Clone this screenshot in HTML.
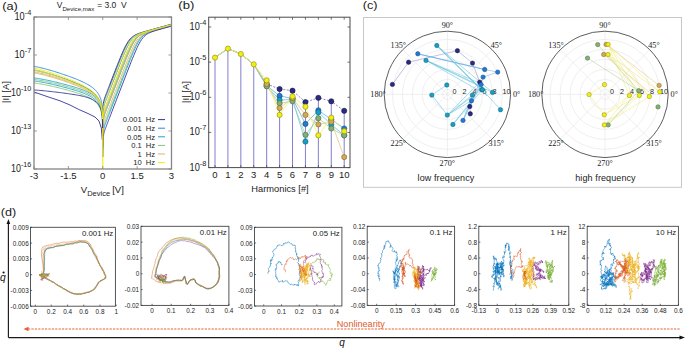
<!DOCTYPE html>
<html><head><meta charset="utf-8"><style>
html,body{margin:0;padding:0;background:#fff;width:685px;height:349px;overflow:hidden}
svg{display:block}

</style></head><body>
<svg width="685" height="349" viewBox="0 0 685 349">
<rect width="685" height="349" fill="#fff"/>
<text x="2.2" y="9.6" font-size="11" fill="#222" font-family="Liberation Sans, sans-serif" textLength="15.6" lengthAdjust="spacingAndGlyphs">(a)</text>
<text x="178.3" y="9.4" font-size="11" fill="#222" font-family="Liberation Sans, sans-serif" textLength="16" lengthAdjust="spacingAndGlyphs">(b)</text>
<text x="362.7" y="8.9" font-size="11" fill="#222" font-family="Liberation Sans, sans-serif" textLength="14.8" lengthAdjust="spacingAndGlyphs">(c)</text>
<text x="0.8" y="215.9" font-size="11" fill="#222" font-family="Liberation Sans, sans-serif" textLength="15.4" lengthAdjust="spacingAndGlyphs">(d)</text>
<text x="56.80" y="8.10" font-size="8.4" text-anchor="start" fill="#222" font-family="Liberation Sans, sans-serif" >V</text>
<text x="62.40" y="11.10" font-size="6.1" text-anchor="start" fill="#222" font-family="Liberation Sans, sans-serif" >Device,max</text>
<text x="97.20" y="8.10" font-size="8.5" text-anchor="start" fill="#222" font-family="Liberation Sans, sans-serif" >= 3.0&#160; V</text>
<polyline points="34.00,79.50 35.15,79.60 36.29,79.75 37.44,79.91 38.58,80.09 39.73,80.28 40.87,80.47 42.02,80.68 43.17,80.90 44.31,81.12 45.46,81.34 46.60,81.58 47.75,81.82 48.90,82.06 50.04,82.31 51.19,82.56 52.33,82.82 53.48,83.08 54.62,83.35 55.77,83.62 56.92,83.90 58.06,84.17 59.21,84.46 60.35,84.74 61.50,85.03 62.65,85.32 63.79,85.62 64.94,85.92 66.08,86.23 67.23,86.53 68.38,86.85 69.52,87.17 70.67,87.49 71.81,87.82 72.96,88.15 74.10,88.49 75.25,88.84 76.40,89.19 77.54,89.56 78.69,89.93 79.83,90.31 80.98,90.71 82.12,91.13 83.27,91.56 84.42,92.01 85.56,92.48 86.71,92.98 87.85,93.52 89.00,94.09 90.15,94.71 91.29,95.38 92.44,96.12 93.58,96.94 94.73,97.86 95.88,98.91 96.10,99.14 96.33,99.38 96.56,99.62 96.79,99.88 97.02,100.14 97.25,100.41 97.48,100.69 97.71,100.99 97.94,101.29 98.17,101.61 98.40,101.95 98.62,102.30 98.85,102.67 99.08,103.05 99.31,103.46 99.54,103.90 99.77,104.37 100.00,104.87 100.23,105.40 100.46,105.99 100.69,106.63 100.92,107.34 101.15,108.14 101.38,109.05 101.60,110.12 101.83,111.42 102.06,113.07 102.11,113.46 102.15,113.88 102.20,114.34 102.25,114.83 102.29,115.37 102.34,115.96 102.38,116.62 102.43,117.37 102.47,118.23 102.52,119.25 102.57,120.49 102.61,122.09 102.66,124.34 102.70,128.16 102.71,128.74 102.71,129.39 102.72,129.75 102.78,134.43 102.79,134.07 102.79,133.41 102.80,132.82 102.84,128.91 102.89,126.58 102.93,124.91 102.98,123.60 103.03,122.53 103.07,121.62 103.12,120.83 103.16,120.13 103.21,119.51 103.25,118.96 103.30,118.45 103.35,117.99 103.39,117.56 103.44,117.17 103.67,115.58 103.90,114.39 104.12,113.44 104.35,112.62 104.58,111.90 104.81,111.22 105.04,110.58 105.27,109.96 105.50,109.34 105.73,108.74 105.96,108.14 106.19,107.54 106.42,106.94 106.65,106.34 106.88,105.75 107.10,105.15 107.33,104.55 107.56,103.96 107.79,103.36 108.02,102.77 108.25,102.17 108.48,101.58 108.71,100.98 108.94,100.39 109.17,99.79 109.40,99.20 109.62,98.60 110.77,95.63 111.92,92.65 113.06,89.68 114.21,86.71 115.35,83.74 116.50,80.77 117.65,77.80 118.79,74.85 119.94,71.89 121.08,68.96 122.23,66.03 123.38,63.13 124.52,60.26 125.67,57.44 126.81,54.68 127.96,51.99 129.10,49.42 130.25,46.99 131.40,44.74 132.54,42.69 133.69,40.86 134.83,39.28 135.98,37.93 137.12,36.80 138.27,35.86 139.42,35.07 140.56,34.41 141.71,33.84 142.85,33.35 144.00,32.90 145.15,32.50 146.29,32.12 147.44,31.76 148.58,31.41 149.73,31.07 150.88,30.74 152.02,30.41 153.17,30.09 154.31,29.77 155.46,29.45 156.60,29.13 157.75,28.81 158.90,28.49 160.04,28.17 161.19,27.86 162.33,27.54 163.48,27.22 164.62,26.91 165.77,26.59 166.92,26.27 168.06,25.96 169.21,25.64 170.35,25.32 171.50,25.01" fill="none" stroke="#86c47a" stroke-width="0.9" stroke-linejoin="round" />
<polyline points="34.00,83.00 35.15,83.10 36.29,83.25 37.44,83.41 38.58,83.59 39.73,83.78 40.87,83.97 42.02,84.18 43.17,84.40 44.31,84.62 45.46,84.84 46.60,85.08 47.75,85.32 48.90,85.56 50.04,85.81 51.19,86.06 52.33,86.32 53.48,86.58 54.62,86.85 55.77,87.12 56.92,87.40 58.06,87.67 59.21,87.96 60.35,88.24 61.50,88.53 62.65,88.82 63.79,89.12 64.94,89.42 66.08,89.73 67.23,90.03 68.38,90.35 69.52,90.67 70.67,90.99 71.81,91.32 72.96,91.65 74.10,91.99 75.25,92.34 76.40,92.69 77.54,93.06 78.69,93.43 79.83,93.81 80.98,94.21 82.12,94.63 83.27,95.06 84.42,95.51 85.56,95.98 86.71,96.48 87.85,97.02 89.00,97.59 90.15,98.21 91.29,98.88 92.44,99.62 93.58,100.44 94.73,101.36 95.88,102.41 96.10,102.64 96.33,102.88 96.56,103.12 96.79,103.38 97.02,103.64 97.25,103.91 97.48,104.19 97.71,104.49 97.94,104.79 98.17,105.11 98.40,105.45 98.62,105.80 98.85,106.17 99.08,106.55 99.31,106.96 99.54,107.40 99.77,107.87 100.00,108.37 100.23,108.90 100.46,109.49 100.69,110.13 100.92,110.84 101.15,111.64 101.38,112.55 101.60,113.62 101.83,114.92 102.06,116.57 102.11,116.96 102.15,117.38 102.20,117.84 102.25,118.33 102.29,118.87 102.34,119.46 102.38,120.12 102.43,120.87 102.47,121.73 102.52,122.75 102.57,123.99 102.61,125.59 102.66,127.84 102.70,131.66 102.71,132.24 102.71,132.89 102.72,133.25 102.78,146.12 102.79,145.76 102.79,145.10 102.80,144.51 102.84,140.60 102.89,138.27 102.93,136.60 102.98,135.29 103.03,134.22 103.07,133.31 103.12,132.52 103.16,131.82 103.21,131.20 103.25,130.65 103.30,130.14 103.35,129.68 103.39,129.25 103.44,128.86 103.67,127.27 103.90,126.08 104.12,125.13 104.35,124.31 104.58,123.59 104.81,122.91 105.04,122.27 105.27,121.65 105.50,121.03 105.73,120.43 105.96,119.82 106.19,119.23 106.42,118.63 106.65,118.03 106.88,117.43 107.10,116.84 107.33,116.24 107.56,115.65 107.79,115.05 108.02,114.46 108.25,113.86 108.48,113.27 108.71,112.67 108.94,112.08 109.17,111.48 109.40,110.88 109.62,110.29 110.77,107.31 111.92,104.34 113.06,101.36 114.21,98.39 115.35,95.41 116.50,92.44 117.65,89.46 118.79,86.49 119.94,83.52 121.08,80.55 122.23,77.59 123.38,74.63 124.52,71.67 125.67,68.73 126.81,65.81 127.96,62.90 129.10,60.03 130.25,57.20 131.40,54.42 132.54,51.73 133.69,49.14 134.83,46.69 135.98,44.41 137.12,42.33 138.27,40.47 139.42,38.86 140.56,37.48 141.71,36.32 142.85,35.35 144.00,34.55 145.15,33.87 146.29,33.29 147.44,32.79 148.58,32.34 149.73,31.93 150.88,31.54 152.02,31.18 153.17,30.83 154.31,30.49 155.46,30.16 156.60,29.83 157.75,29.51 158.90,29.18 160.04,28.86 161.19,28.55 162.33,28.23 163.48,27.91 164.62,27.59 165.77,27.27 166.92,26.96 168.06,26.64 169.21,26.32 170.35,26.01 171.50,25.69" fill="none" stroke="#86c47a" stroke-width="0.9" stroke-linejoin="round" />
<polyline points="34.00,78.00 35.15,78.10 36.29,78.25 37.44,78.41 38.58,78.59 39.73,78.78 40.87,78.97 42.02,79.18 43.17,79.40 44.31,79.62 45.46,79.84 46.60,80.08 47.75,80.32 48.90,80.56 50.04,80.81 51.19,81.06 52.33,81.32 53.48,81.58 54.62,81.85 55.77,82.12 56.92,82.40 58.06,82.67 59.21,82.96 60.35,83.24 61.50,83.53 62.65,83.82 63.79,84.12 64.94,84.42 66.08,84.73 67.23,85.03 68.38,85.35 69.52,85.67 70.67,85.99 71.81,86.32 72.96,86.65 74.10,86.99 75.25,87.34 76.40,87.69 77.54,88.06 78.69,88.43 79.83,88.81 80.98,89.21 82.12,89.63 83.27,90.06 84.42,90.51 85.56,90.98 86.71,91.48 87.85,92.02 89.00,92.59 90.15,93.21 91.29,93.88 92.44,94.62 93.58,95.44 94.73,96.36 95.88,97.41 96.10,97.64 96.33,97.88 96.56,98.12 96.79,98.38 97.02,98.64 97.25,98.91 97.48,99.19 97.71,99.49 97.94,99.79 98.17,100.11 98.40,100.45 98.62,100.80 98.85,101.17 99.08,101.55 99.31,101.96 99.54,102.40 99.77,102.87 100.00,103.37 100.23,103.90 100.46,104.49 100.69,105.13 100.92,105.84 101.15,106.64 101.38,107.55 101.60,108.62 101.83,109.92 102.06,111.57 102.11,111.96 102.15,112.38 102.20,112.84 102.25,113.33 102.29,113.87 102.34,114.46 102.38,115.12 102.43,115.87 102.47,116.73 102.52,117.75 102.57,118.99 102.61,120.59 102.66,122.84 102.70,126.66 102.71,127.24 102.71,127.89 102.72,128.25 102.78,137.03 102.79,136.67 102.79,136.01 102.80,135.42 102.84,131.50 102.89,129.18 102.93,127.51 102.98,126.20 103.03,125.13 103.07,124.22 103.12,123.43 103.16,122.73 103.21,122.11 103.25,121.55 103.30,121.05 103.35,120.58 103.39,120.16 103.44,119.77 103.67,118.17 103.90,116.99 104.12,116.03 104.35,115.22 104.58,114.50 104.81,113.82 105.04,113.18 105.27,112.55 105.50,111.94 105.73,111.33 105.96,110.73 106.19,110.13 106.42,109.54 106.65,108.94 106.88,108.34 107.10,107.75 107.33,107.15 107.56,106.56 107.79,105.96 108.02,105.37 108.25,104.77 108.48,104.17 108.71,103.58 108.94,102.98 109.17,102.39 109.40,101.79 109.62,101.20 110.77,98.22 111.92,95.25 113.06,92.27 114.21,89.30 115.35,86.33 116.50,83.36 117.65,80.39 118.79,77.43 119.94,74.47 121.08,71.52 122.23,68.58 123.38,65.66 124.52,62.76 125.67,59.89 126.81,57.07 127.96,54.32 129.10,51.64 130.25,49.08 131.40,46.67 132.54,44.43 133.69,42.39 134.83,40.59 135.98,39.02 137.12,37.69 138.27,36.58 139.42,35.65 140.56,34.88 141.71,34.22 142.85,33.66 144.00,33.17 145.15,32.73 146.29,32.33 147.44,31.95 148.58,31.59 149.73,31.24 150.88,30.91 152.02,30.57 153.17,30.25 154.31,29.92 155.46,29.60 156.60,29.28 157.75,28.96 158.90,28.64 160.04,28.33 161.19,28.01 162.33,27.69 163.48,27.37 164.62,27.06 165.77,26.74 166.92,26.42 168.06,26.11 169.21,25.79 170.35,25.47 171.50,25.16" fill="none" stroke="#1ea5c8" stroke-width="0.9" stroke-linejoin="round" />
<polyline points="34.00,81.00 35.15,81.10 36.29,81.25 37.44,81.41 38.58,81.59 39.73,81.78 40.87,81.97 42.02,82.18 43.17,82.40 44.31,82.62 45.46,82.84 46.60,83.08 47.75,83.32 48.90,83.56 50.04,83.81 51.19,84.06 52.33,84.32 53.48,84.58 54.62,84.85 55.77,85.12 56.92,85.40 58.06,85.67 59.21,85.96 60.35,86.24 61.50,86.53 62.65,86.82 63.79,87.12 64.94,87.42 66.08,87.73 67.23,88.03 68.38,88.35 69.52,88.67 70.67,88.99 71.81,89.32 72.96,89.65 74.10,89.99 75.25,90.34 76.40,90.69 77.54,91.06 78.69,91.43 79.83,91.81 80.98,92.21 82.12,92.63 83.27,93.06 84.42,93.51 85.56,93.98 86.71,94.48 87.85,95.02 89.00,95.59 90.15,96.21 91.29,96.88 92.44,97.62 93.58,98.44 94.73,99.36 95.88,100.41 96.10,100.64 96.33,100.88 96.56,101.12 96.79,101.38 97.02,101.64 97.25,101.91 97.48,102.19 97.71,102.49 97.94,102.79 98.17,103.11 98.40,103.45 98.62,103.80 98.85,104.17 99.08,104.55 99.31,104.96 99.54,105.40 99.77,105.87 100.00,106.37 100.23,106.90 100.46,107.49 100.69,108.13 100.92,108.84 101.15,109.64 101.38,110.55 101.60,111.62 101.83,112.92 102.06,114.57 102.11,114.96 102.15,115.38 102.20,115.84 102.25,116.33 102.29,116.87 102.34,117.46 102.38,118.12 102.43,118.87 102.47,119.73 102.52,120.75 102.57,121.99 102.61,123.59 102.66,125.84 102.70,129.66 102.71,130.24 102.71,130.89 102.72,131.25 102.78,148.72 102.79,148.36 102.79,147.70 102.80,147.11 102.84,143.19 102.89,140.87 102.93,139.20 102.98,137.89 103.03,136.82 103.07,135.91 103.12,135.12 103.16,134.42 103.21,133.80 103.25,133.24 103.30,132.74 103.35,132.28 103.39,131.85 103.44,131.46 103.67,129.86 103.90,128.68 104.12,127.72 104.35,126.91 104.58,126.19 104.81,125.51 105.04,124.87 105.27,124.24 105.50,123.63 105.73,123.02 105.96,122.42 106.19,121.82 106.42,121.23 106.65,120.63 106.88,120.03 107.10,119.44 107.33,118.84 107.56,118.25 107.79,117.65 108.02,117.05 108.25,116.46 108.48,115.86 108.71,115.27 108.94,114.67 109.17,114.08 109.40,113.48 109.62,112.89 110.77,109.91 111.92,106.93 113.06,103.96 114.21,100.98 115.35,98.01 116.50,95.03 117.65,92.06 118.79,89.08 119.94,86.11 121.08,83.14 122.23,80.17 123.38,77.21 124.52,74.25 125.67,71.30 126.81,68.36 127.96,65.43 129.10,62.53 130.25,59.66 131.40,56.83 132.54,54.07 133.69,51.38 134.83,48.80 135.98,46.36 137.12,44.10 138.27,42.03 139.42,40.20 140.56,38.60 141.71,37.24 142.85,36.09 144.00,35.14 145.15,34.35 146.29,33.68 147.44,33.11 148.58,32.61 149.73,32.16 150.88,31.76 152.02,31.37 153.17,31.01 154.31,30.66 155.46,30.33 156.60,29.99 157.75,29.67 158.90,29.34 160.04,29.02 161.19,28.70 162.33,28.38 163.48,28.06 164.62,27.74 165.77,27.43 166.92,27.11 168.06,26.79 169.21,26.48 170.35,26.16 171.50,25.84" fill="none" stroke="#1ea5c8" stroke-width="0.9" stroke-linejoin="round" />
<polyline points="34.00,70.60 35.15,70.74 36.29,70.93 37.44,71.15 38.58,71.39 39.73,71.64 40.87,71.90 42.02,72.18 43.17,72.47 44.31,72.76 45.46,73.07 46.60,73.38 47.75,73.70 48.90,74.03 50.04,74.36 51.19,74.70 52.33,75.04 53.48,75.40 54.62,75.75 55.77,76.11 56.92,76.48 58.06,76.85 59.21,77.23 60.35,77.61 61.50,77.99 62.65,78.38 63.79,78.78 64.94,79.18 66.08,79.58 67.23,79.99 68.38,80.41 69.52,80.83 70.67,81.26 71.81,81.69 72.96,82.13 74.10,82.58 75.25,83.03 76.40,83.49 77.54,83.96 78.69,84.45 79.83,84.94 80.98,85.45 82.12,85.97 83.27,86.52 84.42,87.08 85.56,87.67 86.71,88.28 87.85,88.93 89.00,89.62 90.15,90.35 91.29,91.14 92.44,92.00 93.58,92.93 94.73,93.97 95.88,95.14 96.10,95.40 96.33,95.66 96.56,95.93 96.79,96.21 97.02,96.49 97.25,96.79 97.48,97.09 97.71,97.41 97.94,97.74 98.17,98.08 98.40,98.44 98.62,98.82 98.85,99.21 99.08,99.62 99.31,100.06 99.54,100.52 99.77,101.01 100.00,101.53 100.23,102.09 100.46,102.70 100.69,103.37 100.92,104.10 101.15,104.93 101.38,105.86 101.60,106.96 101.83,108.28 102.06,109.95 102.11,110.35 102.15,110.78 102.20,111.23 102.25,111.73 102.29,112.28 102.34,112.87 102.38,113.54 102.43,114.29 102.47,115.16 102.52,116.18 102.57,117.43 102.61,119.03 102.66,121.28 102.70,125.11 102.71,125.69 102.71,126.34 102.72,127.08 102.72,127.93 102.72,127.93 102.78,133.08 102.78,133.08 102.78,132.22 102.79,131.48 102.79,130.82 102.80,130.23 102.84,126.31 102.89,123.98 102.93,122.31 102.98,121.00 103.03,119.93 103.07,119.02 103.12,118.23 103.16,117.54 103.21,116.92 103.25,116.36 103.30,115.85 103.35,115.39 103.39,114.96 103.44,114.57 103.67,112.98 103.90,111.79 104.12,110.84 104.35,110.03 104.58,109.30 104.81,108.63 105.04,107.98 105.27,107.36 105.50,106.75 105.73,106.14 105.96,105.54 106.19,104.94 106.42,104.34 106.65,103.74 106.88,103.15 107.10,102.55 107.33,101.96 107.56,101.36 107.79,100.77 108.02,100.17 108.25,99.58 108.48,98.98 108.71,98.39 108.94,97.79 109.17,97.20 109.40,96.60 109.62,96.01 110.77,93.03 111.92,90.06 113.06,87.08 114.21,84.11 115.35,81.15 116.50,78.18 117.65,75.22 118.79,72.27 119.94,69.33 121.08,66.41 122.23,63.50 123.38,60.63 124.52,57.80 125.67,55.03 126.81,52.35 127.96,49.77 129.10,47.32 130.25,45.05 131.40,42.98 132.54,41.14 133.69,39.54 134.83,38.17 135.98,37.02 137.12,36.07 138.27,35.27 139.42,34.60 140.56,34.03 141.71,33.53 142.85,33.08 144.00,32.67 145.15,32.29 146.29,31.93 147.44,31.58 148.58,31.24 149.73,30.91 150.88,30.58 152.02,30.25 153.17,29.93 154.31,29.61 155.46,29.29 156.60,28.97 157.75,28.66 158.90,28.34 160.04,28.02 161.19,27.70 162.33,27.39 163.48,27.07 164.62,26.75 165.77,26.44 166.92,26.12 168.06,25.80 169.21,25.49 170.35,25.17 171.50,24.85" fill="none" stroke="#d9b56a" stroke-width="0.9" stroke-linejoin="round" />
<polyline points="34.00,73.00 35.15,73.14 36.29,73.32 37.44,73.54 38.58,73.77 39.73,74.01 40.87,74.27 42.02,74.54 43.17,74.82 44.31,75.11 45.46,75.41 46.60,75.72 47.75,76.03 48.90,76.35 50.04,76.67 51.19,77.01 52.33,77.34 53.48,77.69 54.62,78.03 55.77,78.39 56.92,78.74 58.06,79.11 59.21,79.47 60.35,79.85 61.50,80.22 62.65,80.61 63.79,80.99 64.94,81.38 66.08,81.78 67.23,82.18 68.38,82.59 69.52,83.00 70.67,83.41 71.81,83.84 72.96,84.27 74.10,84.70 75.25,85.15 76.40,85.60 77.54,86.06 78.69,86.54 79.83,87.02 80.98,87.52 82.12,88.03 83.27,88.57 84.42,89.12 85.56,89.70 86.71,90.30 87.85,90.94 89.00,91.61 90.15,92.34 91.29,93.12 92.44,93.96 93.58,94.89 94.73,95.92 95.88,97.08 96.10,97.33 96.33,97.59 96.56,97.85 96.79,98.13 97.02,98.41 97.25,98.71 97.48,99.01 97.71,99.33 97.94,99.65 98.17,100.00 98.40,100.35 98.62,100.72 98.85,101.11 99.08,101.52 99.31,101.96 99.54,102.42 99.77,102.90 100.00,103.42 100.23,103.98 100.46,104.59 100.69,105.26 100.92,105.99 101.15,106.81 101.38,107.74 101.60,108.84 101.83,110.15 102.06,111.83 102.11,112.22 102.15,112.65 102.20,113.11 102.25,113.60 102.29,114.15 102.34,114.75 102.38,115.41 102.43,116.16 102.47,117.03 102.52,118.05 102.57,119.30 102.61,120.90 102.66,123.15 102.70,126.98 102.71,127.56 102.71,128.21 102.72,128.95 102.72,129.80 102.72,129.80 102.78,143.47 102.78,143.47 102.78,142.61 102.79,141.87 102.79,141.21 102.80,140.62 102.84,136.70 102.89,134.37 102.93,132.70 102.98,131.40 103.03,130.32 103.07,129.41 103.12,128.62 103.16,127.93 103.21,127.31 103.25,126.75 103.30,126.24 103.35,125.78 103.39,125.36 103.44,124.96 103.67,123.37 103.90,122.18 104.12,121.23 104.35,120.42 104.58,119.69 104.81,119.02 105.04,118.37 105.27,117.75 105.50,117.14 105.73,116.53 105.96,115.93 106.19,115.33 106.42,114.73 106.65,114.13 106.88,113.54 107.10,112.94 107.33,112.35 107.56,111.75 107.79,111.16 108.02,110.56 108.25,109.96 108.48,109.37 108.71,108.77 108.94,108.18 109.17,107.58 109.40,106.99 109.62,106.39 110.77,103.42 111.92,100.44 113.06,97.47 114.21,94.49 115.35,91.52 116.50,88.54 117.65,85.57 118.79,82.60 119.94,79.63 121.08,76.67 122.23,73.71 123.38,70.77 124.52,67.83 125.67,64.91 126.81,62.02 127.96,59.16 129.10,56.35 130.25,53.60 131.40,50.95 132.54,48.41 133.69,46.01 134.83,43.80 135.98,41.81 137.12,40.04 138.27,38.51 139.42,37.22 140.56,36.14 141.71,35.24 142.85,34.49 144.00,33.85 145.15,33.30 146.29,32.82 147.44,32.39 148.58,31.99 149.73,31.61 150.88,31.26 152.02,30.91 153.17,30.57 154.31,30.24 155.46,29.92 156.60,29.59 157.75,29.27 158.90,28.95 160.04,28.63 161.19,28.31 162.33,28.00 163.48,27.68 164.62,27.36 165.77,27.05 166.92,26.73 168.06,26.41 169.21,26.09 170.35,25.78 171.50,25.46" fill="none" stroke="#d9b56a" stroke-width="0.9" stroke-linejoin="round" />
<polyline points="34.00,72.00 35.15,72.14 36.29,72.32 37.44,72.54 38.58,72.77 39.73,73.01 40.87,73.27 42.02,73.54 43.17,73.82 44.31,74.11 45.46,74.41 46.60,74.72 47.75,75.03 48.90,75.35 50.04,75.67 51.19,76.01 52.33,76.34 53.48,76.69 54.62,77.03 55.77,77.39 56.92,77.74 58.06,78.11 59.21,78.47 60.35,78.85 61.50,79.22 62.65,79.61 63.79,79.99 64.94,80.38 66.08,80.78 67.23,81.18 68.38,81.59 69.52,82.00 70.67,82.41 71.81,82.84 72.96,83.27 74.10,83.70 75.25,84.15 76.40,84.60 77.54,85.06 78.69,85.54 79.83,86.02 80.98,86.52 82.12,87.03 83.27,87.57 84.42,88.12 85.56,88.70 86.71,89.30 87.85,89.94 89.00,90.61 90.15,91.34 91.29,92.12 92.44,92.96 93.58,93.89 94.73,94.92 95.88,96.08 96.10,96.33 96.33,96.59 96.56,96.85 96.79,97.13 97.02,97.41 97.25,97.71 97.48,98.01 97.71,98.33 97.94,98.65 98.17,99.00 98.40,99.35 98.62,99.72 98.85,100.11 99.08,100.52 99.31,100.96 99.54,101.42 99.77,101.90 100.00,102.42 100.23,102.98 100.46,103.59 100.69,104.26 100.92,104.99 101.15,105.81 101.38,106.74 101.60,107.84 101.83,109.15 102.06,110.83 102.11,111.22 102.15,111.65 102.20,112.11 102.25,112.60 102.29,113.15 102.34,113.75 102.38,114.41 102.43,115.16 102.47,116.03 102.52,117.05 102.57,118.30 102.61,119.90 102.66,122.15 102.70,125.98 102.71,126.56 102.71,127.21 102.72,127.95 102.72,128.80 102.72,128.80 102.78,138.28 102.78,138.28 102.78,137.42 102.79,136.67 102.79,136.01 102.80,135.42 102.84,131.50 102.89,129.18 102.93,127.51 102.98,126.20 103.03,125.13 103.07,124.22 103.12,123.43 103.16,122.73 103.21,122.11 103.25,121.55 103.30,121.05 103.35,120.58 103.39,120.16 103.44,119.77 103.67,118.17 103.90,116.99 104.12,116.03 104.35,115.22 104.58,114.50 104.81,113.82 105.04,113.18 105.27,112.55 105.50,111.94 105.73,111.33 105.96,110.73 106.19,110.13 106.42,109.54 106.65,108.94 106.88,108.34 107.10,107.75 107.33,107.15 107.56,106.56 107.79,105.96 108.02,105.37 108.25,104.77 108.48,104.17 108.71,103.58 108.94,102.98 109.17,102.39 109.40,101.79 109.62,101.20 110.77,98.22 111.92,95.25 113.06,92.27 114.21,89.30 115.35,86.33 116.50,83.36 117.65,80.39 118.79,77.43 119.94,74.47 121.08,71.52 122.23,68.58 123.38,65.66 124.52,62.76 125.67,59.89 126.81,57.07 127.96,54.32 129.10,51.64 130.25,49.08 131.40,46.67 132.54,44.43 133.69,42.39 134.83,40.59 135.98,39.02 137.12,37.69 138.27,36.58 139.42,35.65 140.56,34.88 141.71,34.22 142.85,33.66 144.00,33.17 145.15,32.73 146.29,32.33 147.44,31.95 148.58,31.59 149.73,31.24 150.88,30.91 152.02,30.57 153.17,30.25 154.31,29.92 155.46,29.60 156.60,29.28 157.75,28.96 158.90,28.64 160.04,28.33 161.19,28.01 162.33,27.69 163.48,27.37 164.62,27.06 165.77,26.74 166.92,26.42 168.06,26.11 169.21,25.79 170.35,25.47 171.50,25.16" fill="none" stroke="#d9b56a" stroke-width="0.9" stroke-linejoin="round" />
<polyline points="34.00,66.50 35.15,66.64 36.29,66.82 37.44,67.04 38.58,67.27 39.73,67.52 40.87,67.78 42.02,68.05 43.17,68.34 44.31,68.63 45.46,68.93 46.60,69.23 47.75,69.55 48.90,69.87 50.04,70.20 51.19,70.53 52.33,70.87 53.48,71.21 54.62,71.56 55.77,71.92 56.92,72.28 58.06,72.64 59.21,73.01 60.35,73.39 61.50,73.77 62.65,74.15 63.79,74.54 64.94,74.93 66.08,75.33 67.23,75.73 68.38,76.14 69.52,76.56 70.67,76.98 71.81,77.40 72.96,77.83 74.10,78.27 75.25,78.72 76.40,79.17 77.54,79.64 78.69,80.11 79.83,80.60 80.98,81.10 82.12,81.62 83.27,82.15 84.42,82.71 85.56,83.29 86.71,83.90 87.85,84.54 89.00,85.22 90.15,85.94 91.29,86.72 92.44,87.57 93.58,88.50 94.73,89.53 95.88,90.69 96.10,90.95 96.33,91.21 96.56,91.47 96.79,91.75 97.02,92.03 97.25,92.33 97.48,92.63 97.71,92.95 97.94,93.28 98.17,93.62 98.40,93.97 98.62,94.35 98.85,94.74 99.08,95.15 99.31,95.58 99.54,96.04 99.77,96.53 100.00,97.05 100.23,97.61 100.46,98.22 100.69,98.88 100.92,99.62 101.15,100.44 101.38,101.37 101.60,102.47 101.83,103.78 102.06,105.46 102.11,105.85 102.15,106.28 102.20,106.74 102.25,107.24 102.29,107.78 102.34,108.38 102.38,109.04 102.43,109.80 102.47,110.66 102.52,111.69 102.57,112.93 102.61,114.53 102.66,116.78 102.70,120.61 102.71,121.20 102.71,121.85 102.72,122.58 102.72,123.43 102.73,124.44 102.73,124.44 102.77,125.00 102.78,123.99 102.78,123.13 102.79,122.38 102.79,121.72 102.80,121.13 102.84,117.22 102.89,114.89 102.93,113.22 102.98,111.91 103.03,110.84 103.07,109.93 103.12,109.14 103.16,108.45 103.21,107.83 103.25,107.27 103.30,106.76 103.35,106.30 103.39,105.87 103.44,105.48 103.67,103.89 103.90,102.70 104.12,101.75 104.35,100.94 104.58,100.21 104.81,99.54 105.04,98.89 105.27,98.27 105.50,97.66 105.73,97.05 105.96,96.45 106.19,95.85 106.42,95.25 106.65,94.66 106.88,94.06 107.10,93.46 107.33,92.87 107.56,92.27 107.79,91.68 108.02,91.08 108.25,90.49 108.48,89.90 108.71,89.30 108.94,88.71 109.17,88.11 109.40,87.52 109.62,86.92 110.77,83.95 111.92,80.99 113.06,78.02 114.21,75.06 115.35,72.12 116.50,69.18 117.65,66.26 118.79,63.36 119.94,60.50 121.08,57.68 122.23,54.93 123.38,52.26 124.52,49.71 125.67,47.30 126.81,45.07 127.96,43.05 129.10,41.26 130.25,39.71 131.40,38.39 132.54,37.29 133.69,36.37 134.83,35.60 135.98,34.95 137.12,34.40 138.27,33.91 139.42,33.47 140.56,33.07 141.71,32.69 142.85,32.34 144.00,31.99 145.15,31.65 146.29,31.32 147.44,30.99 148.58,30.67 149.73,30.35 150.88,30.03 152.02,29.71 153.17,29.39 154.31,29.07 155.46,28.76 156.60,28.44 157.75,28.12 158.90,27.81 160.04,27.49 161.19,27.17 162.33,26.85 163.48,26.54 164.62,26.22 165.77,25.90 166.92,25.59 168.06,25.27 169.21,24.95 170.35,24.64 171.50,24.32" fill="none" stroke="#2a86e0" stroke-width="0.9" stroke-linejoin="round" />
<polyline points="34.00,70.00 35.15,70.14 36.29,70.34 37.44,70.57 38.58,70.81 39.73,71.07 40.87,71.35 42.02,71.63 43.17,71.93 44.31,72.24 45.46,72.55 46.60,72.88 47.75,73.21 48.90,73.55 50.04,73.89 51.19,74.24 52.33,74.60 53.48,74.96 54.62,75.33 55.77,75.70 56.92,76.08 58.06,76.47 59.21,76.85 60.35,77.25 61.50,77.65 62.65,78.05 63.79,78.46 64.94,78.87 66.08,79.29 67.23,79.72 68.38,80.15 69.52,80.58 70.67,81.02 71.81,81.47 72.96,81.92 74.10,82.38 75.25,82.85 76.40,83.33 77.54,83.82 78.69,84.31 79.83,84.82 80.98,85.35 82.12,85.89 83.27,86.44 84.42,87.02 85.56,87.62 86.71,88.25 87.85,88.92 89.00,89.62 90.15,90.37 91.29,91.18 92.44,92.05 93.58,93.00 94.73,94.06 95.88,95.24 96.10,95.50 96.33,95.77 96.56,96.04 96.79,96.32 97.02,96.61 97.25,96.91 97.48,97.22 97.71,97.54 97.94,97.87 98.17,98.22 98.40,98.58 98.62,98.96 98.85,99.35 99.08,99.77 99.31,100.21 99.54,100.67 99.77,101.16 100.00,101.69 100.23,102.25 100.46,102.87 100.69,103.54 100.92,104.27 101.15,105.10 101.38,106.04 101.60,107.14 101.83,108.46 102.06,110.14 102.11,110.54 102.15,110.97 102.20,111.42 102.25,111.92 102.29,112.47 102.34,113.07 102.38,113.73 102.43,114.49 102.47,115.36 102.52,116.38 102.57,117.63 102.61,119.23 102.66,121.48 102.70,125.31 102.71,125.89 102.71,126.54 102.72,127.28 102.72,128.13 102.73,129.13 102.73,129.13 102.77,128.90 102.78,127.89 102.78,127.03 102.79,126.28 102.79,125.62 102.80,125.03 102.84,121.11 102.89,118.79 102.93,117.12 102.98,115.81 103.03,114.74 103.07,113.83 103.12,113.04 103.16,112.34 103.21,111.72 103.25,111.16 103.30,110.66 103.35,110.19 103.39,109.77 103.44,109.38 103.67,107.78 103.90,106.59 104.12,105.64 104.35,104.83 104.58,104.11 104.81,103.43 105.04,102.79 105.27,102.16 105.50,101.55 105.73,100.95 105.96,100.34 106.19,99.74 106.42,99.15 106.65,98.55 106.88,97.95 107.10,97.36 107.33,96.76 107.56,96.17 107.79,95.57 108.02,94.98 108.25,94.38 108.48,93.79 108.71,93.19 108.94,92.60 109.17,92.00 109.40,91.41 109.62,90.81 110.77,87.84 111.92,84.87 113.06,81.90 114.21,78.94 115.35,75.98 116.50,73.02 117.65,70.08 118.79,67.15 119.94,64.25 121.08,61.37 122.23,58.53 123.38,55.75 124.52,53.05 125.67,50.45 126.81,47.98 127.96,45.68 129.10,43.58 130.25,41.70 131.40,40.06 132.54,38.65 133.69,37.47 134.83,36.49 135.98,35.67 137.12,34.98 138.27,34.39 139.42,33.88 140.56,33.43 141.71,33.01 142.85,32.63 144.00,32.26 145.15,31.91 146.29,31.57 147.44,31.24 148.58,30.91 149.73,30.58 150.88,30.26 152.02,29.94 153.17,29.62 154.31,29.30 155.46,28.99 156.60,28.67 157.75,28.35 158.90,28.03 160.04,27.72 161.19,27.40 162.33,27.08 163.48,26.77 164.62,26.45 165.77,26.13 166.92,25.82 168.06,25.50 169.21,25.18 170.35,24.87 171.50,24.55" fill="none" stroke="#2a86e0" stroke-width="0.9" stroke-linejoin="round" />
<polyline points="34.00,90.00 35.15,90.05 36.29,90.12 37.44,90.21 38.58,90.29 39.73,90.39 40.87,90.49 42.02,90.59 43.17,90.70 44.31,90.81 45.46,90.92 46.60,91.04 47.75,91.16 48.90,91.28 50.04,91.41 51.19,91.54 52.33,91.66 53.48,91.80 54.62,91.93 55.77,92.07 56.92,92.20 58.06,92.35 59.21,92.49 60.35,92.63 61.50,92.78 62.65,92.93 63.79,93.08 64.94,93.23 66.08,93.39 67.23,93.55 68.38,93.71 69.52,93.88 70.67,94.05 71.81,94.22 72.96,94.40 74.10,94.58 75.25,94.77 76.40,94.97 77.54,95.17 78.69,95.38 79.83,95.60 80.98,95.84 82.12,96.09 83.27,96.35 84.42,96.64 85.56,96.94 86.71,97.28 87.85,97.64 89.00,98.04 90.15,98.49 91.29,98.99 92.44,99.56 93.58,100.20 94.73,100.95 95.88,101.83 96.10,102.02 96.33,102.23 96.56,102.44 96.79,102.65 97.02,102.88 97.25,103.12 97.48,103.36 97.71,103.62 97.94,103.89 98.17,104.18 98.40,104.48 98.62,104.79 98.85,105.12 99.08,105.48 99.31,105.85 99.54,106.25 99.77,106.68 100.00,107.15 100.23,107.65 100.46,108.20 100.69,108.80 100.92,109.48 101.15,110.24 101.38,111.12 101.60,112.15 101.83,113.41 102.06,115.03 102.11,115.41 102.15,115.83 102.20,116.27 102.25,116.76 102.29,117.29 102.34,117.88 102.38,118.53 102.43,119.27 102.47,120.13 102.52,121.14 102.57,122.37 102.61,123.96 102.66,126.20 102.70,130.02 102.71,130.60 102.71,131.25 102.72,131.98 102.72,132.83 102.73,133.84 102.73,135.06 102.77,124.16 102.77,122.92 102.78,121.91 102.78,121.05 102.79,120.31 102.79,119.65 102.80,119.06 102.84,115.14 102.89,112.81 102.93,111.14 102.98,109.83 103.03,108.76 103.07,107.85 103.12,107.06 103.16,106.37 103.21,105.75 103.25,105.19 103.30,104.68 103.35,104.22 103.39,103.80 103.44,103.40 103.67,101.81 103.90,100.62 104.12,99.67 104.35,98.86 104.58,98.13 104.81,97.46 105.04,96.82 105.27,96.19 105.50,95.58 105.73,94.97 105.96,94.37 106.19,93.77 106.42,93.18 106.65,92.58 106.88,91.98 107.10,91.39 107.33,90.79 107.56,90.20 107.79,89.60 108.02,89.01 108.25,88.41 108.48,87.82 108.71,87.23 108.94,86.63 109.17,86.04 109.40,85.44 109.62,84.85 110.77,81.88 111.92,78.92 113.06,75.96 114.21,73.01 115.35,70.06 116.50,67.14 117.65,64.24 118.79,61.36 119.94,58.53 121.08,55.76 122.23,53.07 123.38,50.48 124.52,48.03 125.67,45.75 126.81,43.67 127.96,41.82 129.10,40.20 130.25,38.83 131.40,37.67 132.54,36.71 133.69,35.90 134.83,35.23 135.98,34.65 137.12,34.15 138.27,33.70 139.42,33.29 140.56,32.90 141.71,32.54 142.85,32.19 144.00,31.85 145.15,31.52 146.29,31.19 147.44,30.87 148.58,30.55 149.73,30.22 150.88,29.91 152.02,29.59 153.17,29.27 154.31,28.95 155.46,28.63 156.60,28.32 157.75,28.00 158.90,27.68 160.04,27.37 161.19,27.05 162.33,26.73 163.48,26.42 164.62,26.10 165.77,25.78 166.92,25.47 168.06,25.15 169.21,24.83 170.35,24.52 171.50,24.20" fill="none" stroke="#33339a" stroke-width="0.9" stroke-linejoin="round" />
<polyline points="34.00,68.30 35.15,68.45 36.29,68.66 37.44,68.90 38.58,69.15 39.73,69.43 40.87,69.72 42.02,70.02 43.17,70.33 44.31,70.65 45.46,70.98 46.60,71.32 47.75,71.67 48.90,72.02 50.04,72.38 51.19,72.75 52.33,73.13 53.48,73.51 54.62,73.89 55.77,74.29 56.92,74.68 58.06,75.09 59.21,75.50 60.35,75.91 61.50,76.33 62.65,76.75 63.79,77.18 64.94,77.62 66.08,78.05 67.23,78.50 68.38,78.95 69.52,79.41 70.67,79.87 71.81,80.34 72.96,80.81 74.10,81.29 75.25,81.78 76.40,82.28 77.54,82.79 78.69,83.31 79.83,83.84 80.98,84.39 82.12,84.95 83.27,85.53 84.42,86.13 85.56,86.76 86.71,87.41 87.85,88.10 89.00,88.83 90.15,89.60 91.29,90.43 92.44,91.32 93.58,92.30 94.73,93.38 95.88,94.59 96.10,94.86 96.33,95.13 96.56,95.40 96.79,95.69 97.02,95.98 97.25,96.29 97.48,96.60 97.71,96.93 97.94,97.26 98.17,97.62 98.40,97.98 98.62,98.36 98.85,98.77 99.08,99.19 99.31,99.63 99.54,100.10 99.77,100.60 100.00,101.13 100.23,101.70 100.46,102.32 100.69,102.99 100.92,103.73 101.15,104.56 101.38,105.51 101.60,106.61 101.83,107.94 102.06,109.62 102.11,110.02 102.15,110.45 102.20,110.91 102.25,111.41 102.29,111.95 102.34,112.55 102.38,113.22 102.43,113.98 102.47,114.85 102.52,115.87 102.57,117.12 102.61,118.72 102.66,120.97 102.70,124.81 102.71,125.39 102.71,126.04 102.72,126.78 102.72,127.63 102.73,128.63 102.73,129.86 102.74,131.45 102.74,133.68 102.75,137.49 102.75,136.50 102.76,132.68 102.76,130.43 102.77,128.84 102.77,127.60 102.78,126.59 102.78,125.73 102.79,124.98 102.79,124.32 102.80,123.73 102.84,119.81 102.89,117.49 102.93,115.82 102.98,114.51 103.03,113.44 103.07,112.53 103.12,111.74 103.16,111.04 103.21,110.42 103.25,109.86 103.30,109.36 103.35,108.90 103.39,108.47 103.44,108.08 103.67,106.48 103.90,105.30 104.12,104.34 104.35,103.53 104.58,102.81 104.81,102.13 105.04,101.49 105.27,100.87 105.50,100.25 105.73,99.65 105.96,99.04 106.19,98.45 106.42,97.85 106.65,97.25 106.88,96.66 107.10,96.06 107.33,95.47 107.56,94.87 107.79,94.28 108.02,93.68 108.25,93.09 108.48,92.49 108.71,91.90 108.94,91.30 109.17,90.71 109.40,90.11 109.62,89.52 110.77,86.54 111.92,83.57 113.06,80.61 114.21,77.64 115.35,74.69 116.50,71.74 117.65,68.80 118.79,65.88 119.94,62.99 121.08,60.13 122.23,57.32 123.38,54.57 124.52,51.91 125.67,49.37 126.81,46.97 127.96,44.76 129.10,42.76 130.25,40.98 131.40,39.45 132.54,38.15 133.69,37.07 134.83,36.16 135.98,35.41 137.12,34.77 138.27,34.22 139.42,33.74 140.56,33.30 141.71,32.90 142.85,32.53 144.00,32.17 145.15,31.82 146.29,31.49 147.44,31.16 148.58,30.83 149.73,30.51 150.88,30.18 152.02,29.86 153.17,29.55 154.31,29.23 155.46,28.91 156.60,28.59 157.75,28.27 158.90,27.96 160.04,27.64 161.19,27.32 162.33,27.01 163.48,26.69 164.62,26.37 165.77,26.06 166.92,25.74 168.06,25.42 169.21,25.11 170.35,24.79 171.50,24.47" fill="none" stroke="#f2ee10" stroke-width="0.9" stroke-linejoin="round" />
<polyline points="34.00,70.00 35.15,70.15 36.29,70.36 37.44,70.60 38.58,70.86 39.73,71.13 40.87,71.42 42.02,71.73 43.17,72.04 44.31,72.36 45.46,72.70 46.60,73.04 47.75,73.39 48.90,73.74 50.04,74.11 51.19,74.48 52.33,74.85 53.48,75.24 54.62,75.62 55.77,76.02 56.92,76.42 58.06,76.82 59.21,77.23 60.35,77.65 61.50,78.07 62.65,78.50 63.79,78.93 64.94,79.36 66.08,79.81 67.23,80.25 68.38,80.71 69.52,81.16 70.67,81.63 71.81,82.10 72.96,82.58 74.10,83.06 75.25,83.55 76.40,84.06 77.54,84.57 78.69,85.09 79.83,85.62 80.98,86.17 82.12,86.74 83.27,87.32 84.42,87.92 85.56,88.55 86.71,89.21 87.85,89.90 89.00,90.63 90.15,91.40 91.29,92.24 92.44,93.13 93.58,94.11 94.73,95.20 95.88,96.41 96.10,96.67 96.33,96.94 96.56,97.22 96.79,97.51 97.02,97.80 97.25,98.11 97.48,98.42 97.71,98.75 97.94,99.09 98.17,99.44 98.40,99.80 98.62,100.19 98.85,100.59 99.08,101.01 99.31,101.45 99.54,101.92 99.77,102.42 100.00,102.95 100.23,103.52 100.46,104.14 100.69,104.82 100.92,105.56 101.15,106.39 101.38,107.34 101.60,108.44 101.83,109.77 102.06,111.45 102.11,111.85 102.15,112.28 102.20,112.74 102.25,113.24 102.29,113.79 102.34,114.39 102.38,115.06 102.43,115.81 102.47,116.68 102.52,117.70 102.57,118.95 102.61,120.56 102.66,122.81 102.70,126.64 102.71,127.22 102.71,127.87 102.72,128.61 102.72,129.46 102.73,130.46 102.73,131.69 102.74,133.28 102.74,135.51 102.75,139.33 102.75,143.00 102.76,139.17 102.76,136.93 102.77,135.33 102.77,134.10 102.78,133.08 102.78,132.22 102.79,131.48 102.79,130.82 102.80,130.23 102.84,126.31 102.89,123.98 102.93,122.31 102.98,121.00 103.03,119.93 103.07,119.02 103.12,118.23 103.16,117.54 103.21,116.92 103.25,116.36 103.30,115.85 103.35,115.39 103.39,114.96 103.44,114.57 103.67,112.98 103.90,111.79 104.12,110.84 104.35,110.03 104.58,109.30 104.81,108.63 105.04,107.98 105.27,107.36 105.50,106.75 105.73,106.14 105.96,105.54 106.19,104.94 106.42,104.34 106.65,103.74 106.88,103.15 107.10,102.55 107.33,101.96 107.56,101.36 107.79,100.77 108.02,100.17 108.25,99.58 108.48,98.98 108.71,98.39 108.94,97.79 109.17,97.20 109.40,96.60 109.62,96.01 110.77,93.03 111.92,90.06 113.06,87.08 114.21,84.11 115.35,81.15 116.50,78.18 117.65,75.22 118.79,72.27 119.94,69.33 121.08,66.41 122.23,63.50 123.38,60.63 124.52,57.80 125.67,55.03 126.81,52.35 127.96,49.77 129.10,47.32 130.25,45.05 131.40,42.98 132.54,41.14 133.69,39.54 134.83,38.17 135.98,37.02 137.12,36.07 138.27,35.27 139.42,34.60 140.56,34.03 141.71,33.53 142.85,33.08 144.00,32.67 145.15,32.29 146.29,31.93 147.44,31.58 148.58,31.24 149.73,30.91 150.88,30.58 152.02,30.25 153.17,29.93 154.31,29.61 155.46,29.29 156.60,28.97 157.75,28.66 158.90,28.34 160.04,28.02 161.19,27.70 162.33,27.39 163.48,27.07 164.62,26.75 165.77,26.44 166.92,26.12 168.06,25.80 169.21,25.49 170.35,25.17 171.50,24.85" fill="none" stroke="#f2ee10" stroke-width="0.9" stroke-linejoin="round" />
<polyline points="34.00,92.00 47.00,96.50 60.00,100.80 70.00,105.00 78.60,109.40 88.00,113.50 95.00,117.00 99.00,121.00 101.30,128.00 102.40,140.00 102.43,119.27 102.47,120.13 102.52,121.14 102.57,122.37 102.61,123.96 102.66,126.20 102.70,130.02 102.71,130.60 102.71,131.25 102.72,131.98 102.72,132.83 102.73,133.84 102.73,135.06 102.77,156.90 102.77,155.66 102.78,154.64 102.78,153.78 102.79,153.04 102.79,152.38 102.80,151.79 102.84,147.87 102.89,145.54 102.93,143.87 102.98,142.57 103.03,141.49 103.07,140.58 103.12,139.79 103.16,139.10 103.21,138.48 103.25,137.92 103.30,137.41 103.35,136.95 103.39,136.53 103.44,136.13 103.67,134.54 103.90,133.35 104.12,132.40 104.35,131.59 104.58,130.86 104.81,130.19 105.04,129.54 105.27,128.92 105.50,128.31 105.73,127.70 105.96,127.10 106.19,126.50 106.42,125.90 106.65,125.30 106.88,124.71 107.10,124.11 107.33,123.52 107.56,122.92 107.79,122.33 108.02,121.73 108.25,121.13 108.48,120.54 108.71,119.94 108.94,119.35 109.17,118.75 109.40,118.16 109.62,117.56 110.77,114.59 111.92,111.61 113.06,108.63 114.21,105.66 115.35,102.68 116.50,99.71 117.65,96.73 118.79,93.75 119.94,90.78 121.08,87.81 122.23,84.84 123.38,81.87 124.52,78.90 125.67,75.94 126.81,72.98 127.96,70.03 129.10,67.10 130.25,64.18 131.40,61.29 132.54,58.43 133.69,55.62 134.83,52.88 135.98,50.23 137.12,47.69 138.27,45.31 139.42,43.11 140.56,41.12 141.71,39.37 142.85,37.85 144.00,36.57 145.15,35.49 146.29,34.60 147.44,33.85 148.58,33.22 149.73,32.68 150.88,32.20 152.02,31.77 153.17,31.37 154.31,31.00 155.46,30.64 156.60,30.30 157.75,29.96 158.90,29.63 160.04,29.30 161.19,28.98 162.33,28.66 163.48,28.34 164.62,28.02 165.77,27.70 166.92,27.38 168.06,27.07 169.21,26.75 170.35,26.43 171.50,26.12" fill="none" stroke="#33339a" stroke-width="0.9" stroke-linejoin="round" />
<line x1="102.75" y1="128.00" x2="102.75" y2="169.00" stroke="#f2ee10" stroke-width="1.2" />
<rect x="34" y="17" width="137.5" height="152" fill="none" stroke="#858585" stroke-width="1.3"/>
<line x1="34.00" y1="169.00" x2="34.00" y2="166.00" stroke="#858585" stroke-width="0.8" />
<line x1="34.00" y1="17.00" x2="34.00" y2="20.00" stroke="#858585" stroke-width="0.8" />
<text x="34.00" y="179.00" font-size="9.5" text-anchor="middle" fill="#222" font-family="Liberation Sans, sans-serif" >-3</text>
<line x1="68.38" y1="169.00" x2="68.38" y2="166.00" stroke="#858585" stroke-width="0.8" />
<line x1="68.38" y1="17.00" x2="68.38" y2="20.00" stroke="#858585" stroke-width="0.8" />
<text x="68.38" y="179.00" font-size="9.5" text-anchor="middle" fill="#222" font-family="Liberation Sans, sans-serif" >-1.5</text>
<line x1="102.75" y1="169.00" x2="102.75" y2="166.00" stroke="#858585" stroke-width="0.8" />
<line x1="102.75" y1="17.00" x2="102.75" y2="20.00" stroke="#858585" stroke-width="0.8" />
<text x="102.75" y="179.00" font-size="9.5" text-anchor="middle" fill="#222" font-family="Liberation Sans, sans-serif" >0</text>
<line x1="137.12" y1="169.00" x2="137.12" y2="166.00" stroke="#858585" stroke-width="0.8" />
<line x1="137.12" y1="17.00" x2="137.12" y2="20.00" stroke="#858585" stroke-width="0.8" />
<text x="137.12" y="179.00" font-size="9.5" text-anchor="middle" fill="#222" font-family="Liberation Sans, sans-serif" >1.5</text>
<line x1="171.50" y1="169.00" x2="171.50" y2="166.00" stroke="#858585" stroke-width="0.8" />
<line x1="171.50" y1="17.00" x2="171.50" y2="20.00" stroke="#858585" stroke-width="0.8" />
<text x="171.50" y="179.00" font-size="9.5" text-anchor="middle" fill="#222" font-family="Liberation Sans, sans-serif" >3</text>
<line x1="34.00" y1="17.00" x2="37.00" y2="17.00" stroke="#858585" stroke-width="0.8" />
<line x1="171.50" y1="17.00" x2="168.50" y2="17.00" stroke="#858585" stroke-width="0.8" />
<text x="31.3" y="19.80" font-size="10" text-anchor="end" fill="#222" font-family="Liberation Sans, sans-serif" textLength="16.8" lengthAdjust="spacingAndGlyphs">10<tspan dy="-4.9" font-size="8">-4</tspan></text>
<line x1="34.00" y1="55.00" x2="37.00" y2="55.00" stroke="#858585" stroke-width="0.8" />
<line x1="171.50" y1="55.00" x2="168.50" y2="55.00" stroke="#858585" stroke-width="0.8" />
<text x="31.3" y="57.80" font-size="10" text-anchor="end" fill="#222" font-family="Liberation Sans, sans-serif" textLength="16.8" lengthAdjust="spacingAndGlyphs">10<tspan dy="-4.9" font-size="8">-7</tspan></text>
<line x1="34.00" y1="93.00" x2="37.00" y2="93.00" stroke="#858585" stroke-width="0.8" />
<line x1="171.50" y1="93.00" x2="168.50" y2="93.00" stroke="#858585" stroke-width="0.8" />
<text x="31.3" y="95.80" font-size="10" text-anchor="end" fill="#222" font-family="Liberation Sans, sans-serif" textLength="20.3" lengthAdjust="spacingAndGlyphs">10<tspan dy="-4.9" font-size="8">-10</tspan></text>
<line x1="34.00" y1="131.00" x2="37.00" y2="131.00" stroke="#858585" stroke-width="0.8" />
<line x1="171.50" y1="131.00" x2="168.50" y2="131.00" stroke="#858585" stroke-width="0.8" />
<text x="31.3" y="133.80" font-size="10" text-anchor="end" fill="#222" font-family="Liberation Sans, sans-serif" textLength="20.3" lengthAdjust="spacingAndGlyphs">10<tspan dy="-4.9" font-size="8">-13</tspan></text>
<line x1="34.00" y1="169.00" x2="37.00" y2="169.00" stroke="#858585" stroke-width="0.8" />
<line x1="171.50" y1="169.00" x2="168.50" y2="169.00" stroke="#858585" stroke-width="0.8" />
<text x="31.3" y="171.80" font-size="10" text-anchor="end" fill="#222" font-family="Liberation Sans, sans-serif" textLength="20.3" lengthAdjust="spacingAndGlyphs">10<tspan dy="-4.9" font-size="8">-16</tspan></text>
<text x="80.80" y="193.00" font-size="9.6" text-anchor="start" fill="#222" font-family="Liberation Sans, sans-serif" >V</text>
<text x="87.20" y="195.80" font-size="7.5" text-anchor="start" fill="#222" font-family="Liberation Sans, sans-serif" >Device</text>
<text x="112.20" y="193.00" font-size="9.6" text-anchor="start" fill="#222" font-family="Liberation Sans, sans-serif" >[V]</text>
<text transform="translate(9,92) rotate(-90)" font-size="9.5" text-anchor="middle" fill="#222" font-family="Liberation Sans, sans-serif">|I| [A]</text>
<text x="141.80" y="122.40" font-size="7.6" text-anchor="end" fill="#222" font-family="Liberation Sans, sans-serif" >0.001</text>
<text x="145.80" y="122.40" font-size="7.6" text-anchor="start" fill="#222" font-family="Liberation Sans, sans-serif" >Hz</text>
<line x1="158.00" y1="119.60" x2="165.00" y2="119.60" stroke="#33339a" stroke-width="1" />
<text x="141.80" y="131.00" font-size="7.6" text-anchor="end" fill="#222" font-family="Liberation Sans, sans-serif" >0.01</text>
<text x="145.80" y="131.00" font-size="7.6" text-anchor="start" fill="#222" font-family="Liberation Sans, sans-serif" >Hz</text>
<line x1="158.00" y1="128.20" x2="165.00" y2="128.20" stroke="#2a86e0" stroke-width="1" />
<text x="141.80" y="139.60" font-size="7.6" text-anchor="end" fill="#222" font-family="Liberation Sans, sans-serif" >0.05</text>
<text x="145.80" y="139.60" font-size="7.6" text-anchor="start" fill="#222" font-family="Liberation Sans, sans-serif" >Hz</text>
<line x1="158.00" y1="136.80" x2="165.00" y2="136.80" stroke="#1ea5c8" stroke-width="1" />
<text x="141.80" y="148.20" font-size="7.6" text-anchor="end" fill="#222" font-family="Liberation Sans, sans-serif" >0.1</text>
<text x="145.80" y="148.20" font-size="7.6" text-anchor="start" fill="#222" font-family="Liberation Sans, sans-serif" >Hz</text>
<line x1="158.00" y1="145.40" x2="165.00" y2="145.40" stroke="#86c47a" stroke-width="1" />
<text x="141.80" y="156.80" font-size="7.6" text-anchor="end" fill="#222" font-family="Liberation Sans, sans-serif" >1</text>
<text x="145.80" y="156.80" font-size="7.6" text-anchor="start" fill="#222" font-family="Liberation Sans, sans-serif" >Hz</text>
<line x1="158.00" y1="154.00" x2="165.00" y2="154.00" stroke="#d9b56a" stroke-width="1" />
<text x="141.80" y="165.40" font-size="7.6" text-anchor="end" fill="#222" font-family="Liberation Sans, sans-serif" >10</text>
<text x="145.80" y="165.40" font-size="7.6" text-anchor="start" fill="#222" font-family="Liberation Sans, sans-serif" >Hz</text>
<line x1="158.00" y1="162.60" x2="165.00" y2="162.60" stroke="#f2ee10" stroke-width="1" />
<line x1="215.00" y1="57.60" x2="215.00" y2="167.60" stroke="#7571c6" stroke-width="0.9" />
<line x1="227.92" y1="48.60" x2="227.92" y2="167.60" stroke="#7571c6" stroke-width="0.9" />
<line x1="240.84" y1="54.00" x2="240.84" y2="167.60" stroke="#7571c6" stroke-width="0.9" />
<line x1="253.76" y1="64.30" x2="253.76" y2="167.60" stroke="#7571c6" stroke-width="0.9" />
<line x1="266.68" y1="84.00" x2="266.68" y2="167.60" stroke="#7571c6" stroke-width="0.9" />
<line x1="279.60" y1="89.00" x2="279.60" y2="167.60" stroke="#7571c6" stroke-width="0.9" />
<line x1="292.52" y1="90.70" x2="292.52" y2="167.60" stroke="#7571c6" stroke-width="0.9" />
<line x1="305.44" y1="102.10" x2="305.44" y2="167.60" stroke="#7571c6" stroke-width="0.9" />
<line x1="318.36" y1="97.80" x2="318.36" y2="167.60" stroke="#7571c6" stroke-width="0.9" />
<line x1="331.28" y1="101.30" x2="331.28" y2="167.60" stroke="#7571c6" stroke-width="0.9" />
<line x1="344.20" y1="110.80" x2="344.20" y2="167.60" stroke="#7571c6" stroke-width="0.9" />
<polyline points="215.00,57.60 227.92,48.60 240.84,54.00 253.76,64.30 266.68,84.00 279.60,89.00 292.52,90.70 305.44,102.10 318.36,97.80 331.28,101.30 344.20,110.80" fill="none" stroke="#55559a" stroke-width="0.7" stroke-linejoin="round" stroke-dasharray="2,1.5"/>
<polyline points="215.00,57.60 227.92,48.60 240.84,54.00 253.76,64.30 266.68,85.50 279.60,95.90 292.52,98.50 305.44,123.90 318.36,110.30 331.28,119.50 344.20,128.50" fill="none" stroke="#5aa0e0" stroke-width="0.7" stroke-linejoin="round" />
<polyline points="215.00,57.60 227.92,48.60 240.84,54.00 253.76,64.30 266.68,86.00 279.60,100.00 292.52,99.50 305.44,141.60 318.36,112.20 331.28,124.50 344.20,135.30" fill="none" stroke="#50c0d8" stroke-width="0.7" stroke-linejoin="round" />
<polyline points="215.00,57.60 227.92,48.60 240.84,54.00 253.76,64.30 266.68,86.30 279.60,103.20 292.52,101.30 305.44,134.80 318.36,118.20 331.28,128.50 344.20,135.30" fill="none" stroke="#a0c890" stroke-width="0.7" stroke-linejoin="round" />
<polyline points="215.00,57.60 227.92,48.60 240.84,54.00 253.76,64.30 266.68,84.00 279.60,108.10 292.52,98.00 305.44,114.90 318.36,124.40 331.28,121.70 344.20,157.10" fill="none" stroke="#e0c080" stroke-width="0.7" stroke-linejoin="round" />
<polyline points="215.00,57.60 227.92,48.60 240.84,54.00 253.76,64.30 266.68,80.30 279.60,114.90 292.52,96.40 305.44,106.70 318.36,135.30 331.28,117.60 344.20,131.20" fill="none" stroke="#f4f060" stroke-width="0.7" stroke-linejoin="round" />
<circle cx="266.68" cy="84.00" r="2.6" fill="#2b2a7e" stroke="#15154a" stroke-width="0.6"/>
<circle cx="279.60" cy="89.00" r="2.6" fill="#2b2a7e" stroke="#15154a" stroke-width="0.6"/>
<circle cx="292.52" cy="90.70" r="2.6" fill="#2b2a7e" stroke="#15154a" stroke-width="0.6"/>
<circle cx="305.44" cy="102.10" r="2.6" fill="#2b2a7e" stroke="#15154a" stroke-width="0.6"/>
<circle cx="318.36" cy="97.80" r="2.6" fill="#2b2a7e" stroke="#15154a" stroke-width="0.6"/>
<circle cx="331.28" cy="101.30" r="2.6" fill="#2b2a7e" stroke="#15154a" stroke-width="0.6"/>
<circle cx="344.20" cy="110.80" r="2.6" fill="#2b2a7e" stroke="#15154a" stroke-width="0.6"/>
<circle cx="266.68" cy="85.50" r="2.6" fill="#2378d2" stroke="#174a80" stroke-width="0.6"/>
<circle cx="279.60" cy="95.90" r="2.6" fill="#2378d2" stroke="#174a80" stroke-width="0.6"/>
<circle cx="292.52" cy="98.50" r="2.6" fill="#2378d2" stroke="#174a80" stroke-width="0.6"/>
<circle cx="305.44" cy="123.90" r="2.6" fill="#2378d2" stroke="#174a80" stroke-width="0.6"/>
<circle cx="318.36" cy="110.30" r="2.6" fill="#2378d2" stroke="#174a80" stroke-width="0.6"/>
<circle cx="331.28" cy="119.50" r="2.6" fill="#2378d2" stroke="#174a80" stroke-width="0.6"/>
<circle cx="344.20" cy="128.50" r="2.6" fill="#2378d2" stroke="#174a80" stroke-width="0.6"/>
<circle cx="266.68" cy="86.00" r="2.6" fill="#14a0c6" stroke="#0d5f75" stroke-width="0.6"/>
<circle cx="279.60" cy="100.00" r="2.6" fill="#14a0c6" stroke="#0d5f75" stroke-width="0.6"/>
<circle cx="292.52" cy="99.50" r="2.6" fill="#14a0c6" stroke="#0d5f75" stroke-width="0.6"/>
<circle cx="305.44" cy="141.60" r="2.6" fill="#14a0c6" stroke="#0d5f75" stroke-width="0.6"/>
<circle cx="318.36" cy="112.20" r="2.6" fill="#14a0c6" stroke="#0d5f75" stroke-width="0.6"/>
<circle cx="331.28" cy="124.50" r="2.6" fill="#14a0c6" stroke="#0d5f75" stroke-width="0.6"/>
<circle cx="344.20" cy="135.30" r="2.6" fill="#14a0c6" stroke="#0d5f75" stroke-width="0.6"/>
<circle cx="266.68" cy="86.30" r="2.6" fill="#84b072" stroke="#4d6a42" stroke-width="0.6"/>
<circle cx="279.60" cy="103.20" r="2.6" fill="#84b072" stroke="#4d6a42" stroke-width="0.6"/>
<circle cx="292.52" cy="101.30" r="2.6" fill="#84b072" stroke="#4d6a42" stroke-width="0.6"/>
<circle cx="305.44" cy="134.80" r="2.6" fill="#84b072" stroke="#4d6a42" stroke-width="0.6"/>
<circle cx="318.36" cy="118.20" r="2.6" fill="#84b072" stroke="#4d6a42" stroke-width="0.6"/>
<circle cx="331.28" cy="128.50" r="2.6" fill="#84b072" stroke="#4d6a42" stroke-width="0.6"/>
<circle cx="344.20" cy="135.30" r="2.6" fill="#84b072" stroke="#4d6a42" stroke-width="0.6"/>
<circle cx="266.68" cy="84.00" r="2.6" fill="#d4a955" stroke="#7d6432" stroke-width="0.6"/>
<circle cx="279.60" cy="108.10" r="2.6" fill="#d4a955" stroke="#7d6432" stroke-width="0.6"/>
<circle cx="292.52" cy="98.00" r="2.6" fill="#d4a955" stroke="#7d6432" stroke-width="0.6"/>
<circle cx="305.44" cy="114.90" r="2.6" fill="#d4a955" stroke="#7d6432" stroke-width="0.6"/>
<circle cx="318.36" cy="124.40" r="2.6" fill="#d4a955" stroke="#7d6432" stroke-width="0.6"/>
<circle cx="331.28" cy="121.70" r="2.6" fill="#d4a955" stroke="#7d6432" stroke-width="0.6"/>
<circle cx="344.20" cy="157.10" r="2.6" fill="#d4a955" stroke="#7d6432" stroke-width="0.6"/>
<circle cx="215.00" cy="57.60" r="2.6" fill="#f2ee10" stroke="#8a8a10" stroke-width="0.6"/>
<circle cx="227.92" cy="48.60" r="2.6" fill="#f2ee10" stroke="#8a8a10" stroke-width="0.6"/>
<circle cx="240.84" cy="54.00" r="2.6" fill="#f2ee10" stroke="#8a8a10" stroke-width="0.6"/>
<circle cx="253.76" cy="64.30" r="2.6" fill="#f2ee10" stroke="#8a8a10" stroke-width="0.6"/>
<circle cx="266.68" cy="80.30" r="2.6" fill="#f2ee10" stroke="#8a8a10" stroke-width="0.6"/>
<circle cx="279.60" cy="114.90" r="2.6" fill="#f2ee10" stroke="#8a8a10" stroke-width="0.6"/>
<circle cx="292.52" cy="96.40" r="2.6" fill="#f2ee10" stroke="#8a8a10" stroke-width="0.6"/>
<circle cx="305.44" cy="106.70" r="2.6" fill="#f2ee10" stroke="#8a8a10" stroke-width="0.6"/>
<circle cx="318.36" cy="135.30" r="2.6" fill="#f2ee10" stroke="#8a8a10" stroke-width="0.6"/>
<circle cx="331.28" cy="117.60" r="2.6" fill="#f2ee10" stroke="#8a8a10" stroke-width="0.6"/>
<circle cx="344.20" cy="131.20" r="2.6" fill="#f2ee10" stroke="#8a8a10" stroke-width="0.6"/>
<rect x="208.7" y="17.2" width="141.3" height="150.4" fill="none" stroke="#4a4a4a" stroke-width="1"/>
<line x1="215.00" y1="17.20" x2="215.00" y2="19.70" stroke="#4a4a4a" stroke-width="0.8" />
<line x1="215.00" y1="167.60" x2="215.00" y2="165.10" stroke="#4a4a4a" stroke-width="0.8" />
<text x="215.00" y="178.00" font-size="9.5" text-anchor="middle" fill="#222" font-family="Liberation Sans, sans-serif" >0</text>
<line x1="227.92" y1="17.20" x2="227.92" y2="19.70" stroke="#4a4a4a" stroke-width="0.8" />
<line x1="227.92" y1="167.60" x2="227.92" y2="165.10" stroke="#4a4a4a" stroke-width="0.8" />
<text x="227.92" y="178.00" font-size="9.5" text-anchor="middle" fill="#222" font-family="Liberation Sans, sans-serif" >1</text>
<line x1="240.84" y1="17.20" x2="240.84" y2="19.70" stroke="#4a4a4a" stroke-width="0.8" />
<line x1="240.84" y1="167.60" x2="240.84" y2="165.10" stroke="#4a4a4a" stroke-width="0.8" />
<text x="240.84" y="178.00" font-size="9.5" text-anchor="middle" fill="#222" font-family="Liberation Sans, sans-serif" >2</text>
<line x1="253.76" y1="17.20" x2="253.76" y2="19.70" stroke="#4a4a4a" stroke-width="0.8" />
<line x1="253.76" y1="167.60" x2="253.76" y2="165.10" stroke="#4a4a4a" stroke-width="0.8" />
<text x="253.76" y="178.00" font-size="9.5" text-anchor="middle" fill="#222" font-family="Liberation Sans, sans-serif" >3</text>
<line x1="266.68" y1="17.20" x2="266.68" y2="19.70" stroke="#4a4a4a" stroke-width="0.8" />
<line x1="266.68" y1="167.60" x2="266.68" y2="165.10" stroke="#4a4a4a" stroke-width="0.8" />
<text x="266.68" y="178.00" font-size="9.5" text-anchor="middle" fill="#222" font-family="Liberation Sans, sans-serif" >4</text>
<line x1="279.60" y1="17.20" x2="279.60" y2="19.70" stroke="#4a4a4a" stroke-width="0.8" />
<line x1="279.60" y1="167.60" x2="279.60" y2="165.10" stroke="#4a4a4a" stroke-width="0.8" />
<text x="279.60" y="178.00" font-size="9.5" text-anchor="middle" fill="#222" font-family="Liberation Sans, sans-serif" >5</text>
<line x1="292.52" y1="17.20" x2="292.52" y2="19.70" stroke="#4a4a4a" stroke-width="0.8" />
<line x1="292.52" y1="167.60" x2="292.52" y2="165.10" stroke="#4a4a4a" stroke-width="0.8" />
<text x="292.52" y="178.00" font-size="9.5" text-anchor="middle" fill="#222" font-family="Liberation Sans, sans-serif" >6</text>
<line x1="305.44" y1="17.20" x2="305.44" y2="19.70" stroke="#4a4a4a" stroke-width="0.8" />
<line x1="305.44" y1="167.60" x2="305.44" y2="165.10" stroke="#4a4a4a" stroke-width="0.8" />
<text x="305.44" y="178.00" font-size="9.5" text-anchor="middle" fill="#222" font-family="Liberation Sans, sans-serif" >7</text>
<line x1="318.36" y1="17.20" x2="318.36" y2="19.70" stroke="#4a4a4a" stroke-width="0.8" />
<line x1="318.36" y1="167.60" x2="318.36" y2="165.10" stroke="#4a4a4a" stroke-width="0.8" />
<text x="318.36" y="178.00" font-size="9.5" text-anchor="middle" fill="#222" font-family="Liberation Sans, sans-serif" >8</text>
<line x1="331.28" y1="17.20" x2="331.28" y2="19.70" stroke="#4a4a4a" stroke-width="0.8" />
<line x1="331.28" y1="167.60" x2="331.28" y2="165.10" stroke="#4a4a4a" stroke-width="0.8" />
<text x="331.28" y="178.00" font-size="9.5" text-anchor="middle" fill="#222" font-family="Liberation Sans, sans-serif" >9</text>
<line x1="344.20" y1="17.20" x2="344.20" y2="19.70" stroke="#4a4a4a" stroke-width="0.8" />
<line x1="344.20" y1="167.60" x2="344.20" y2="165.10" stroke="#4a4a4a" stroke-width="0.8" />
<text x="344.20" y="178.00" font-size="9.5" text-anchor="middle" fill="#222" font-family="Liberation Sans, sans-serif" >10</text>
<line x1="208.70" y1="27.00" x2="211.20" y2="27.00" stroke="#4a4a4a" stroke-width="0.8" />
<line x1="350.00" y1="27.00" x2="347.50" y2="27.00" stroke="#4a4a4a" stroke-width="0.8" />
<text x="206.4" y="29.90" font-size="10" text-anchor="end" fill="#222" font-family="Liberation Sans, sans-serif" textLength="16.8" lengthAdjust="spacingAndGlyphs">10<tspan dy="-4.9" font-size="8">-4</tspan></text>
<line x1="208.70" y1="62.15" x2="211.20" y2="62.15" stroke="#4a4a4a" stroke-width="0.8" />
<line x1="350.00" y1="62.15" x2="347.50" y2="62.15" stroke="#4a4a4a" stroke-width="0.8" />
<text x="206.4" y="65.05" font-size="10" text-anchor="end" fill="#222" font-family="Liberation Sans, sans-serif" textLength="16.8" lengthAdjust="spacingAndGlyphs">10<tspan dy="-4.9" font-size="8">-5</tspan></text>
<line x1="208.70" y1="97.30" x2="211.20" y2="97.30" stroke="#4a4a4a" stroke-width="0.8" />
<line x1="350.00" y1="97.30" x2="347.50" y2="97.30" stroke="#4a4a4a" stroke-width="0.8" />
<text x="206.4" y="100.20" font-size="10" text-anchor="end" fill="#222" font-family="Liberation Sans, sans-serif" textLength="16.8" lengthAdjust="spacingAndGlyphs">10<tspan dy="-4.9" font-size="8">-6</tspan></text>
<line x1="208.70" y1="132.45" x2="211.20" y2="132.45" stroke="#4a4a4a" stroke-width="0.8" />
<line x1="350.00" y1="132.45" x2="347.50" y2="132.45" stroke="#4a4a4a" stroke-width="0.8" />
<text x="206.4" y="135.35" font-size="10" text-anchor="end" fill="#222" font-family="Liberation Sans, sans-serif" textLength="16.8" lengthAdjust="spacingAndGlyphs">10<tspan dy="-4.9" font-size="8">-7</tspan></text>
<line x1="208.70" y1="167.60" x2="211.20" y2="167.60" stroke="#4a4a4a" stroke-width="0.8" />
<line x1="350.00" y1="167.60" x2="347.50" y2="167.60" stroke="#4a4a4a" stroke-width="0.8" />
<text x="206.4" y="170.50" font-size="10" text-anchor="end" fill="#222" font-family="Liberation Sans, sans-serif" textLength="16.8" lengthAdjust="spacingAndGlyphs">10<tspan dy="-4.9" font-size="8">-8</tspan></text>
<text x="280.00" y="192.00" font-size="9.3" text-anchor="middle" fill="#222" font-family="Liberation Sans, sans-serif" >Harmonics [#]</text>
<text transform="translate(189.3,92) rotate(-90)" font-size="9.5" text-anchor="middle" fill="#222" font-family="Liberation Sans, sans-serif">|I| [A]</text>
<rect x="363.5" y="17.5" width="318" height="169.8" fill="none" stroke="#c8c8c8" stroke-width="1"/>
<circle cx="447.4" cy="94.4" r="5" fill="none" stroke="#e4e4e4" stroke-width="0.6"/>
<circle cx="447.4" cy="94.4" r="15" fill="none" stroke="#e4e4e4" stroke-width="0.6"/>
<circle cx="447.4" cy="94.4" r="25" fill="none" stroke="#e4e4e4" stroke-width="0.6"/>
<circle cx="447.4" cy="94.4" r="35" fill="none" stroke="#e4e4e4" stroke-width="0.6"/>
<circle cx="447.4" cy="94.4" r="45" fill="none" stroke="#e4e4e4" stroke-width="0.6"/>
<circle cx="447.4" cy="94.4" r="55" fill="none" stroke="#e4e4e4" stroke-width="0.6"/>
<line x1="447.40" y1="94.40" x2="510.60" y2="94.40" stroke="#e4e4e4" stroke-width="0.6" />
<line x1="447.40" y1="94.40" x2="492.09" y2="49.71" stroke="#e4e4e4" stroke-width="0.6" />
<line x1="447.40" y1="94.40" x2="447.40" y2="31.20" stroke="#e4e4e4" stroke-width="0.6" />
<line x1="447.40" y1="94.40" x2="402.71" y2="49.71" stroke="#e4e4e4" stroke-width="0.6" />
<line x1="447.40" y1="94.40" x2="384.20" y2="94.40" stroke="#e4e4e4" stroke-width="0.6" />
<line x1="447.40" y1="94.40" x2="402.71" y2="139.09" stroke="#e4e4e4" stroke-width="0.6" />
<line x1="447.40" y1="94.40" x2="447.40" y2="157.60" stroke="#e4e4e4" stroke-width="0.6" />
<line x1="447.40" y1="94.40" x2="492.09" y2="139.09" stroke="#e4e4e4" stroke-width="0.6" />
<circle cx="447.4" cy="94.4" r="63.2" fill="none" stroke="#333" stroke-width="0.8"/>
<text x="452.40" y="93.60" font-size="7.2" text-anchor="start" fill="#222" font-family="Liberation Sans, sans-serif" >0</text>
<text x="462.40" y="93.60" font-size="7.2" text-anchor="start" fill="#222" font-family="Liberation Sans, sans-serif" >2</text>
<text x="472.40" y="93.60" font-size="7.2" text-anchor="start" fill="#222" font-family="Liberation Sans, sans-serif" >4</text>
<text x="482.40" y="93.60" font-size="7.2" text-anchor="start" fill="#222" font-family="Liberation Sans, sans-serif" >6</text>
<text x="492.40" y="93.60" font-size="7.2" text-anchor="start" fill="#222" font-family="Liberation Sans, sans-serif" >8</text>
<text x="502.40" y="93.60" font-size="7.2" text-anchor="start" fill="#222" font-family="Liberation Sans, sans-serif" >10</text>
<text x="516.70" y="96.90" font-size="7.3" text-anchor="middle" fill="#222" font-family="Liberation Serif, serif" textLength="7.36" lengthAdjust="spacingAndGlyphs">0°</text>
<text x="496.40" y="47.90" font-size="7.3" text-anchor="middle" fill="#222" font-family="Liberation Serif, serif" textLength="11.45" lengthAdjust="spacingAndGlyphs">45°</text>
<text x="447.40" y="27.60" font-size="7.3" text-anchor="middle" fill="#222" font-family="Liberation Serif, serif" textLength="11.45" lengthAdjust="spacingAndGlyphs">90°</text>
<text x="398.40" y="47.90" font-size="7.3" text-anchor="middle" fill="#222" font-family="Liberation Serif, serif" textLength="15.53" lengthAdjust="spacingAndGlyphs">135°</text>
<text x="378.10" y="96.90" font-size="7.3" text-anchor="middle" fill="#222" font-family="Liberation Serif, serif" textLength="15.53" lengthAdjust="spacingAndGlyphs">180°</text>
<text x="398.40" y="145.90" font-size="7.3" text-anchor="middle" fill="#222" font-family="Liberation Serif, serif" textLength="15.53" lengthAdjust="spacingAndGlyphs">225°</text>
<text x="447.40" y="166.20" font-size="7.3" text-anchor="middle" fill="#222" font-family="Liberation Serif, serif" textLength="15.53" lengthAdjust="spacingAndGlyphs">270°</text>
<text x="496.40" y="145.90" font-size="7.3" text-anchor="middle" fill="#222" font-family="Liberation Serif, serif" textLength="15.53" lengthAdjust="spacingAndGlyphs">315°</text>
<circle cx="605" cy="94.4" r="5" fill="none" stroke="#e4e4e4" stroke-width="0.6"/>
<circle cx="605" cy="94.4" r="15" fill="none" stroke="#e4e4e4" stroke-width="0.6"/>
<circle cx="605" cy="94.4" r="25" fill="none" stroke="#e4e4e4" stroke-width="0.6"/>
<circle cx="605" cy="94.4" r="35" fill="none" stroke="#e4e4e4" stroke-width="0.6"/>
<circle cx="605" cy="94.4" r="45" fill="none" stroke="#e4e4e4" stroke-width="0.6"/>
<circle cx="605" cy="94.4" r="55" fill="none" stroke="#e4e4e4" stroke-width="0.6"/>
<line x1="605.00" y1="94.40" x2="668.20" y2="94.40" stroke="#e4e4e4" stroke-width="0.6" />
<line x1="605.00" y1="94.40" x2="649.69" y2="49.71" stroke="#e4e4e4" stroke-width="0.6" />
<line x1="605.00" y1="94.40" x2="605.00" y2="31.20" stroke="#e4e4e4" stroke-width="0.6" />
<line x1="605.00" y1="94.40" x2="560.31" y2="49.71" stroke="#e4e4e4" stroke-width="0.6" />
<line x1="605.00" y1="94.40" x2="541.80" y2="94.40" stroke="#e4e4e4" stroke-width="0.6" />
<line x1="605.00" y1="94.40" x2="560.31" y2="139.09" stroke="#e4e4e4" stroke-width="0.6" />
<line x1="605.00" y1="94.40" x2="605.00" y2="157.60" stroke="#e4e4e4" stroke-width="0.6" />
<line x1="605.00" y1="94.40" x2="649.69" y2="139.09" stroke="#e4e4e4" stroke-width="0.6" />
<circle cx="605" cy="94.4" r="63.2" fill="none" stroke="#333" stroke-width="0.8"/>
<text x="610.00" y="93.60" font-size="7.2" text-anchor="start" fill="#222" font-family="Liberation Sans, sans-serif" >0</text>
<text x="620.00" y="93.60" font-size="7.2" text-anchor="start" fill="#222" font-family="Liberation Sans, sans-serif" >2</text>
<text x="630.00" y="93.60" font-size="7.2" text-anchor="start" fill="#222" font-family="Liberation Sans, sans-serif" >4</text>
<text x="640.00" y="93.60" font-size="7.2" text-anchor="start" fill="#222" font-family="Liberation Sans, sans-serif" >6</text>
<text x="650.00" y="93.60" font-size="7.2" text-anchor="start" fill="#222" font-family="Liberation Sans, sans-serif" >8</text>
<text x="660.00" y="93.60" font-size="7.2" text-anchor="start" fill="#222" font-family="Liberation Sans, sans-serif" >10</text>
<text x="674.30" y="96.90" font-size="7.3" text-anchor="middle" fill="#222" font-family="Liberation Serif, serif" textLength="7.36" lengthAdjust="spacingAndGlyphs">0°</text>
<text x="654.00" y="47.90" font-size="7.3" text-anchor="middle" fill="#222" font-family="Liberation Serif, serif" textLength="11.45" lengthAdjust="spacingAndGlyphs">45°</text>
<text x="605.00" y="27.60" font-size="7.3" text-anchor="middle" fill="#222" font-family="Liberation Serif, serif" textLength="11.45" lengthAdjust="spacingAndGlyphs">90°</text>
<text x="556.00" y="47.90" font-size="7.3" text-anchor="middle" fill="#222" font-family="Liberation Serif, serif" textLength="15.53" lengthAdjust="spacingAndGlyphs">135°</text>
<text x="535.70" y="96.90" font-size="7.3" text-anchor="middle" fill="#222" font-family="Liberation Serif, serif" textLength="15.53" lengthAdjust="spacingAndGlyphs">180°</text>
<text x="556.00" y="145.90" font-size="7.3" text-anchor="middle" fill="#222" font-family="Liberation Serif, serif" textLength="15.53" lengthAdjust="spacingAndGlyphs">225°</text>
<text x="605.00" y="166.20" font-size="7.3" text-anchor="middle" fill="#222" font-family="Liberation Serif, serif" textLength="15.53" lengthAdjust="spacingAndGlyphs">270°</text>
<text x="654.00" y="145.90" font-size="7.3" text-anchor="middle" fill="#222" font-family="Liberation Serif, serif" textLength="15.53" lengthAdjust="spacingAndGlyphs">315°</text>
<polyline points="392.40,84.40 408.60,62.20 457.40,50.70 472.50,63.10 479.70,82.10 469.80,106.50 470.30,113.80" fill="none" stroke="#9a98d8" stroke-width="0.6" stroke-linejoin="round" />
<polyline points="417.80,53.80 484.70,69.50 497.70,72.10 483.10,77.10 481.10,84.60 471.50,100.70 463.00,120.40" fill="none" stroke="#7ab8e8" stroke-width="0.6" stroke-linejoin="round" />
<polyline points="417.80,53.80 484.70,69.50" fill="none" stroke="#5aa6e0" stroke-width="0.7" stroke-linejoin="round" />
<polyline points="436.80,45.50 481.70,89.60" fill="none" stroke="#6cc4e0" stroke-width="0.6" stroke-linejoin="round" />
<polyline points="426.00,60.40 492.50,92.40" fill="none" stroke="#6cc4e0" stroke-width="0.6" stroke-linejoin="round" />
<polyline points="446.80,85.00 431.80,95.10 447.30,115.10 472.40,95.10" fill="none" stroke="#6cc4e0" stroke-width="0.6" stroke-linejoin="round" />
<polyline points="452.90,124.50 482.30,89.70 500.50,109.70" fill="none" stroke="#6cc4e0" stroke-width="0.6" stroke-linejoin="round" />
<polyline points="447.30,115.10 471.50,100.70" fill="none" stroke="#6cc4e0" stroke-width="0.6" stroke-linejoin="round" />
<polyline points="463.00,120.40 481.10,84.60" fill="none" stroke="#6cc4e0" stroke-width="0.6" stroke-linejoin="round" />
<polyline points="436.80,45.50 480.00,88.00" fill="none" stroke="#6cc4e0" stroke-width="0.6" stroke-linejoin="round" />
<polyline points="426.00,60.40 481.00,86.00" fill="none" stroke="#6cc4e0" stroke-width="0.6" stroke-linejoin="round" />
<polyline points="426.00,60.40 482.50,92.50" fill="none" stroke="#6cc4e0" stroke-width="0.6" stroke-linejoin="round" />
<polyline points="426.00,60.40 479.50,83.00" fill="none" stroke="#6cc4e0" stroke-width="0.6" stroke-linejoin="round" />
<polyline points="436.80,45.50 487.00,96.00" fill="none" stroke="#6cc4e0" stroke-width="0.6" stroke-linejoin="round" />
<polyline points="436.80,45.50 492.50,92.40" fill="none" stroke="#6cc4e0" stroke-width="0.6" stroke-linejoin="round" />
<polyline points="447.30,115.10 479.70,82.10" fill="none" stroke="#6cc4e0" stroke-width="0.6" stroke-linejoin="round" />
<polyline points="447.30,115.10 481.70,89.60" fill="none" stroke="#6cc4e0" stroke-width="0.6" stroke-linejoin="round" />
<polyline points="452.90,124.50 471.50,100.70" fill="none" stroke="#6cc4e0" stroke-width="0.6" stroke-linejoin="round" />
<polyline points="463.00,120.40 472.40,95.10" fill="none" stroke="#6cc4e0" stroke-width="0.6" stroke-linejoin="round" />
<circle cx="392.4" cy="84.4" r="2.2" fill="#2b2a7e" stroke="#15154a" stroke-width="0.5"/>
<circle cx="408.6" cy="62.2" r="2.2" fill="#2b2a7e" stroke="#15154a" stroke-width="0.5"/>
<circle cx="457.4" cy="50.7" r="2.2" fill="#2b2a7e" stroke="#15154a" stroke-width="0.5"/>
<circle cx="472.5" cy="63.1" r="2.2" fill="#2b2a7e" stroke="#15154a" stroke-width="0.5"/>
<circle cx="479.7" cy="82.1" r="2.2" fill="#2b2a7e" stroke="#15154a" stroke-width="0.5"/>
<circle cx="469.8" cy="106.5" r="2.2" fill="#2b2a7e" stroke="#15154a" stroke-width="0.5"/>
<circle cx="470.3" cy="113.8" r="2.2" fill="#2b2a7e" stroke="#15154a" stroke-width="0.5"/>
<circle cx="417.8" cy="53.8" r="2.2" fill="#2378d2" stroke="#174a80" stroke-width="0.5"/>
<circle cx="484.7" cy="69.5" r="2.2" fill="#2378d2" stroke="#174a80" stroke-width="0.5"/>
<circle cx="497.7" cy="72.1" r="2.2" fill="#2378d2" stroke="#174a80" stroke-width="0.5"/>
<circle cx="483.1" cy="77.1" r="2.2" fill="#2378d2" stroke="#174a80" stroke-width="0.5"/>
<circle cx="481.1" cy="84.6" r="2.2" fill="#2378d2" stroke="#174a80" stroke-width="0.5"/>
<circle cx="471.5" cy="100.7" r="2.2" fill="#2378d2" stroke="#174a80" stroke-width="0.5"/>
<circle cx="463" cy="120.4" r="2.2" fill="#2378d2" stroke="#174a80" stroke-width="0.5"/>
<circle cx="436.8" cy="45.5" r="2.2" fill="#14a0c6" stroke="#0d5f75" stroke-width="0.5"/>
<circle cx="481.7" cy="89.6" r="2.2" fill="#14a0c6" stroke="#0d5f75" stroke-width="0.5"/>
<circle cx="426" cy="60.4" r="2.2" fill="#14a0c6" stroke="#0d5f75" stroke-width="0.5"/>
<circle cx="492.5" cy="92.4" r="2.2" fill="#14a0c6" stroke="#0d5f75" stroke-width="0.5"/>
<circle cx="446.8" cy="85" r="2.2" fill="#14a0c6" stroke="#0d5f75" stroke-width="0.5"/>
<circle cx="431.8" cy="95.1" r="2.2" fill="#14a0c6" stroke="#0d5f75" stroke-width="0.5"/>
<circle cx="447.3" cy="115.1" r="2.2" fill="#14a0c6" stroke="#0d5f75" stroke-width="0.5"/>
<circle cx="472.4" cy="95.1" r="2.2" fill="#14a0c6" stroke="#0d5f75" stroke-width="0.5"/>
<circle cx="452.9" cy="124.5" r="2.2" fill="#14a0c6" stroke="#0d5f75" stroke-width="0.5"/>
<circle cx="482.3" cy="89.7" r="2.2" fill="#14a0c6" stroke="#0d5f75" stroke-width="0.5"/>
<circle cx="500.5" cy="109.7" r="2.2" fill="#14a0c6" stroke="#0d5f75" stroke-width="0.5"/>
<polyline points="608.10,44.40 649.40,96.50" fill="none" stroke="#f0ec80" stroke-width="0.6" stroke-linejoin="round" />
<polyline points="608.10,44.40 659.70,91.80" fill="none" stroke="#f0ec80" stroke-width="0.6" stroke-linejoin="round" />
<polyline points="608.10,54.50 639.30,95.50" fill="none" stroke="#f0ec80" stroke-width="0.6" stroke-linejoin="round" />
<polyline points="608.10,54.50 649.40,96.50" fill="none" stroke="#f0ec80" stroke-width="0.6" stroke-linejoin="round" />
<polyline points="604.50,84.60 589.10,94.60" fill="none" stroke="#f0ec80" stroke-width="0.6" stroke-linejoin="round" />
<polyline points="589.10,94.60 604.30,114.80" fill="none" stroke="#f0ec80" stroke-width="0.6" stroke-linejoin="round" />
<polyline points="608.10,44.40 639.30,95.50" fill="none" stroke="#f0ec80" stroke-width="0.6" stroke-linejoin="round" />
<polyline points="608.10,54.50 659.70,91.80" fill="none" stroke="#f0ec80" stroke-width="0.6" stroke-linejoin="round" />
<polyline points="608.10,44.40 629.40,95.50" fill="none" stroke="#f0ec80" stroke-width="0.6" stroke-linejoin="round" />
<polyline points="604.30,124.90 649.40,96.50" fill="none" stroke="#f0ec80" stroke-width="0.6" stroke-linejoin="round" />
<polyline points="604.30,114.80 629.40,95.50" fill="none" stroke="#f0ec80" stroke-width="0.6" stroke-linejoin="round" />
<polyline points="604.30,124.90 639.30,95.50" fill="none" stroke="#f0ec80" stroke-width="0.6" stroke-linejoin="round" />
<polyline points="604.30,124.90 629.40,95.50" fill="none" stroke="#f0ec80" stroke-width="0.6" stroke-linejoin="round" />
<polyline points="604.30,114.80 639.30,95.50" fill="none" stroke="#f0ec80" stroke-width="0.6" stroke-linejoin="round" />
<polyline points="587.50,58.10 638.70,90.70" fill="none" stroke="#b8d0a0" stroke-width="0.6" stroke-linejoin="round" />
<polyline points="597.70,44.60 638.70,90.70" fill="none" stroke="#b8d0a0" stroke-width="0.6" stroke-linejoin="round" />
<polyline points="608.20,124.90 638.70,90.70" fill="none" stroke="#b8d0a0" stroke-width="0.6" stroke-linejoin="round" />
<polyline points="606.10,44.40 659.10,85.40" fill="none" stroke="#e8c890" stroke-width="0.6" stroke-linejoin="round" />
<polyline points="603.70,54.50 649.00,92.00" fill="none" stroke="#e8c890" stroke-width="0.6" stroke-linejoin="round" />
<circle cx="597.7" cy="44.6" r="2.2" fill="#84b072" stroke="#4d6a42" stroke-width="0.5"/>
<circle cx="587.5" cy="58.1" r="2.2" fill="#84b072" stroke="#4d6a42" stroke-width="0.5"/>
<circle cx="638.7" cy="90.7" r="2.2" fill="#84b072" stroke="#4d6a42" stroke-width="0.5"/>
<circle cx="658" cy="106.9" r="2.2" fill="#84b072" stroke="#4d6a42" stroke-width="0.5"/>
<circle cx="608.2" cy="124.9" r="2.2" fill="#84b072" stroke="#4d6a42" stroke-width="0.5"/>
<circle cx="606.1" cy="44.4" r="2.2" fill="#d4a955" stroke="#7d6432" stroke-width="0.5"/>
<circle cx="603.7" cy="54.5" r="2.2" fill="#d4a955" stroke="#7d6432" stroke-width="0.5"/>
<circle cx="659.1" cy="85.4" r="2.2" fill="#d4a955" stroke="#7d6432" stroke-width="0.5"/>
<circle cx="608.1" cy="44.4" r="2.2" fill="#f2ee10" stroke="#8a8a10" stroke-width="0.5"/>
<circle cx="608.1" cy="54.5" r="2.2" fill="#f2ee10" stroke="#8a8a10" stroke-width="0.5"/>
<circle cx="604.5" cy="84.6" r="2.2" fill="#f2ee10" stroke="#8a8a10" stroke-width="0.5"/>
<circle cx="589.1" cy="94.6" r="2.2" fill="#f2ee10" stroke="#8a8a10" stroke-width="0.5"/>
<circle cx="604.3" cy="114.8" r="2.2" fill="#f2ee10" stroke="#8a8a10" stroke-width="0.5"/>
<circle cx="604.3" cy="124.9" r="2.2" fill="#f2ee10" stroke="#8a8a10" stroke-width="0.5"/>
<circle cx="629.4" cy="95.5" r="2.2" fill="#f2ee10" stroke="#8a8a10" stroke-width="0.5"/>
<circle cx="639.3" cy="95.5" r="2.2" fill="#f2ee10" stroke="#8a8a10" stroke-width="0.5"/>
<circle cx="649.4" cy="96.5" r="2.2" fill="#f2ee10" stroke="#8a8a10" stroke-width="0.5"/>
<circle cx="659.7" cy="91.8" r="2.2" fill="#f2ee10" stroke="#8a8a10" stroke-width="0.5"/>
<text x="446.00" y="180.60" font-size="9" text-anchor="middle" fill="#222" font-family="Liberation Sans, sans-serif" letter-spacing="0.1">low frequency</text>
<text x="605.50" y="180.60" font-size="9" text-anchor="middle" fill="#222" font-family="Liberation Sans, sans-serif" letter-spacing="0.1">high frequency</text>
<line x1="8.40" y1="222.00" x2="8.40" y2="337.60" stroke="#1a1a1a" stroke-width="1.15" />
<line x1="8.40" y1="337.60" x2="682.00" y2="337.60" stroke="#1a1a1a" stroke-width="1.15" />
<polygon points="8.4,219 6.6,224 10.2,224" fill="#111"/>
<polygon points="685,337.6 679.5,335.6 679.5,339.6" fill="#111"/>
<line x1="28.00" y1="329.00" x2="680.40" y2="329.00" stroke="#e2602e" stroke-width="1" stroke-dasharray="2.2,1.2"/>
<polygon points="23.5,329 28.5,326.8 28.5,331.2" fill="#e2602e"/>
<text x="336.8" y="326.6" font-size="8.8" fill="#de5a2a" font-family="Liberation Sans, sans-serif" textLength="48" lengthAdjust="spacingAndGlyphs">Nonlinearity</text>
<text x="339.30" y="345.80" font-size="10" text-anchor="start" fill="#111" font-family="Liberation Sans, sans-serif" font-style="italic">q</text>
<text x="0.10" y="281.00" font-size="10.3" text-anchor="start" fill="#111" font-family="Liberation Sans, sans-serif" font-style="italic">q</text>
<circle cx="3.6" cy="272.5" r="1.1" fill="#111"/>
<clipPath id="cp0"><rect x="30.5" y="227.3" width="84.9" height="78.89999999999998"/></clipPath>
<g clip-path="url(#cp0)">
<polyline points="39.41,274.59 39.66,274.66 40.20,274.53 41.22,274.15 41.84,273.93 43.00,273.22 43.45,272.78 43.68,271.23 44.47,269.22 44.50,267.06 44.20,265.72 44.45,263.57 44.25,261.93 44.01,260.43 44.67,258.41 44.08,256.97 44.21,255.86 44.30,254.31 44.40,252.87 44.71,251.78 45.03,251.32 45.13,250.81 44.96,250.95 45.31,250.75 45.58,250.78 45.92,249.84 46.36,249.58 46.10,249.25 46.94,249.20 47.36,248.64 48.08,248.27 49.02,248.15 49.44,247.94 50.15,247.74 50.98,247.58 52.06,247.62 52.72,247.20 53.58,247.13 54.52,246.54 55.74,246.41 56.79,246.16 57.16,246.18 57.99,245.97 59.15,245.53 60.37,245.41 61.59,245.33 62.18,245.36 63.81,245.17 64.65,244.89 65.31,244.58 65.99,244.19 67.08,244.58 68.18,244.43 69.13,243.97 70.08,243.76 71.22,243.93 72.37,243.74 73.41,243.33 74.17,243.15 74.86,242.80 75.65,242.67 76.26,243.06 77.47,242.73 78.59,242.42 79.53,242.34 80.44,241.65 81.34,241.82 82.04,241.97 82.64,242.26 83.12,242.23 83.69,242.15 84.88,242.58 85.32,242.72 85.73,242.33 86.41,242.66 86.66,242.58 87.64,243.39 88.20,243.75 88.61,244.67 88.89,245.18 89.12,245.75 89.40,246.24 89.89,247.15 90.51,247.66 90.95,248.46 91.45,249.10 92.16,250.13 92.66,251.61 93.05,252.44 93.29,253.62 93.81,254.08 94.50,254.85 94.89,256.16 95.77,257.21 96.27,258.43 96.74,259.30 97.61,260.26 97.95,261.62 98.55,262.54 99.19,263.75 99.69,265.04 100.55,266.41 100.84,267.43 101.59,268.01 102.08,269.34 102.43,270.63 103.56,271.40 104.40,273.30 104.61,273.75 104.81,273.68 104.87,274.69 105.20,275.34 105.47,275.69 105.75,275.84 105.82,276.45 105.44,276.56 105.30,277.78 105.56,278.24 105.09,278.47 104.65,278.97 104.31,278.77 103.81,279.49 102.79,279.67 102.03,280.00 101.15,280.51 100.14,280.73 99.96,281.18 99.25,281.82 98.66,282.13 98.01,282.65 97.97,283.33 97.32,284.36 97.03,285.27 96.71,285.80 96.02,286.76 95.60,287.06 95.15,287.71 95.02,288.92 94.28,289.47 93.46,289.71 92.71,290.12 92.26,290.55 91.44,290.90 90.56,291.37 89.81,291.72 89.33,291.86 88.78,291.69 87.60,292.45 86.65,292.51 85.70,293.20 85.32,293.00 84.17,293.14 83.62,293.38 82.69,293.65 81.72,293.72 81.06,293.88 79.90,293.95 78.93,294.06 78.33,293.90 77.36,294.52 76.98,294.70 76.27,294.46 76.13,294.36 75.12,293.59 74.04,293.66 73.57,293.63 72.76,293.37 72.04,292.96 71.17,292.72 69.96,292.45 69.46,292.41 68.45,291.56 67.02,291.04 66.22,290.11 65.23,289.40 63.68,288.78 62.43,287.93 61.09,287.13 59.58,286.90 58.84,285.69 57.69,285.00 56.41,284.67 55.36,283.51 54.05,282.44 53.04,282.01 52.02,281.43 51.05,281.00 50.64,280.57 49.64,280.27 49.12,280.12 48.63,279.59 48.04,279.06 46.91,278.60 46.41,277.97 46.06,277.77 45.31,277.41 44.19,277.05 43.71,276.54 43.08,276.13 41.98,275.77 41.51,275.35 40.96,275.30 40.06,275.15 39.95,275.17 39.55,274.89" fill="none" stroke="#0072BD" stroke-width="0.45" stroke-linejoin="round" />
<polyline points="45.90,275.12 45.54,274.38 45.01,273.99 44.96,273.91 43.49,273.91 43.03,274.59 43.19,273.95 42.58,273.50 42.10,274.11 41.38,274.32 40.65,274.84 40.26,274.67 40.89,275.01 41.62,274.65 42.25,274.14 43.15,273.24 43.17,273.82 43.98,274.92 43.14,274.46 43.13,273.61 43.52,274.84 44.90,274.17 45.29,274.80 45.79,274.29 46.38,275.51 47.43,274.78 48.04,275.57 48.30,274.86 47.88,275.01 46.94,273.95 47.20,274.31 46.66,274.46 46.70,273.64 46.31,273.65 45.31,274.19 44.89,273.52 44.38,274.86 43.84,275.01 43.17,274.97 43.30,273.92 42.70,274.57 42.22,273.86 42.29,274.01 41.39,273.97" fill="none" stroke="#0072BD" stroke-width="0.45" stroke-linejoin="round" />
<polyline points="39.48,275.22 39.89,274.73 40.36,274.60 41.13,274.07 42.22,273.89 43.13,273.16 43.53,272.35 43.28,271.21 43.37,270.01 43.15,267.76 43.05,265.64 42.76,263.45 42.38,261.79 42.25,259.88 41.70,258.01 41.61,256.21 41.54,254.56 41.43,252.85 41.55,251.19 41.43,250.15 41.95,249.48 42.01,249.12 41.94,248.31 42.32,248.00 42.61,247.43 42.69,247.53 43.32,246.90 43.26,246.75 43.94,246.62 44.50,246.20 45.21,246.32 45.78,245.69 46.49,245.74 47.15,245.46 48.17,245.20 49.34,244.99 50.78,244.87 51.90,244.59 52.50,244.46 52.74,244.22 54.00,243.74 55.20,243.56 55.72,243.45 56.92,243.23 58.35,243.42 59.78,243.14 61.20,242.52 62.70,242.29 63.83,242.10 64.60,242.12 66.12,242.33 66.83,242.18 67.56,242.12 68.57,242.20 69.42,241.96 70.51,241.68 71.94,241.66 73.16,241.82 74.43,241.26 75.44,240.82 76.29,241.35 77.16,241.02 78.14,240.84 79.04,240.48 80.16,240.60 80.85,240.48 81.78,240.57 82.55,240.55 83.14,240.16 83.72,240.46 84.66,240.48 85.12,240.62 86.16,241.06 86.49,241.14 86.80,241.13 87.62,241.60 88.50,242.36 89.17,243.02 89.46,243.11 90.04,244.32 90.48,244.44 90.86,245.45 90.95,246.22 91.30,247.13 92.02,247.81 92.91,248.47 93.02,249.79 93.31,251.04 93.91,251.49 94.47,252.50 95.05,253.48 95.78,254.06 96.02,255.39 96.91,256.26 97.13,257.47 97.42,259.06 98.05,260.60 98.41,261.70 99.24,262.98 99.58,264.26 99.89,265.63 100.55,266.46 101.18,267.62 102.12,268.54 102.45,269.73 102.81,270.37 103.65,271.48 104.37,272.32 104.02,273.39 104.65,274.49 105.17,274.97 105.54,275.26 105.66,275.37 105.84,275.75 105.68,276.49 105.83,276.72 106.06,277.13 105.77,277.87 105.31,278.27 105.20,278.83 104.56,278.72 103.59,279.52 102.84,279.64 101.80,280.04 101.12,280.61 100.46,280.85 99.85,281.30 99.07,282.30 98.59,282.68 98.12,283.13 98.11,284.05 97.74,284.56 97.39,285.08 96.86,285.78 96.31,286.77 96.18,287.56 95.06,288.41 94.81,288.64 94.23,289.36 93.86,289.90 93.10,290.20 92.50,290.53 91.45,290.76 90.70,291.26 90.47,291.31 89.55,291.77 88.63,292.45 87.94,292.59 86.77,292.50 85.86,293.13 84.95,293.43 84.29,293.59 83.60,293.63 82.41,293.48 81.79,293.63 80.81,294.01 79.84,294.43 79.34,294.16 78.49,294.40 77.63,294.14 77.14,294.18 76.54,294.20 75.78,294.03 75.36,294.02 74.38,294.16 73.14,293.74 72.68,293.58 71.88,293.03 71.12,292.60 70.25,291.57 69.30,291.26 68.45,291.16 67.46,290.57 66.35,289.98 65.17,289.40 63.72,289.21 62.68,287.83 61.53,286.87 60.06,286.17 58.63,285.62 57.39,284.62 56.27,284.17 55.53,283.42 53.95,282.70 53.05,281.91 51.82,281.54 50.94,281.04 50.02,280.37 49.33,280.02 48.69,279.83 48.29,279.61 47.77,279.03 46.82,278.91 46.24,278.50 45.36,278.01 44.70,277.42 44.03,276.79 43.53,276.89 42.78,276.54 41.96,276.34 41.81,275.67 40.92,275.78 40.29,275.42 39.22,275.10 39.21,275.23" fill="none" stroke="#D95319" stroke-width="0.45" stroke-linejoin="round" />
<polyline points="43.67,278.40 44.23,277.06 44.48,276.35 44.81,276.10 45.01,275.10 45.37,276.11 44.71,276.04 44.21,275.53 43.68,276.08 42.81,275.41 42.76,276.03 42.26,276.47 42.13,277.37 42.11,278.16 42.00,279.03 42.18,280.70 42.64,280.01 42.62,279.19 42.37,278.50 42.10,278.68 41.54,278.13 41.96,277.15 41.52,277.24 41.18,275.90 41.35,275.83 40.95,275.57" fill="none" stroke="#D95319" stroke-width="0.45" stroke-linejoin="round" />
<polyline points="39.22,275.18 39.52,275.09 40.30,274.70 41.65,274.45 42.34,274.20 43.27,273.49 43.79,272.33 43.89,271.02 43.74,269.12 43.59,267.40 43.81,265.48 43.98,263.35 44.06,261.84 44.32,260.06 44.19,258.06 44.11,256.22 43.88,255.30 43.62,254.18 44.10,252.91 44.44,252.16 44.80,251.42 44.69,250.80 44.65,250.49 44.80,250.44 44.80,249.76 45.16,249.04 46.15,248.50 46.37,248.56 47.15,248.18 47.69,248.18 48.03,248.08 48.77,247.81 49.43,247.90 50.65,247.24 51.66,247.55 52.17,247.47 52.85,247.62 53.72,247.20 54.45,246.90 55.23,246.51 56.53,246.00 56.38,246.03 57.56,246.06 58.68,245.84 59.92,245.86 60.95,245.46 62.56,245.34 63.25,245.57 64.48,244.94 65.13,244.72 65.99,244.23 66.76,244.01 68.14,243.83 68.73,243.89 69.84,243.87 71.16,243.55 72.04,243.34 72.77,243.30 74.19,243.09 75.03,242.81 75.79,242.48 76.69,242.21 77.58,241.82 78.62,241.89 79.22,241.34 80.17,241.76 80.86,241.61 81.59,241.79 82.21,241.95 82.98,242.05 83.75,241.89 84.11,241.80 84.87,242.17 85.67,242.21 86.42,242.77 86.97,242.94 87.47,243.53 88.19,243.69 88.75,244.14 89.00,245.05 89.65,245.40 89.99,246.20 90.19,246.84 90.79,247.19 91.26,248.33 91.80,248.88 92.30,249.72 92.88,250.95 93.38,251.75 93.72,253.02 94.09,254.08 94.85,254.97 95.91,256.05 96.66,256.69 96.34,258.24 97.09,259.29 97.60,260.03 98.02,261.15 98.62,262.72 99.29,263.98 99.75,265.00 100.46,266.10 101.35,267.06 102.25,268.07 102.83,269.19 103.56,270.50 103.93,271.79 104.12,272.48 104.08,273.68 104.50,274.15 104.97,275.17 104.93,275.49 105.26,275.90 105.12,276.10 105.61,276.86 105.95,276.94 105.68,277.34 105.10,277.45 105.09,278.07 104.66,278.80 103.98,279.22 103.47,279.50 102.84,279.88 102.00,280.29 101.49,280.58 100.65,281.15 99.65,281.74 98.85,282.39 98.28,282.65 98.09,283.38 97.95,284.07 97.45,284.32 97.14,285.04 96.43,285.89 96.12,286.25 95.79,286.72 95.10,287.67 94.33,288.38 93.69,289.15 93.18,289.64 92.40,289.99 92.18,290.54 91.08,291.11 90.74,291.28 90.30,291.39 89.34,292.07 88.75,292.59 87.49,292.30 86.75,292.34 85.84,292.50 85.23,293.13 84.39,293.36 83.43,293.47 82.59,293.71 81.78,293.74 81.29,293.94 80.56,294.30 79.36,293.84 78.92,293.92 78.12,293.98 77.41,293.79 76.66,293.82 75.91,293.35 75.33,293.62 74.08,293.41 73.43,293.49 72.68,293.55 71.86,292.88 70.84,292.73 69.86,292.45 69.25,292.00 68.44,291.33 67.29,290.61 66.03,289.73 64.85,289.07 63.43,288.64 62.48,287.92 61.53,287.43 60.34,286.44 58.56,285.82 57.49,285.20 56.42,284.66 55.15,283.90 53.82,282.52 52.74,282.34 51.46,281.86 50.62,281.06 50.01,280.61 49.18,280.20 48.79,280.01 48.05,279.92 47.96,279.91 46.87,279.22 45.86,278.71 45.54,277.91 44.58,277.60 44.25,277.04 43.56,276.20 42.80,276.21 42.24,276.38 41.29,275.46 40.81,275.23 40.22,275.28 39.76,275.38 39.57,274.69" fill="none" stroke="#7E2F8E" stroke-width="0.45" stroke-linejoin="round" />
<polyline points="40.32,280.21 41.00,279.05 41.97,279.38 41.41,279.86 42.44,278.92 42.77,277.84 42.79,278.59 43.75,278.29 44.54,277.39 44.80,277.73 45.03,276.24 44.84,276.10 45.31,275.79 45.98,275.25 46.83,275.42 47.47,275.58 47.69,274.76 47.77,275.36 47.65,275.92 47.71,274.23 48.60,274.63 49.22,273.94 49.92,273.59 48.75,273.72 47.78,274.15 47.03,274.04 46.96,274.55 46.98,275.08 46.78,274.69 45.96,274.32 45.24,274.28 44.34,275.47 44.25,275.71 44.16,276.82 44.01,277.35 43.89,277.84 44.03,278.73 44.41,277.70 44.47,277.00 45.12,276.97 45.18,277.47 45.69,277.97 46.12,277.73 46.62,277.33 47.18,276.69 47.31,274.65 47.57,274.45 48.28,274.05" fill="none" stroke="#7E2F8E" stroke-width="0.45" stroke-linejoin="round" />
<polyline points="39.21,275.00 39.61,274.86 40.60,274.73 41.72,274.24 42.39,273.77 42.88,273.25 43.52,272.52 43.97,271.70 44.30,269.45 44.33,267.48 44.19,265.90 44.19,263.44 44.36,261.80 44.16,260.06 44.19,258.55 44.26,257.02 44.81,255.36 44.55,254.06 44.89,252.86 45.21,251.83 44.88,251.38 44.84,250.89 45.20,250.80 45.43,250.41 45.97,250.18 46.07,250.09 46.14,249.71 46.73,249.40 46.99,249.23 47.41,248.85 47.84,248.97 48.56,248.89 49.57,248.43 50.59,248.23 51.45,247.67 52.31,247.79 53.25,247.78 54.32,247.55 55.34,246.93 55.77,246.31 56.63,246.48 57.69,246.37 57.89,246.57 58.67,246.00 59.88,246.01 60.98,245.80 61.78,245.92 63.11,245.52 64.41,245.22 65.43,244.74 66.32,244.70 67.47,244.47 68.28,244.36 69.25,244.18 70.04,243.85 71.24,243.77 72.11,244.35 73.24,243.97 74.15,243.29 75.29,243.07 76.08,243.13 77.12,242.90 77.86,243.09 78.77,242.41 79.68,242.26 80.36,242.26 81.12,242.53 81.84,242.28 82.74,241.98 83.48,241.96 84.19,241.83 84.69,241.68 85.06,242.08 85.76,242.86 86.71,242.69 86.91,243.38 87.56,243.37 88.15,243.66 88.40,244.05 88.86,245.32 89.41,245.76 90.34,246.25 90.40,246.91 90.77,247.62 91.43,248.38 91.83,249.31 91.99,249.97 92.53,250.48 93.09,251.75 93.68,252.85 94.29,253.84 94.93,254.59 95.58,255.67 96.08,256.86 96.41,257.95 97.24,258.99 97.39,260.35 98.09,261.56 98.48,262.59 99.39,263.60 100.08,265.07 100.63,265.93 101.58,267.20 101.99,268.27 102.26,269.40 102.96,270.39 103.57,271.82 104.17,272.70 104.79,273.72 105.20,274.13 104.94,274.90 105.31,275.22 105.64,275.55 105.57,276.41 105.30,276.86 105.66,277.51 105.59,277.77 105.15,277.99 104.49,278.16 104.39,278.56 103.96,279.24 103.11,279.55 102.47,279.88 101.76,280.66 100.71,281.12 100.35,281.26 99.44,281.35 98.74,282.39 97.93,282.86 97.69,283.71 97.62,283.74 97.22,284.41 96.93,284.81 96.47,285.46 96.20,286.31 95.79,286.91 95.46,287.56 94.68,288.22 94.09,288.84 93.11,289.74 92.83,290.40 92.10,290.81 91.49,291.05 91.14,291.21 90.32,291.20 89.49,291.70 88.31,291.99 87.05,292.16 86.48,292.01 85.97,292.83 84.90,292.79 83.80,292.91 82.96,293.79 82.03,293.98 81.66,293.76 80.76,294.04 79.84,294.33 79.67,294.22 78.61,294.32 78.03,294.08 77.30,294.12 76.74,294.34 75.85,293.84 74.76,294.19 74.09,293.77 73.97,293.78 73.44,293.35 72.08,292.88 71.24,292.66 70.29,292.73 69.54,291.77 68.46,291.39 67.14,291.28 66.29,290.74 64.98,289.56 63.98,288.81 62.52,288.06 61.30,287.33 59.95,286.63 59.33,286.05 57.70,285.61 56.32,284.25 54.86,283.09 54.13,282.38 52.68,281.82 51.75,281.10 50.78,280.77 50.22,280.21 49.62,280.03 49.03,279.62 48.08,279.60 47.68,279.06 46.85,278.91 46.70,278.55 46.40,278.15 45.43,277.78 44.78,276.97 43.92,277.00 42.78,276.63 42.37,276.62 41.95,276.07 41.49,275.42 40.19,275.51 39.76,274.92 39.52,275.02" fill="none" stroke="#77AC30" stroke-width="0.45" stroke-linejoin="round" />
<polyline points="41.60,275.68 42.14,275.59 42.32,275.28 42.74,275.50 43.64,275.00 43.69,275.28 44.46,275.97 44.95,275.48 45.68,275.97 46.31,276.18 46.67,276.09 46.81,276.67 47.19,276.15 47.95,276.01 49.00,275.81 47.99,275.50 47.56,275.55 47.12,274.91 46.41,276.29 45.72,277.06 45.29,277.25 45.03,277.05 44.48,277.41 43.73,277.29 43.54,277.41 42.91,277.43 42.51,277.46 42.03,276.97 42.83,275.64 43.09,276.26 42.36,276.86 42.04,278.77 41.46,278.17 41.53,277.66 40.63,276.53 40.60,276.27 39.99,276.53 40.29,276.25 40.25,275.02 40.51,274.31" fill="none" stroke="#77AC30" stroke-width="0.45" stroke-linejoin="round" />
<polyline points="39.71,274.75 40.07,274.69 40.84,274.26 41.46,274.04 42.06,273.66 42.80,273.17 43.20,272.47 43.43,270.46 43.84,269.06 43.49,267.42 43.41,265.50 43.04,263.60 42.69,262.09 42.56,260.14 42.74,258.34 42.74,256.63 41.97,254.84 42.33,253.23 42.92,251.81 42.92,250.55 43.06,249.79 42.81,250.12 43.29,249.62 43.54,248.90 43.56,248.77 43.50,248.49 43.74,248.21 44.22,248.34 45.18,247.80 45.31,247.37 46.14,246.99 47.05,247.12 47.90,246.76 49.01,246.51 50.08,246.27 51.26,246.06 51.69,245.93 52.42,245.55 53.31,245.64 53.73,245.42 54.84,245.20 56.09,244.73 57.21,244.65 58.22,244.51 59.24,244.26 60.54,244.63 61.93,244.43 63.09,243.95 64.20,244.20 64.83,243.98 66.13,243.68 67.21,243.72 68.54,243.66 69.57,243.35 70.41,243.09 71.23,242.74 72.26,242.92 73.11,242.67 74.22,242.42 75.35,242.27 75.90,241.84 77.06,241.90 78.17,241.75 78.97,241.18 80.05,240.97 80.92,240.77 81.35,240.94 81.98,240.84 82.93,241.11 83.62,241.04 84.01,241.04 84.59,241.22 85.48,241.41 85.90,241.57 86.88,242.00 87.44,242.45 88.09,242.88 88.81,243.51 88.52,243.89 89.87,244.15 90.10,245.14 90.37,246.06 90.41,246.33 90.88,246.99 91.16,248.03 91.86,248.88 92.34,249.83 92.91,250.59 93.61,251.72 94.13,252.87 94.40,253.79 94.91,255.11 95.65,256.51 96.51,257.24 96.62,258.37 97.12,259.37 97.47,260.60 98.20,261.74 98.88,262.62 98.94,263.78 99.61,264.88 100.58,266.08 101.47,267.28 102.03,268.51 102.67,269.31 103.36,270.55 103.53,271.79 104.13,272.99 104.70,273.74 104.60,274.68 105.36,275.17 105.60,275.71 105.49,276.05 105.64,276.04 105.76,276.57 106.05,277.19 105.37,277.06 105.23,277.58 104.78,277.76 104.50,278.12 103.96,278.96 103.51,279.22 102.51,279.66 102.15,280.01 101.52,280.33 100.40,281.05 99.43,281.52 98.63,282.18 98.60,282.51 98.22,283.03 97.34,284.30 97.33,284.83 97.05,285.26 97.11,285.38 96.34,286.12 95.76,287.10 95.12,287.48 94.44,288.37 94.25,289.16 93.97,289.49 93.34,290.14 92.40,290.35 91.79,290.66 90.84,290.93 90.42,291.43 89.31,291.79 88.39,292.19 87.17,292.23 86.62,292.86 85.58,293.06 84.74,292.74 83.96,292.92 83.39,293.27 82.48,293.24 81.65,293.16 80.85,293.89 79.77,294.17 79.47,294.10 78.94,294.15 78.01,293.71 77.09,293.59 77.04,293.88 76.07,293.60 75.61,293.41 74.93,293.71 73.86,293.35 72.88,292.88 72.10,293.14 71.30,292.93 70.08,292.43 68.91,291.76 68.21,291.80 67.19,290.99 65.70,290.30 64.60,289.28 63.30,288.75 62.22,288.20 61.05,287.36 60.19,286.72 58.98,286.16 57.68,284.99 56.25,283.94 55.20,283.30 54.16,282.91 52.83,282.25 52.15,281.61 51.32,280.98 50.14,280.47 49.04,280.26 48.51,280.15 47.80,279.68 47.49,279.21 47.01,278.66 46.10,278.03 45.42,277.64 44.92,277.35 44.14,276.92 43.14,276.61 42.84,276.09 42.17,276.12 41.35,275.87 40.64,276.11 40.38,275.83 39.56,275.48 39.14,275.19" fill="none" stroke="#EDB120" stroke-width="0.45" stroke-linejoin="round" />
<polyline points="49.71,276.11 48.98,275.73 48.24,275.71 47.50,276.26 47.33,275.88 46.97,275.19 46.04,275.56 45.76,274.88 44.80,275.29 44.78,274.58 44.72,274.92 44.36,275.12 44.16,274.50 43.76,273.46 43.28,274.09 42.80,273.85 42.25,272.70 42.09,271.95 41.29,271.51 41.88,271.96 42.06,272.84 42.61,273.55 42.87,273.58 42.89,275.12 43.68,274.40 43.90,275.36 44.36,276.15 44.90,274.97 44.92,274.41 45.38,274.56 46.15,274.82 46.95,275.38 47.00,274.87 47.17,274.92 47.41,274.04 47.81,274.22 49.19,273.81 49.31,273.54 49.70,272.90" fill="none" stroke="#EDB120" stroke-width="0.45" stroke-linejoin="round" />
</g>
<rect x="30.5" y="227.3" width="84.9" height="78.89999999999998" fill="none" stroke="#444" stroke-width="0.9"/>
<line x1="30.50" y1="227.30" x2="32.10" y2="227.30" stroke="#333" stroke-width="0.7" />
<text x="28.70" y="229.80" font-size="6.4" text-anchor="end" fill="#222" font-family="Liberation Sans, sans-serif" >0.009</text>
<line x1="30.50" y1="243.08" x2="32.10" y2="243.08" stroke="#333" stroke-width="0.7" />
<text x="28.70" y="245.58" font-size="6.4" text-anchor="end" fill="#222" font-family="Liberation Sans, sans-serif" >0.006</text>
<line x1="30.50" y1="258.86" x2="32.10" y2="258.86" stroke="#333" stroke-width="0.7" />
<text x="28.70" y="261.36" font-size="6.4" text-anchor="end" fill="#222" font-family="Liberation Sans, sans-serif" >0.003</text>
<line x1="30.50" y1="274.64" x2="32.10" y2="274.64" stroke="#333" stroke-width="0.7" />
<text x="28.70" y="277.14" font-size="6.4" text-anchor="end" fill="#222" font-family="Liberation Sans, sans-serif" >0</text>
<line x1="30.50" y1="290.42" x2="32.10" y2="290.42" stroke="#333" stroke-width="0.7" />
<text x="28.70" y="292.92" font-size="6.4" text-anchor="end" fill="#222" font-family="Liberation Sans, sans-serif" >-0.003</text>
<line x1="30.50" y1="306.20" x2="32.10" y2="306.20" stroke="#333" stroke-width="0.7" />
<text x="28.70" y="308.70" font-size="6.4" text-anchor="end" fill="#222" font-family="Liberation Sans, sans-serif" >-0.006</text>
<line x1="35.30" y1="306.20" x2="35.30" y2="304.60" stroke="#333" stroke-width="0.7" />
<text x="35.30" y="314.20" font-size="6.4" text-anchor="middle" fill="#222" font-family="Liberation Sans, sans-serif" >0</text>
<line x1="51.30" y1="306.20" x2="51.30" y2="304.60" stroke="#333" stroke-width="0.7" />
<text x="51.30" y="314.20" font-size="6.4" text-anchor="middle" fill="#222" font-family="Liberation Sans, sans-serif" >0.2</text>
<line x1="67.60" y1="306.20" x2="67.60" y2="304.60" stroke="#333" stroke-width="0.7" />
<text x="67.60" y="314.20" font-size="6.4" text-anchor="middle" fill="#222" font-family="Liberation Sans, sans-serif" >0.4</text>
<line x1="83.80" y1="306.20" x2="83.80" y2="304.60" stroke="#333" stroke-width="0.7" />
<text x="83.80" y="314.20" font-size="6.4" text-anchor="middle" fill="#222" font-family="Liberation Sans, sans-serif" >0.6</text>
<line x1="100.00" y1="306.20" x2="100.00" y2="304.60" stroke="#333" stroke-width="0.7" />
<text x="100.00" y="314.20" font-size="6.4" text-anchor="middle" fill="#222" font-family="Liberation Sans, sans-serif" >0.8</text>
<line x1="116.20" y1="306.20" x2="116.20" y2="304.60" stroke="#333" stroke-width="0.7" />
<text x="116.20" y="314.20" font-size="6.4" text-anchor="middle" fill="#222" font-family="Liberation Sans, sans-serif" >1</text>
<text x="113.20" y="235.80" font-size="7.8" text-anchor="end" fill="#222" font-family="Liberation Sans, sans-serif" >0.001 Hz</text>
<clipPath id="cp1"><rect x="141" y="226.3" width="87.9" height="79.09999999999997"/></clipPath>
<g clip-path="url(#cp1)">
<polyline points="154.99,276.40 155.16,275.37 155.70,273.65 155.91,272.10 156.10,270.45 156.59,269.31 157.11,267.42 157.71,265.51 157.92,264.09 158.30,262.25 158.74,260.47 159.61,259.43 160.66,257.90 160.84,256.52 161.39,255.28 162.04,254.00 162.22,253.22 162.88,252.17 163.65,250.85 164.20,249.38 165.40,248.42 166.36,247.29 166.99,246.20 168.07,244.96 169.35,244.08 170.21,243.29 171.27,242.61 172.43,241.95 173.75,241.81 175.01,241.10 175.91,240.72 177.14,240.59 178.58,240.20 179.87,239.86 181.11,239.27 182.71,239.04 183.97,239.39 185.66,239.43 186.61,239.70 187.95,239.91 188.81,239.95 190.29,240.02 191.52,240.79 193.13,241.03 194.46,241.55 195.77,242.20 197.28,243.00 198.74,243.49 200.25,244.28 201.23,245.26 202.83,245.98 204.55,246.76 205.83,247.65 207.14,248.75 208.45,249.73 209.22,250.96 210.19,252.27 211.42,253.21 212.56,254.68 213.40,255.95 214.61,257.75 215.24,258.89 215.95,260.05 216.91,261.24 217.73,262.13 217.76,263.88 218.25,264.75 219.18,266.41 219.31,267.17 219.54,268.71 219.43,270.03 219.02,271.14 219.29,272.78 219.46,274.12 219.40,275.47 219.73,276.68 218.97,277.98 218.69,278.88 218.14,280.25 217.74,281.24 217.20,282.52 216.71,283.29 215.85,283.92 215.59,284.68 215.00,285.71 214.05,286.49 212.95,287.39 211.84,287.54 210.60,288.42 209.19,288.60 208.14,288.89 206.80,288.90 205.39,288.33 203.99,287.71 202.77,286.69 201.79,286.00 200.90,285.08 200.24,284.97 199.54,284.88 198.47,284.41 197.49,284.15 196.79,283.29 196.18,283.03 195.79,282.48 195.58,281.21 195.34,281.05 195.17,280.25 194.58,279.57 194.68,279.18 194.13,279.11 193.54,278.90 192.33,279.10 191.83,278.88 191.17,279.57 190.54,280.00 189.54,280.53 188.86,281.71 188.50,282.76 187.60,283.26 187.28,283.88 187.05,283.82 186.38,283.37 185.83,281.87 185.83,280.58 185.32,278.46 184.86,276.53 184.73,276.52 184.40,276.34 183.78,276.87 183.61,278.01 183.54,279.31 183.05,280.20 181.79,280.21 181.33,280.20 180.51,280.36 179.83,280.35 178.84,280.19 177.88,280.41 176.61,280.45 175.52,280.54 174.04,280.71 172.74,281.28 171.64,281.83 170.37,281.79 169.29,281.59 168.41,282.27 167.09,282.00 165.73,281.83 165.00,281.71 164.40,281.43 163.85,281.41 162.82,281.23 161.72,280.44 160.79,280.65 160.02,279.97 159.47,279.64 159.06,279.56 158.27,278.89 157.37,278.16 156.53,277.59 156.06,277.37 155.69,276.84 155.42,276.31" fill="none" stroke="#0072BD" stroke-width="0.45" stroke-linejoin="round" />
<polyline points="165.82,282.38 164.82,282.43 165.11,281.59 164.31,281.49 164.23,280.26 164.75,279.98 164.28,279.24 164.12,278.96 164.01,278.80 163.43,278.77 163.42,277.83 163.56,277.11 163.13,276.12 163.03,275.53 163.41,275.97 163.77,276.09 164.18,276.12 164.29,276.28 165.09,276.47 166.02,277.60 165.03,277.87 164.57,278.67 164.47,278.79 164.35,279.77 163.48,279.63 163.18,279.82 162.86,280.95 162.99,281.71 162.59,281.86 162.17,281.08 162.46,279.80 161.48,279.59 161.22,280.17 160.76,280.58 160.25,280.08 159.91,278.87 158.72,278.57 158.59,278.21 158.45,278.89 157.86,276.94 157.39,276.75 157.21,276.46 156.79,276.69 156.22,276.97" fill="none" stroke="#0072BD" stroke-width="0.45" stroke-linejoin="round" />
<polyline points="151.42,278.07 151.96,276.80 151.87,275.28 152.41,273.71 152.49,271.34 153.16,269.56 153.89,267.92 154.12,266.00 155.07,264.12 155.07,262.09 155.54,260.49 155.98,258.83 156.65,257.40 157.49,255.87 157.60,254.53 158.09,253.02 158.71,251.65 159.60,250.39 161.41,249.08 162.29,247.51 163.05,246.55 164.05,245.41 165.19,243.99 166.46,242.84 167.97,241.92 169.04,241.22 170.23,240.42 171.45,239.85 172.76,239.50 173.83,238.82 175.20,238.61 176.85,238.22 178.24,238.18 179.69,238.08 181.18,237.88 182.41,237.87 184.06,238.34 185.58,238.57 186.87,238.73 187.96,238.97 189.46,239.04 190.32,239.80 191.69,240.21 193.32,240.24 195.32,241.21 196.68,241.83 198.16,242.15 199.62,242.98 201.31,243.89 202.56,244.90 203.62,245.72 205.17,246.36 205.89,247.05 207.27,248.27 208.82,249.16 209.83,250.67 210.88,251.53 212.16,253.77 213.34,254.94 214.08,256.50 215.48,258.02 216.01,259.59 216.55,261.05 216.96,261.86 217.72,263.28 218.29,264.35 218.20,265.28 218.54,266.42 219.05,267.66 219.40,269.00 219.34,270.31 219.48,271.74 219.34,272.84 219.06,274.43 219.49,275.49 219.21,276.42 219.10,277.82 219.32,279.10 218.57,279.68 218.43,281.05 217.40,282.23 216.56,284.02 216.37,284.70 215.58,284.82 214.76,285.35 214.00,285.80 212.73,287.07 212.08,287.42 210.45,288.23 209.56,288.29 208.19,288.35 206.76,288.18 205.88,288.10 204.94,287.54 203.35,286.72 201.98,285.93 200.45,285.75 199.98,285.50 199.32,285.04 198.17,284.54 197.36,283.80 196.37,283.09 196.00,282.82 195.54,282.61 195.37,281.90 195.43,280.86 194.65,280.36 194.38,280.02 194.22,279.70 193.92,278.89 193.42,278.87 192.51,279.05 192.04,279.59 191.53,279.50 190.62,279.51 189.95,280.58 189.14,281.61 188.63,282.81 187.83,283.37 187.17,284.33 187.01,284.16 186.53,283.41 186.12,282.01 185.62,280.11 185.14,279.00 184.98,277.59 184.52,276.86 184.25,276.73 183.93,277.41 183.40,278.11 182.87,278.95 182.73,279.48 182.01,280.28 181.11,280.80 180.53,281.02 179.41,280.93 178.27,281.20 177.05,280.92 175.63,280.93 174.22,281.67 173.15,282.03 172.11,282.39 170.71,283.13 168.83,283.13 167.44,283.72 166.70,283.49 165.74,283.49 164.44,283.34 163.32,282.86 162.12,282.62 161.37,283.12 161.02,282.71 159.43,282.33 158.37,282.50 157.76,281.80 157.12,281.53 155.84,280.94 155.08,280.50 154.34,279.87 153.57,279.20 152.61,279.06 152.14,278.55 151.33,278.06" fill="none" stroke="#D95319" stroke-width="0.45" stroke-linejoin="round" />
<polyline points="163.81,280.26 163.26,279.94 162.71,279.47 162.61,279.13 161.71,280.27 160.95,280.10 160.38,279.74 160.08,280.70 159.42,280.72 159.06,280.62 158.73,281.52 159.40,281.14 159.40,280.53 159.31,279.48 159.26,279.09 159.22,278.29 159.94,278.29 160.36,278.22 160.06,277.20 160.71,278.30 161.59,277.86 161.95,277.17 162.60,276.98 162.70,276.75 163.07,276.55 164.26,276.37 164.58,277.08 164.97,276.48 165.61,276.14 165.82,276.76 166.32,277.72 166.52,277.95 167.16,278.14 166.59,277.71 166.35,278.11 165.42,277.69 164.92,276.04 164.49,275.98 164.25,275.72 164.01,276.25 163.00,275.85 162.82,274.97 162.78,275.57 162.10,275.21 162.16,275.13 161.96,274.26 161.14,274.42 160.48,274.18" fill="none" stroke="#D95319" stroke-width="0.45" stroke-linejoin="round" />
<polyline points="154.00,276.92 154.30,275.75 154.88,274.37 155.08,273.08 155.32,270.78 155.46,268.87 156.18,267.43 156.86,266.17 157.56,264.44 158.08,262.75 158.18,261.16 158.65,259.38 159.61,258.00 159.82,256.48 160.86,255.06 161.34,253.93 161.87,252.77 162.30,251.37 163.00,250.11 164.03,249.31 164.67,248.10 165.48,246.66 166.58,245.59 167.62,243.98 169.07,243.29 169.87,242.80 170.82,241.76 172.08,241.36 173.00,241.01 174.34,240.18 175.96,239.89 176.85,239.65 178.33,239.53 179.50,239.42 181.34,239.25 182.90,239.31 184.36,239.10 185.33,239.28 186.78,239.28 187.90,239.51 188.46,239.71 189.39,239.99 191.36,240.73 192.80,241.04 194.44,240.93 196.27,241.70 197.85,242.25 199.38,243.13 201.12,244.02 203.11,244.72 203.90,245.56 204.77,246.79 206.12,247.28 207.25,248.61 208.06,249.65 209.31,251.35 210.67,252.34 211.68,254.12 212.73,255.86 213.48,256.89 214.55,257.94 215.45,259.37 216.13,260.22 217.20,261.89 217.54,263.06 217.49,264.41 217.92,265.36 219.04,266.30 219.19,267.45 218.89,268.63 219.24,269.81 219.21,271.48 219.29,272.48 219.68,273.94 219.81,275.06 219.86,276.19 219.01,277.57 218.73,278.99 218.33,280.31 218.30,281.19 217.39,282.18 217.10,283.42 216.33,284.06 215.61,285.20 214.65,286.18 213.88,286.76 212.74,287.59 211.74,287.63 210.81,288.05 209.81,288.47 208.34,288.64 206.99,288.30 205.74,288.20 204.44,287.60 203.01,287.10 201.91,286.64 200.90,286.44 199.54,285.66 198.94,285.27 197.81,284.38 197.26,284.20 196.95,283.29 196.32,283.16 195.83,282.24 195.32,281.30 195.41,280.69 194.99,279.93 194.68,279.32 194.09,279.13 193.64,279.18 193.17,279.44 192.55,279.49 191.95,279.45 191.54,279.68 190.41,280.41 190.03,280.79 189.57,281.89 188.95,282.48 188.22,283.17 187.41,283.72 186.71,283.99 186.17,283.43 185.95,281.89 185.67,280.42 185.58,278.65 185.49,277.44 185.14,276.35 184.28,276.76 183.89,277.33 183.86,277.77 183.46,279.27 183.07,279.99 182.45,280.45 181.75,280.90 180.69,280.89 179.76,280.84 178.87,280.35 177.94,280.55 176.40,280.50 174.93,280.69 173.89,280.84 172.44,281.22 171.06,281.64 169.67,282.27 168.62,282.30 167.87,282.32 167.00,282.09 166.22,282.03 164.86,282.06 163.66,281.62 162.97,281.41 162.24,281.31 161.44,281.11 160.76,280.81 160.13,280.69 158.76,279.84 158.50,279.50 157.69,279.14 156.90,279.17 155.93,278.42 155.29,277.54 154.54,277.09 154.23,276.91" fill="none" stroke="#EDB120" stroke-width="0.45" stroke-linejoin="round" />
<polyline points="161.85,275.78 161.75,275.60 161.43,275.94 161.49,276.03 161.66,276.82 161.11,277.70 161.02,277.83 160.93,278.81 160.87,279.44 160.71,280.19 160.51,280.32 160.37,280.51 160.14,281.27 160.53,280.77 160.70,279.70 161.22,279.72 161.90,279.27 161.72,279.70 162.30,278.90 162.88,278.91 163.36,277.64 163.68,277.40 163.35,276.50 163.85,277.03 163.29,276.55 163.77,275.61 163.54,275.81 163.74,275.67 164.47,275.64 164.72,276.50 164.99,278.05 164.63,278.16 164.84,278.09 165.03,278.38 165.00,279.70 165.06,280.27 165.61,281.28 166.07,282.31 166.74,281.81 167.06,282.27 166.02,281.35 165.52,281.33 165.49,281.87 165.12,282.23 164.27,281.65 163.91,281.94 163.22,281.64 162.33,280.30 161.83,280.45 161.74,280.40 161.62,280.16 160.93,281.35 160.30,281.13 160.12,281.50 159.69,280.82 158.51,280.01 158.02,279.13 157.05,279.24 156.68,279.57 156.30,278.93 156.87,278.62 157.49,277.29 157.46,277.92 157.71,277.86 158.12,277.55 158.71,277.64 158.54,276.47 158.40,276.44 159.49,276.26 159.53,276.76 159.99,275.74 160.44,274.68 160.55,274.70" fill="none" stroke="#EDB120" stroke-width="0.45" stroke-linejoin="round" />
<polyline points="155.18,276.83 155.21,275.26 155.62,274.12 156.03,272.57 156.33,270.59 156.55,268.80 156.97,267.40 157.64,265.48 158.26,263.97 158.94,262.77 159.45,260.67 160.03,258.96 160.84,257.64 161.17,256.93 161.32,255.59 161.90,254.25 162.61,253.31 163.48,252.23 164.55,250.71 165.71,249.74 166.11,248.63 167.37,247.95 168.16,246.95 169.28,246.24 170.26,245.51 171.07,244.45 172.33,243.96 173.31,243.44 174.39,243.00 175.71,242.53 176.89,241.93 177.82,241.05 179.20,241.05 180.61,240.55 181.77,240.56 182.70,240.89 184.45,240.58 185.69,241.16 186.45,241.36 187.98,241.78 188.64,241.47 189.92,242.00 190.89,242.02 192.16,242.68 193.69,243.16 195.52,243.82 197.15,244.27 198.85,244.87 199.83,245.28 201.42,245.99 202.55,246.74 204.55,247.44 205.51,248.34 206.41,249.45 207.72,250.38 208.51,251.69 210.01,252.74 210.59,254.00 211.79,255.31 213.06,256.51 214.48,257.95 215.63,259.02 216.26,260.68 217.01,261.64 217.39,262.75 218.00,264.20 218.54,265.56 219.09,266.72 219.54,268.07 219.46,269.18 219.47,270.22 219.17,271.55 219.20,272.96 219.18,274.19 219.30,275.32 219.29,276.47 219.03,278.00 218.92,279.16 218.39,280.43 218.50,280.92 218.05,282.20 217.51,283.52 216.39,284.74 215.53,285.29 214.92,285.92 214.04,286.46 212.74,287.16 211.50,288.06 210.58,288.69 209.18,288.30 207.66,288.44 206.49,288.48 205.17,287.81 204.22,287.35 203.19,287.05 202.03,286.13 200.70,286.24 199.76,285.65 198.96,285.07 198.14,284.44 197.33,283.56 197.13,283.30 196.10,283.03 195.87,282.09 195.40,281.88 195.32,281.15 195.28,280.33 194.80,280.10 194.34,279.52 193.97,279.29 193.04,279.67 192.49,279.97 192.00,279.68 191.66,279.89 190.64,280.25 189.53,280.94 188.95,281.71 188.30,282.82 187.96,283.83 187.80,284.26 187.13,284.23 186.39,283.29 186.20,281.76 185.34,280.12 185.24,278.87 184.79,277.19 184.56,276.47 184.30,276.40 184.02,276.88 183.90,277.89 183.54,278.75 182.64,279.66 182.14,280.46 181.68,280.54 180.75,280.28 179.78,280.32 178.68,279.98 177.97,279.84 177.14,280.34 176.09,280.34 174.68,280.46 173.08,280.72 171.55,281.27 170.56,282.02 169.24,282.10 167.98,281.89 166.70,281.90 166.15,281.66 165.39,281.33 164.28,281.17 163.73,280.97 163.02,280.78 161.86,280.16 161.05,279.92 160.59,279.93 159.44,279.83 159.00,278.75 158.06,278.65 157.09,278.08 156.73,277.73 156.23,277.39 155.46,277.43 155.26,277.30" fill="none" stroke="#7E2F8E" stroke-width="0.45" stroke-linejoin="round" />
<polyline points="158.25,277.74 157.93,277.55 158.06,277.11 158.75,276.92 159.11,276.16 159.92,275.82 160.31,274.79 160.81,276.12 160.84,276.02 161.55,275.76 162.72,276.03 163.35,276.78 163.62,275.65 164.81,275.20 165.42,275.02 165.40,274.47 165.43,274.50 165.95,274.08 166.32,274.51 166.69,274.33 166.89,274.70 166.34,274.10 166.18,275.10 166.47,276.28 165.71,276.20 165.44,276.34 165.65,277.72 165.40,279.01 166.22,279.01 165.79,278.85 165.79,279.60 165.84,279.87 165.30,280.07 164.29,279.58 164.19,278.96 163.38,279.30 162.67,280.12 162.58,279.22 162.17,277.87 161.90,278.48 161.75,278.17 161.55,276.83 160.36,277.30 160.34,277.05 160.11,277.57 159.73,276.20 159.42,276.91 158.38,275.72 158.16,275.97 157.97,276.79 158.06,275.50 157.33,275.20 156.69,274.19 157.15,275.32 157.22,275.28 157.44,275.94 157.60,276.61 158.24,277.10 158.33,277.62 158.52,277.67 158.44,276.93 158.77,278.28 159.26,277.85 159.52,278.50 160.33,278.85 160.40,279.41 160.62,280.67 160.68,280.52 161.22,280.16 161.60,279.82 161.93,280.54 162.53,281.11 162.69,282.08" fill="none" stroke="#7E2F8E" stroke-width="0.45" stroke-linejoin="round" />
<polyline points="155.47,276.71 155.23,275.17 155.56,274.10 155.91,272.12 156.20,270.81 156.35,269.17 157.03,267.46 157.60,265.63 157.90,264.43 158.19,262.53 158.34,260.79 159.12,259.56 159.74,258.11 160.28,256.66 160.89,255.20 161.48,253.87 161.49,252.33 162.13,251.14 162.62,249.86 163.59,248.86 164.69,247.45 165.62,246.56 166.58,245.71 167.39,244.38 168.45,243.19 169.44,242.34 170.47,241.39 171.45,240.68 172.28,240.08 173.41,239.44 174.64,238.97 176.15,238.48 177.60,238.16 179.63,237.48 181.18,237.51 182.51,237.17 184.28,237.33 185.66,237.35 186.58,237.77 187.97,237.82 189.09,238.22 190.21,238.32 191.68,239.02 193.44,239.50 195.31,240.02 196.71,241.20 198.26,241.83 200.04,242.46 201.56,243.34 203.03,243.95 204.27,245.14 205.65,245.85 206.78,246.62 207.62,247.69 209.22,248.83 209.81,250.25 210.93,251.93 212.42,253.34 213.40,254.71 214.56,256.17 215.26,258.23 215.74,259.39 216.46,260.64 217.20,262.08 217.80,263.21 217.92,264.33 218.12,265.69 218.62,266.96 218.85,268.06 219.14,269.30 219.27,270.31 219.28,271.42 219.15,272.48 218.95,274.31 218.97,275.23 219.27,276.63 219.06,278.12 219.23,279.02 219.01,280.30 218.58,281.21 218.19,282.53 216.75,283.67 216.51,284.11 215.77,284.96 214.93,285.58 214.10,286.54 212.96,287.16 211.46,287.85 210.21,288.26 209.09,289.09 208.11,289.23 206.98,288.77 205.88,288.23 204.99,287.59 203.75,286.71 202.02,286.36 200.57,286.24 199.84,285.58 199.34,284.91 198.19,283.91 197.03,283.66 196.14,283.52 196.09,283.10 195.35,282.25 194.94,281.75 195.17,280.92 194.97,280.28 194.85,279.50 194.18,279.39 193.84,279.30 193.24,279.40 192.69,279.28 192.34,279.75 191.41,279.93 190.53,279.95 189.71,280.36 189.05,281.53 188.52,282.25 187.92,283.14 187.14,284.07 186.53,284.24 185.89,283.46 185.61,282.22 185.55,280.24 185.40,278.86 185.30,277.69 184.69,277.20 184.16,276.83 183.56,277.16 183.11,277.97 182.61,279.28 182.65,280.24 182.39,280.53 181.68,280.60 180.33,280.26 179.48,280.45 178.31,280.31 177.35,280.35 176.61,280.09 175.21,280.71 174.31,280.93 173.14,281.29 171.83,281.57 170.59,282.27 169.64,282.56 168.40,282.57 167.20,282.21 166.28,281.74 165.40,281.23 164.85,281.41 163.87,281.04 162.78,280.79 161.61,280.50 160.82,280.47 160.55,280.41 159.47,279.57 159.20,279.42 158.61,279.07 157.76,278.91 157.12,278.22 156.10,277.52 155.87,277.07 155.54,276.59" fill="none" stroke="#77AC30" stroke-width="0.45" stroke-linejoin="round" />
<polyline points="162.16,279.57 162.47,279.13 162.67,278.82 163.09,278.14 163.51,279.56 164.12,280.15 164.20,281.14 164.80,281.45 166.01,281.15 165.40,280.78 164.73,280.41 164.19,279.11 163.55,279.26 163.44,279.13 162.80,279.78 162.59,279.23 162.11,278.94 161.29,278.55 161.06,277.59 160.95,277.66 160.89,277.14 160.72,276.64 159.86,276.23 159.24,275.60 158.79,275.84 158.97,274.60 158.34,275.29 159.25,275.77 159.69,275.08 159.64,275.74 160.29,276.47 160.63,277.28 160.94,277.02 161.30,277.87 161.85,277.74 162.30,278.33 162.81,279.31 162.86,279.41 163.01,279.17 164.18,280.32 164.30,279.84 164.18,280.35 164.77,281.00 164.83,281.44 164.36,281.30 163.86,281.67 163.79,282.25 163.59,282.63 163.62,283.64 163.37,282.99 163.15,282.20 163.48,281.70 163.25,281.15 162.96,280.61 162.55,279.93 162.54,279.12 162.82,279.12 163.00,278.20 162.71,278.21 162.80,277.72 162.55,276.70" fill="none" stroke="#77AC30" stroke-width="0.45" stroke-linejoin="round" />
</g>
<rect x="141" y="226.3" width="87.9" height="79.09999999999997" fill="none" stroke="#444" stroke-width="0.9"/>
<line x1="141.00" y1="226.30" x2="142.60" y2="226.30" stroke="#333" stroke-width="0.7" />
<text x="139.20" y="228.80" font-size="6.4" text-anchor="end" fill="#222" font-family="Liberation Sans, sans-serif" >0.03</text>
<line x1="141.00" y1="242.12" x2="142.60" y2="242.12" stroke="#333" stroke-width="0.7" />
<text x="139.20" y="244.62" font-size="6.4" text-anchor="end" fill="#222" font-family="Liberation Sans, sans-serif" >0.02</text>
<line x1="141.00" y1="257.94" x2="142.60" y2="257.94" stroke="#333" stroke-width="0.7" />
<text x="139.20" y="260.44" font-size="6.4" text-anchor="end" fill="#222" font-family="Liberation Sans, sans-serif" >0.01</text>
<line x1="141.00" y1="273.76" x2="142.60" y2="273.76" stroke="#333" stroke-width="0.7" />
<text x="139.20" y="276.26" font-size="6.4" text-anchor="end" fill="#222" font-family="Liberation Sans, sans-serif" >0</text>
<line x1="141.00" y1="289.58" x2="142.60" y2="289.58" stroke="#333" stroke-width="0.7" />
<text x="139.20" y="292.08" font-size="6.4" text-anchor="end" fill="#222" font-family="Liberation Sans, sans-serif" >-0.01</text>
<line x1="141.00" y1="305.40" x2="142.60" y2="305.40" stroke="#333" stroke-width="0.7" />
<text x="139.20" y="307.90" font-size="6.4" text-anchor="end" fill="#222" font-family="Liberation Sans, sans-serif" >-0.02</text>
<line x1="152.10" y1="305.40" x2="152.10" y2="303.80" stroke="#333" stroke-width="0.7" />
<text x="152.10" y="313.40" font-size="6.4" text-anchor="middle" fill="#222" font-family="Liberation Sans, sans-serif" >0</text>
<line x1="171.20" y1="305.40" x2="171.20" y2="303.80" stroke="#333" stroke-width="0.7" />
<text x="171.20" y="313.40" font-size="6.4" text-anchor="middle" fill="#222" font-family="Liberation Sans, sans-serif" >0.1</text>
<line x1="190.60" y1="305.40" x2="190.60" y2="303.80" stroke="#333" stroke-width="0.7" />
<text x="190.60" y="313.40" font-size="6.4" text-anchor="middle" fill="#222" font-family="Liberation Sans, sans-serif" >0.2</text>
<line x1="209.90" y1="305.40" x2="209.90" y2="303.80" stroke="#333" stroke-width="0.7" />
<text x="209.90" y="313.40" font-size="6.4" text-anchor="middle" fill="#222" font-family="Liberation Sans, sans-serif" >0.3</text>
<line x1="228.90" y1="305.40" x2="228.90" y2="303.80" stroke="#333" stroke-width="0.7" />
<text x="228.90" y="313.40" font-size="6.4" text-anchor="middle" fill="#222" font-family="Liberation Sans, sans-serif" >0.4</text>
<text x="226.70" y="234.80" font-size="7.8" text-anchor="end" fill="#222" font-family="Liberation Sans, sans-serif" >0.01 Hz</text>
<clipPath id="cp2"><rect x="254.5" y="227.3" width="87.39999999999998" height="78.69999999999999"/></clipPath>
<g clip-path="url(#cp2)">
<polyline points="267.97,273.83 267.97,272.78 268.30,271.84 268.81,271.51 268.76,271.12 268.68,271.28 269.07,271.65 268.88,271.37 268.91,270.18 268.53,269.38 268.35,268.30 269.07,267.59 269.76,267.28 270.17,265.74 270.31,264.79 270.48,265.33 270.72,263.17 271.09,263.55 271.12,264.01 270.59,262.37 271.16,259.66 269.99,260.29 270.47,261.34 271.58,261.03 272.21,259.38 271.73,259.70 272.28,257.63 272.14,257.87 272.92,257.09 272.73,257.36 273.36,256.39 273.55,255.91 274.12,254.79 273.55,253.51 273.57,253.13 272.37,251.98 272.83,251.15 273.46,250.80 274.06,250.68 273.82,250.21 274.17,249.33 274.36,249.13 275.76,248.86 276.32,248.17 276.48,247.92 276.57,247.55 276.88,246.34 277.44,246.29 277.12,246.19 277.38,245.70 277.98,244.98 277.99,245.31 278.93,245.12 280.31,244.75 280.95,245.49 281.98,245.67 282.40,245.01 282.80,245.41 283.38,244.23 283.82,243.10 283.65,243.33 284.44,244.22 284.96,243.91 285.34,242.65 287.15,243.21 287.57,242.41 288.23,241.58 288.83,242.32 288.87,242.81 289.48,242.73 290.48,243.63 291.16,243.67 292.11,243.75 292.22,244.47 292.18,245.08 293.16,245.56 294.47,244.96 294.40,244.88 294.74,245.50 294.93,245.11 295.60,246.63 294.91,248.03 294.91,248.22 295.40,248.13 295.60,248.41 295.47,250.01 295.99,251.71 295.73,251.38 295.32,251.36 295.84,252.16 296.68,253.81 297.12,253.83 295.98,254.01 296.57,254.57 296.64,254.15 296.94,256.58 297.77,256.58 297.48,257.69 298.13,257.19 298.90,258.01 298.89,259.15 298.78,258.90 297.78,258.48 298.72,258.97 298.64,260.05 298.49,261.30 297.56,262.63 297.57,262.90 297.95,263.36 298.99,263.63 298.95,265.36 298.81,264.79 299.33,266.10 299.27,266.57 299.98,268.75 299.72,268.86 300.20,269.10 300.20,269.85 300.57,271.74 299.98,270.94 299.67,270.72 299.67,272.45 299.25,273.48 299.20,274.85 299.73,275.82 299.81,275.81 300.56,276.68 300.75,277.58 300.88,277.11 300.07,276.82 299.80,278.11 299.56,279.12 299.52,280.32 298.60,280.07 298.40,280.48 298.07,281.46 298.76,283.33 298.61,284.33 298.46,284.82 298.30,286.16 297.66,284.41 297.80,284.84 296.96,285.69 296.65,284.72 295.77,284.83 295.62,284.60 294.86,284.72 294.04,284.31 294.38,284.63 294.08,284.32 294.22,284.63 292.75,285.27 292.48,284.97 291.64,283.93 290.05,284.96 290.06,284.69 289.81,284.12 289.08,283.32 287.87,282.53 287.75,281.38 286.99,280.68 286.97,280.58 286.16,281.25 285.24,280.64 284.88,280.80 284.02,281.94 283.11,282.15 282.26,281.97 282.58,280.24 281.73,281.12 281.49,281.32 281.08,281.14 280.24,281.38 278.94,282.23 278.13,280.35 277.86,280.01 276.93,278.61 277.22,277.69 277.10,278.55 276.62,278.21 276.27,276.56 276.14,276.58 275.24,276.21 276.02,276.45 275.75,275.94 276.07,274.74 275.91,273.98 275.79,274.09 275.71,273.13 275.67,272.14 275.87,271.68 275.06,270.74 275.63,270.25 275.36,270.32 275.41,268.81 275.76,268.66 276.33,269.48 276.56,266.93 276.85,266.75 276.29,264.87 276.11,265.16 276.14,264.13 277.47,263.88 278.11,263.02 277.87,261.94 278.47,262.26 278.59,261.41 279.34,261.61 279.26,261.53 279.57,261.63 279.82,262.13 279.94,262.69 280.72,262.03 280.80,263.08 281.33,264.17 281.76,265.16 282.40,264.20" fill="none" stroke="#0072BD" stroke-width="0.5" stroke-linejoin="round" />
<polyline points="285.34,272.25 285.55,271.53 285.34,269.75 284.51,269.72 283.91,269.66 284.17,268.70 284.06,267.78 284.15,267.20 284.40,266.27 284.55,266.39 284.70,266.14 284.83,264.27 285.75,264.19 286.41,264.22 285.97,264.03 286.31,262.01 286.45,261.25 287.26,261.63 286.54,260.81 287.30,260.11 287.12,260.36 286.74,260.59 288.02,259.69 289.42,257.83 289.64,258.06 290.06,257.81 290.77,257.33 291.79,258.45 292.43,257.75 292.53,257.71 293.24,258.25 293.34,259.69 293.49,259.53 294.66,259.54 295.41,258.88 296.46,259.38 296.56,259.78 297.48,259.00 298.06,258.16 299.58,257.52 300.00,258.75 300.33,258.65 300.77,257.53 300.93,257.21 302.00,256.73 302.38,256.26 302.38,257.25 303.40,257.08 303.88,257.01 304.29,256.05 305.41,255.86 305.23,255.19 305.94,257.09 307.44,256.81 306.28,256.71 305.65,256.89 305.78,257.99 305.34,257.84 305.39,257.43 305.34,258.50 305.33,258.61 305.28,260.25 304.18,260.50 303.10,261.45 304.20,262.16 303.90,262.03 303.97,263.09 303.60,262.73 303.34,263.70 303.70,265.05 303.76,265.98 303.77,266.50 302.71,266.56 303.11,267.29 302.80,268.34 302.71,268.80 302.74,269.81 302.81,269.68 302.33,269.19 302.10,269.55 301.87,271.49 301.66,272.56 301.62,273.16 301.31,273.15 301.77,274.05 302.11,274.92 300.74,274.77 301.26,276.25 301.29,276.12 300.63,275.83 301.07,275.63 301.69,273.89 301.30,273.41 300.63,271.92 300.39,272.26 300.14,271.15 300.42,270.50 300.66,269.37 299.82,269.97 300.56,269.95 300.47,271.19 299.92,271.18 299.99,271.75 299.95,271.77 299.84,273.62 299.83,272.72 301.40,274.21 301.33,274.78 301.58,276.32 301.16,276.31 300.65,277.85 300.56,278.19 300.87,277.51 301.44,278.88 302.00,280.00" fill="none" stroke="#D95319" stroke-width="0.5" stroke-linejoin="round" />
<polyline points="307.14,277.51 307.02,278.83 306.70,277.37 306.27,279.58 307.69,280.58 308.17,282.12 307.54,281.10 306.98,281.56 307.67,282.70 307.47,283.48 308.22,283.59 308.26,284.05 307.09,283.86 307.31,283.44 308.21,281.66 307.77,281.27 307.33,281.68 307.21,280.97 307.04,281.08 306.63,279.94 306.63,279.60 305.84,278.83 305.16,280.43 305.31,279.47 304.76,278.99 304.60,279.13 303.49,278.06 303.22,277.84 302.64,276.83 301.82,278.35 301.94,277.02 303.34,275.50 301.52,276.67 302.41,276.84 302.40,277.11 301.13,273.50 300.60,274.46 300.66,273.45 300.59,273.92 300.26,273.20 301.11,273.06 300.96,272.16 301.31,272.38 302.38,273.41 302.69,273.53 303.75,274.06 304.47,273.69 304.83,273.84 304.48,272.53 305.03,274.24 306.04,274.62 306.20,273.62 306.55,273.51 306.56,273.28 306.90,273.89 306.74,274.90 307.62,276.36 308.83,276.30 309.92,275.75 308.94,275.89 309.41,275.12 309.33,277.03 309.68,276.56 309.94,276.42 310.57,276.90 309.77,275.49 309.68,275.07 309.74,274.10 310.89,273.24 310.64,273.82 311.39,271.11 310.77,269.38 310.92,269.09 310.29,270.01 311.12,270.24 310.02,269.28 309.46,271.10 309.86,268.72 310.32,270.34 310.10,267.86 310.39,267.90 310.84,269.05 309.91,268.13 309.78,265.34 309.95,265.59 310.43,264.83 310.96,264.28 311.18,263.85 310.50,263.15 310.00,264.03 310.06,264.74 308.70,265.93 308.57,266.26 307.56,265.78 307.09,265.20 306.78,264.29 305.70,265.92 304.90,267.93 304.92,266.84 305.23,266.01 305.85,265.83 306.27,266.42 305.47,268.78 306.09,268.70 305.75,268.15 305.54,269.75 305.38,270.02 304.67,271.28 304.72,272.38 305.90,272.35 305.59,272.65 305.76,272.32 305.62,271.02 306.02,272.07 306.82,272.89 306.31,273.47 305.82,274.62 305.35,273.95 305.18,273.28 305.10,271.92 304.90,270.27 304.18,269.86 303.45,270.20 303.24,270.51 302.23,271.79 302.23,270.63 301.84,270.89 301.15,269.92 301.45,268.82 300.82,267.51 301.13,267.61 301.43,268.30 301.65,266.26 301.31,265.35 300.05,264.71 299.56,266.05 300.05,267.21 299.17,269.18 299.73,269.89 300.13,269.62 299.51,269.41 298.30,269.20 298.45,269.87 299.53,269.95 300.05,270.05 301.04,269.75 301.20,269.05 301.35,270.68 301.08,271.92 301.42,272.40 301.47,274.61 302.28,275.83 301.57,276.53 301.68,275.95 301.67,276.98 301.60,276.19 301.38,276.93 301.14,276.78 301.47,277.31 300.53,277.13 301.25,278.65 301.73,278.60 301.46,279.21 302.12,280.54 302.55,279.61 302.62,281.67 303.01,281.89 302.93,281.75 302.94,282.80 302.31,282.54 302.55,281.07 302.65,280.82 303.02,281.31 303.57,280.89 304.03,279.77 304.42,278.87 305.18,278.37 304.90,278.12 304.71,277.87 304.30,277.15 304.90,277.91 304.72,278.31 304.71,277.11 304.40,276.68 305.92,274.93 305.74,275.65 305.30,275.26 306.57,274.03 306.83,275.22 307.18,272.69 306.79,272.59 306.58,271.72 306.58,271.11 306.48,270.82 306.36,270.27 307.67,270.73 307.54,268.89 307.20,269.64 307.02,268.89 307.23,268.12 307.76,268.50 307.17,267.84 307.43,266.17 306.83,266.89 306.91,266.17 307.81,267.18 309.16,266.65 308.15,262.90 308.97,262.54 308.96,262.28 308.12,265.00 307.10,265.49 307.20,264.92 307.21,263.44 306.92,262.92 307.03,264.90 305.97,265.29 306.54,265.73 305.99,265.02 306.95,267.45 305.14,268.85 305.46,268.17 304.63,267.73 304.58,267.73 304.71,269.17 303.68,271.37 303.20,271.80 303.83,271.59 302.79,273.02 302.51,273.89 303.13,270.97 303.58,272.35 303.71,272.32 303.72,274.49 303.50,275.82 303.40,274.08 302.84,273.95 301.88,274.23 301.73,276.68 302.68,275.53 301.35,276.17 301.99,276.61 301.22,277.70 302.07,278.87 302.20,279.03 301.87,277.50 301.74,278.87 300.37,279.31 300.51,280.90 300.10,281.46 299.74,280.21 299.62,281.91" fill="none" stroke="#EDB120" stroke-width="0.5" stroke-linejoin="round" />
<polyline points="305.38,263.23 305.24,262.16 305.65,260.68 306.21,259.67 306.30,258.53 306.52,259.10 307.08,258.77 306.18,257.83 306.80,258.27 307.31,258.21 307.98,257.07 309.03,257.19 309.29,257.09 310.41,256.54 310.02,256.53 309.73,256.07 311.18,255.92 311.91,254.83 312.08,254.82 312.31,255.97 313.24,256.17 314.65,255.40 315.68,255.09 316.15,254.40 316.38,254.25 316.66,253.42 317.16,254.06 316.78,255.05 316.98,254.69 317.92,253.70 319.51,254.21 320.46,254.40 319.98,254.64 319.62,255.69 319.87,256.39 320.23,257.21 320.93,258.55 320.55,259.42 320.73,259.04 320.91,259.63 320.87,261.21 320.15,261.72 320.08,262.33 321.06,264.63 322.02,264.71 321.48,264.99 321.47,266.31 321.86,265.68 322.43,267.31 321.81,266.97 321.83,266.87 321.74,267.72 322.69,269.26 321.79,270.26 321.67,271.03 322.63,272.20 322.56,273.38 322.73,273.67 323.29,274.13 323.63,273.60 323.18,273.59 323.35,274.15 323.31,275.73 323.12,275.58 323.10,275.99 323.74,276.90 322.98,276.79 322.38,277.98 322.51,276.48 322.16,276.87 321.43,277.15 321.21,278.70 320.64,280.12 320.70,280.54 320.77,282.02 319.47,282.02 319.31,282.48 319.49,282.00 318.83,281.95 318.50,281.29 317.33,282.47 317.01,282.56 316.25,284.06 315.20,284.09 314.22,284.77 314.21,283.16 314.49,282.52 314.17,282.80 314.46,282.07 313.70,281.49 313.03,281.08 312.51,279.94 312.35,280.02 312.48,279.09 312.53,278.28 312.49,278.46 312.46,277.65 312.71,277.35 311.87,276.56 311.92,275.30 311.33,274.60 310.87,274.13 310.88,274.61 311.90,273.67 311.89,274.37 311.73,272.92 311.77,272.16 311.88,271.28 311.04,270.27 310.83,269.98 310.36,268.75 310.82,268.45 310.10,268.37 310.79,267.33 311.00,265.17 311.32,264.99 312.13,266.05 313.13,266.38 312.64,268.94 312.91,268.41 313.10,269.34 313.12,270.04 312.75,270.44 313.37,270.90 314.15,271.99 314.37,272.69 314.11,272.30 314.74,272.14 315.29,272.96 315.92,272.46 316.78,273.90 317.44,274.72 318.13,273.56 317.44,273.93 318.00,276.00" fill="none" stroke="#7E2F8E" stroke-width="0.5" stroke-linejoin="round" />
<polyline points="311.46,264.38 311.75,263.69 311.91,263.37 312.48,262.54 313.23,262.21 314.26,262.32 315.32,261.65 315.39,260.85 315.62,261.12 315.83,260.98 315.97,260.94 316.03,261.24 316.68,259.78 316.46,258.91 318.16,258.74 318.10,258.50 317.96,259.64 318.41,259.45 319.61,259.45 319.37,260.06 320.78,259.15 321.62,259.43 321.97,259.30 323.79,260.06 323.17,261.61 323.27,262.51 323.59,261.27 324.15,261.69 325.51,263.26 325.01,263.51 325.11,262.46 325.52,262.67 325.39,264.24 326.03,264.18 327.00,265.09 328.50,264.51 328.36,265.11 328.07,266.24 328.66,266.11 329.12,267.97 329.40,268.24 329.70,268.12 330.24,269.71 330.68,270.07 329.72,270.99 330.33,272.62 330.23,273.49 331.78,272.87 332.50,274.69 331.83,275.61 331.50,274.53 330.97,275.71 331.98,275.75 331.84,275.73 331.55,277.59 330.43,278.19 329.47,278.40 330.88,278.94 330.52,280.48 329.91,280.01 329.01,280.69 329.21,280.34 328.79,279.94 328.21,279.97 327.81,280.49 326.81,282.11 327.01,283.47 326.18,283.66 325.92,284.85 325.82,285.14 325.76,285.34 325.63,284.76 324.68,283.89 324.47,283.63 324.27,282.52 323.31,281.80 322.78,281.22 322.83,280.84 321.39,281.37 321.19,281.40 321.02,279.30 320.39,279.64 319.75,278.53 320.30,277.23 320.23,277.33 320.12,277.06 319.32,278.57 319.14,277.81 318.44,277.88 317.32,276.43 317.19,274.94 315.93,274.55 316.62,274.46 316.98,273.89 317.34,273.24 318.04,273.41 319.43,272.25 320.00,272.00" fill="none" stroke="#77AC30" stroke-width="0.5" stroke-linejoin="round" />
<polyline points="308.64,270.92 309.18,271.38 308.79,271.11 308.65,272.06 308.72,272.73 308.70,273.69 308.50,273.49 308.29,274.75 308.44,273.35 308.43,274.96 308.03,275.81 307.86,274.37 308.28,274.81 308.16,276.10 308.13,277.66 307.56,277.63 307.57,278.29 306.23,279.64 307.04,281.23 307.33,280.38 306.78,281.30 305.88,280.30 305.71,282.08 305.71,281.65 305.72,281.74 306.22,283.35 306.38,284.04 305.49,284.53 304.99,283.96 304.61,284.22 304.58,284.20 305.12,282.88 305.15,281.92 304.79,280.65 304.50,280.76 304.98,280.30 305.05,279.44 304.42,279.60 304.02,279.87 304.08,279.34 304.05,279.53 304.70,278.07 304.63,277.43 304.66,277.00 304.50,276.90 304.02,276.21 304.41,275.14 304.04,275.59 304.79,275.88 305.01,275.91 304.02,274.77 304.37,274.03 303.55,272.46 303.57,270.93 303.22,269.90 303.71,269.71 303.26,268.99 303.46,269.08 304.06,269.68 302.90,269.65 303.43,268.44 302.73,267.72 302.77,267.76 302.95,268.49 304.13,268.54 304.59,267.83 304.64,268.45 305.44,267.42 305.27,267.79 305.71,268.13 306.30,267.32 306.70,268.81 306.06,268.95 305.70,269.30 305.33,269.52 304.98,270.43 304.52,271.66 305.33,271.26 304.94,270.54 304.67,270.80 304.87,273.19 304.49,273.23 304.72,272.97 304.55,274.43 305.38,275.80 305.43,276.91 304.91,277.40 304.79,276.92 303.69,277.05 303.61,277.59 303.66,277.62 303.97,276.56 303.92,277.15 304.03,275.77 303.97,276.83 304.64,274.95 304.60,273.81 306.00,273.81 305.14,274.67 305.47,274.75 305.59,273.29 305.40,273.30 305.41,272.95 306.48,272.99 305.92,270.66 305.97,270.60 305.70,270.70 305.56,270.42 306.79,270.01 307.34,268.70 306.79,269.06 306.25,270.17 307.72,268.27 307.55,267.16 307.17,266.26 306.81,266.67 306.73,266.21 307.05,265.19 306.85,264.96 307.10,265.04 308.28,263.84 307.37,263.96 308.12,264.10 308.03,265.90 307.47,265.72 307.76,267.08 307.38,267.25 307.71,268.29 307.51,268.57 307.14,268.68 306.45,269.49 306.17,268.47 306.79,270.05 306.82,271.16 306.38,269.84 307.34,270.55 307.15,270.86 306.81,271.50 306.65,270.71 306.48,271.88 306.51,271.58 306.25,273.52 305.81,273.97 306.01,275.84 305.59,276.10 305.56,274.89 305.60,274.80 305.10,277.07 304.98,277.37 305.55,278.76 305.52,278.81 305.06,279.54 304.39,279.75 305.22,280.60 305.51,280.94 305.22,280.62 304.29,280.52 304.27,281.79 304.36,283.12 304.70,283.19" fill="none" stroke="#EDB120" stroke-width="0.45" stroke-linejoin="round" />
<polyline points="302.32,266.04 301.93,266.53 302.23,266.71 302.64,267.63 302.76,267.18 303.16,267.19 303.56,268.17 303.97,268.04 304.07,268.67 304.21,269.25 304.19,270.48 303.73,270.33 304.77,269.68 305.27,271.73 305.05,273.04 305.27,274.75 305.88,274.61 306.35,275.62 306.56,274.34 306.17,274.20 304.63,274.50 304.02,273.50 303.50,270.65 303.28,271.72 302.67,270.17 303.05,270.69 302.49,270.64 302.53,268.41 302.14,269.25 301.76,268.83 301.81,267.42 301.52,267.07 301.02,267.45 300.77,267.06 300.71,266.73 300.61,266.07 300.68,267.08 300.32,266.34 299.42,265.99 299.95,264.34 300.33,265.20 299.68,266.44 299.15,267.68 300.05,268.54 299.63,269.04 299.91,269.00 300.51,268.44 299.77,268.31" fill="none" stroke="#D95319" stroke-width="0.45" stroke-linejoin="round" />
</g>
<rect x="254.5" y="227.3" width="87.39999999999998" height="78.69999999999999" fill="none" stroke="#444" stroke-width="0.9"/>
<line x1="254.50" y1="227.30" x2="256.10" y2="227.30" stroke="#333" stroke-width="0.7" />
<text x="252.70" y="229.80" font-size="6.4" text-anchor="end" fill="#222" font-family="Liberation Sans, sans-serif" >0.09</text>
<line x1="254.50" y1="243.04" x2="256.10" y2="243.04" stroke="#333" stroke-width="0.7" />
<text x="252.70" y="245.54" font-size="6.4" text-anchor="end" fill="#222" font-family="Liberation Sans, sans-serif" >0.06</text>
<line x1="254.50" y1="258.78" x2="256.10" y2="258.78" stroke="#333" stroke-width="0.7" />
<text x="252.70" y="261.28" font-size="6.4" text-anchor="end" fill="#222" font-family="Liberation Sans, sans-serif" >0.03</text>
<line x1="254.50" y1="274.52" x2="256.10" y2="274.52" stroke="#333" stroke-width="0.7" />
<text x="252.70" y="277.02" font-size="6.4" text-anchor="end" fill="#222" font-family="Liberation Sans, sans-serif" >0</text>
<line x1="254.50" y1="290.26" x2="256.10" y2="290.26" stroke="#333" stroke-width="0.7" />
<text x="252.70" y="292.76" font-size="6.4" text-anchor="end" fill="#222" font-family="Liberation Sans, sans-serif" >-0.03</text>
<line x1="254.50" y1="306.00" x2="256.10" y2="306.00" stroke="#333" stroke-width="0.7" />
<text x="252.70" y="308.50" font-size="6.4" text-anchor="end" fill="#222" font-family="Liberation Sans, sans-serif" >-0.06</text>
<line x1="263.70" y1="306.00" x2="263.70" y2="304.40" stroke="#333" stroke-width="0.7" />
<text x="263.70" y="314.00" font-size="6.4" text-anchor="middle" fill="#222" font-family="Liberation Sans, sans-serif" >0</text>
<line x1="281.50" y1="306.00" x2="281.50" y2="304.40" stroke="#333" stroke-width="0.7" />
<text x="281.50" y="314.00" font-size="6.4" text-anchor="middle" fill="#222" font-family="Liberation Sans, sans-serif" >0.1</text>
<line x1="299.30" y1="306.00" x2="299.30" y2="304.40" stroke="#333" stroke-width="0.7" />
<text x="299.30" y="314.00" font-size="6.4" text-anchor="middle" fill="#222" font-family="Liberation Sans, sans-serif" >0.2</text>
<line x1="316.90" y1="306.00" x2="316.90" y2="304.40" stroke="#333" stroke-width="0.7" />
<text x="316.90" y="314.00" font-size="6.4" text-anchor="middle" fill="#222" font-family="Liberation Sans, sans-serif" >0.3</text>
<line x1="334.30" y1="306.00" x2="334.30" y2="304.40" stroke="#333" stroke-width="0.7" />
<text x="334.30" y="314.00" font-size="6.4" text-anchor="middle" fill="#222" font-family="Liberation Sans, sans-serif" >0.4</text>
<text x="339.70" y="235.80" font-size="7.8" text-anchor="end" fill="#222" font-family="Liberation Sans, sans-serif" >0.05 Hz</text>
<clipPath id="cp3"><rect x="367.2" y="226.3" width="87.40000000000003" height="79.09999999999997"/></clipPath>
<g clip-path="url(#cp3)">
<polyline points="378.94,280.88 379.49,280.43 379.59,279.16 379.17,278.68 378.73,278.70 379.11,278.59 379.89,278.72 378.96,277.63 379.07,275.54 378.73,276.84 377.68,275.08 378.09,275.21 379.19,274.89 378.42,272.84 377.80,273.65 378.19,271.16 379.27,271.21 379.78,270.30 378.70,270.26 378.63,270.13 379.15,268.56 379.16,267.68 378.15,268.11 378.66,268.08 378.23,267.23 378.32,265.13 377.68,265.58 378.15,264.77 378.83,264.09 378.64,263.68 379.49,263.30 379.97,263.23 380.67,261.64 380.50,261.50 380.71,259.95 381.00,259.50 380.37,258.65 380.98,258.76 380.48,258.03 381.48,257.36 381.43,256.85 381.69,256.48 381.81,255.97 381.91,254.56 381.67,254.77 381.50,254.28 381.26,253.39 381.67,253.66 382.33,253.12 382.41,252.75 382.54,252.55 382.67,250.31 383.10,249.79 383.51,249.64 383.97,247.41 384.39,248.61 384.87,246.90 384.37,246.20 384.26,245.42 384.13,246.11 384.56,247.11 384.94,246.11 385.10,244.55 385.09,244.31 385.86,243.96 385.86,241.48 386.67,241.56 387.27,241.47 388.24,241.29 387.93,240.60 387.93,240.63 387.99,240.98 388.80,241.44 388.79,241.59 388.80,242.06 389.11,242.03 389.53,243.01 390.36,243.92 390.58,245.71 390.50,245.55 389.99,247.58 390.79,245.32 391.29,246.23 392.09,247.55 392.35,247.41 392.98,248.25 392.90,249.26 392.00,250.28 392.71,251.41 393.44,251.94 393.67,251.54 394.76,251.06 393.94,250.45 394.53,250.93 395.03,252.13 396.77,252.44 396.37,251.60 396.15,252.84 397.09,253.64 397.54,253.87 396.62,255.57 397.53,257.41 397.39,257.07 396.87,257.24 396.32,258.60 396.40,259.85 397.57,259.30 397.58,258.36 397.06,260.66 395.84,260.01 396.69,261.42 396.00,261.37 395.22,262.58 395.43,262.55 395.18,262.93 395.67,263.50 395.62,264.17 395.77,264.74 396.28,265.56 396.12,267.26 395.31,268.27 395.05,269.04 395.20,269.44 395.57,269.12 395.08,270.69 395.14,270.52 395.22,272.06 394.91,272.54 394.52,272.74 393.65,273.06 394.03,273.31 394.30,273.51 393.78,275.25 393.56,276.65 394.59,276.54 394.40,277.50 394.39,277.85 393.79,278.12 394.76,278.45 394.81,278.38 394.21,279.82 394.47,280.63 394.44,280.90 394.05,282.17 394.52,283.11 393.85,281.94 394.53,283.59 394.21,284.14 394.83,286.09 394.57,285.89 394.32,286.32 394.41,287.62 395.37,289.08 396.06,288.18 395.86,286.20 396.21,286.73 396.27,284.99 396.10,284.19 395.97,285.82 395.71,285.39 396.31,284.08 397.40,283.02 397.70,283.26 397.76,281.70 398.11,281.16 398.77,280.62 398.78,279.90 398.83,277.96 399.81,277.97 399.00,277.21 399.72,276.70 398.63,277.15 398.36,275.74 398.41,275.97 399.47,274.09 399.38,273.01 399.11,273.14 398.21,271.10 398.27,270.26 398.71,271.24 398.97,270.62 399.47,269.31 399.16,269.77 399.68,267.96 399.67,267.50 400.23,266.75 399.82,266.64 399.55,267.43 399.52,266.23 399.88,265.69 401.25,265.75 400.94,263.41 401.49,263.26 401.00,264.06 401.07,261.85 400.50,260.90 400.32,260.12 400.25,260.20 400.50,259.93 400.53,260.33 400.15,260.01 399.88,260.11 399.65,261.06 399.08,261.44 398.54,262.27 398.51,262.36 398.81,262.32 398.29,264.01 397.88,264.34 397.41,265.51 397.96,265.10 397.36,266.33 396.35,268.26 397.06,267.52 395.87,269.33 395.60,269.71 395.66,270.51 394.93,270.84 395.74,271.88 395.62,270.80 395.20,271.43 395.45,271.41 395.54,271.88 394.86,273.72 394.76,274.22 395.10,274.67 395.32,276.28 394.94,277.27 393.61,277.26 393.60,278.64 394.11,280.06 394.09,279.37 394.14,279.11 394.64,278.33 394.89,278.93 394.24,280.17 394.00,281.16 395.26,281.53 395.27,282.16 395.01,282.26 395.47,283.63 396.13,284.36 396.15,284.71 396.73,286.72 397.00,286.00" fill="none" stroke="#0072BD" stroke-width="0.5" stroke-linejoin="round" />
<polyline points="400.09,267.15 400.05,266.30 400.61,266.57 400.93,267.33 401.27,267.48 401.88,265.98 400.96,263.86 401.66,262.42 401.39,260.79 402.21,261.77 402.83,259.30 402.99,260.38 402.01,260.14 402.52,259.17 403.62,258.03 403.38,259.34 404.06,259.55 403.95,257.94 404.16,256.26 404.45,255.78 404.86,255.47 404.56,256.18 404.81,255.19 405.95,254.21 406.99,254.52 406.97,252.51 406.84,251.77 407.55,251.05 408.20,251.51 409.17,249.48 408.73,250.91 408.58,251.73 408.53,252.11 408.61,254.06 409.50,253.96 409.37,256.15 409.14,255.54 408.88,256.67 409.34,257.23 409.58,257.89 410.14,258.37 410.34,258.09 411.05,257.89 411.48,257.90 412.20,259.48 412.43,260.33 412.50,260.21 412.76,260.67 412.64,260.95 412.26,262.88 412.04,263.53 412.49,263.40 413.21,263.94 412.53,265.64 412.76,265.83 413.08,265.78 414.10,266.61 414.42,268.14 413.57,267.66 412.85,268.08 412.44,267.52 412.36,267.89 411.73,267.37 411.36,266.50 410.95,265.65 410.38,265.56 409.73,266.24 410.19,265.76 408.80,264.82 407.36,263.89 407.39,264.01 407.19,264.28 406.73,264.70 404.97,262.56 405.78,262.42 406.08,263.15 405.56,262.98 405.25,263.64 405.57,265.03 405.30,265.44 405.21,265.48 404.76,267.13 404.47,267.28 404.01,266.78 403.69,269.25 404.18,268.28 403.59,268.87 404.19,269.84 405.14,270.58 405.63,271.88 404.97,272.93 404.46,273.57 403.37,272.86 402.80,274.45 402.59,274.73 403.29,275.94 402.01,276.63 402.15,277.08 402.79,276.46 403.08,277.12 403.08,277.48 403.30,277.53 402.97,278.96 402.22,279.43 401.44,280.20 402.02,281.55 402.45,282.09 402.81,281.38 402.70,281.64 402.40,282.65 403.12,284.00 403.27,284.45 403.13,283.32 402.88,282.88 403.22,283.57 402.68,281.35 402.27,281.28 402.18,280.31 402.44,280.00 402.41,279.84 402.37,278.49 402.37,278.74 402.40,277.42 402.03,276.89 402.57,275.63 403.02,275.74 403.02,274.63 402.79,274.84 402.78,273.95 403.36,272.34 403.22,272.06 403.06,272.28 402.70,268.94 403.00,270.00" fill="none" stroke="#D95319" stroke-width="0.5" stroke-linejoin="round" />
<polyline points="417.08,269.81 416.69,269.25 417.28,269.36 417.25,269.71 418.00,268.34 418.82,268.12 419.16,267.76 419.15,268.89 419.87,269.12 418.45,269.05 419.09,269.55 419.23,269.74 418.71,269.01 418.09,271.30 418.23,271.58 418.34,271.75 418.25,273.29 418.00,275.88 417.12,276.25 417.80,276.46 418.53,276.36 418.62,275.92 417.83,275.61 417.61,276.31 417.76,276.24 417.74,276.07 416.70,277.36 415.71,277.36 414.51,277.93 414.28,280.69 415.15,280.83 416.08,279.97 414.98,278.89 413.96,276.74 413.51,276.90 413.52,275.55 413.43,276.44 412.72,275.95 412.46,275.46 412.75,274.29 412.86,274.43 412.56,273.69 412.83,271.56 413.42,273.11 414.18,271.60 414.71,270.32 414.50,270.26 414.09,268.43 413.87,267.60 414.08,267.73 413.67,267.68 414.97,268.26 413.42,268.56 415.21,269.84 414.45,270.55 414.26,270.69 413.44,271.50 413.66,270.37 413.91,271.76 413.55,272.89 413.97,274.81 414.30,274.24 415.62,274.86 415.10,277.94 416.16,277.57 415.03,276.48 415.95,275.46 415.81,275.27 415.79,275.20 415.38,276.92 415.95,278.83 414.91,279.13 415.55,281.65 415.98,280.65 415.49,278.87 416.60,279.20 416.34,281.35 416.16,282.55 415.44,283.49 415.98,283.04 415.99,282.70 416.74,284.07 416.89,285.07 416.73,284.33 416.12,286.83 416.34,287.28 416.12,286.84 416.67,286.72 416.53,284.48 417.30,284.88 416.85,283.96 416.57,284.81 416.80,282.21 416.09,283.58 415.42,282.31 415.64,282.40 416.03,281.85 415.99,280.58 415.69,279.20 415.53,279.85 416.09,278.17 415.29,278.39 415.31,277.76 415.58,279.14 415.84,276.63 416.47,275.88 415.35,274.10 415.57,275.15 415.44,274.16 415.16,273.64 415.53,273.76 415.02,271.74 414.17,272.30 414.01,272.52 414.46,272.76 415.40,272.43 414.64,273.26 414.20,272.63 414.01,273.25 414.36,275.37 415.49,274.81 416.01,275.77 415.76,275.56 416.05,275.77 416.83,275.65 415.97,275.97 416.61,276.30 417.86,275.96 418.24,278.65 416.58,278.93 417.26,280.82 416.29,280.96 416.39,281.36 415.60,280.67 415.93,281.90 416.38,281.28 417.37,282.16 417.78,284.48 417.46,283.22 417.19,283.97 416.66,285.13 416.81,286.51 417.43,287.14 418.22,286.87 418.12,288.00 418.63,285.84 418.48,289.23 418.25,288.98 418.81,289.18 418.59,290.06 418.08,288.86 419.91,288.11 419.36,286.62 419.56,284.85 419.01,286.52 419.69,287.05 420.67,285.99 419.23,285.38 419.20,284.36 419.41,283.64 419.41,282.71 418.19,281.60 419.20,282.68 419.04,283.60 418.60,283.65 419.19,283.59 419.09,281.69 418.01,279.48 417.88,279.69 418.70,279.86 419.75,277.95 418.60,278.64 419.05,278.26 419.39,276.00 418.81,275.53 418.36,275.81 419.07,275.95 418.90,274.58 419.83,275.62 420.00,274.21 420.28,274.15 419.83,273.65 419.89,273.12 420.79,272.28 421.58,273.12 420.89,272.80 421.03,271.82 420.46,270.83 420.08,270.69 420.32,270.83 420.86,269.43 421.36,268.07 422.29,266.70 422.68,268.09 423.02,268.70 421.86,267.69 422.06,268.43 421.94,268.62 421.48,269.26 422.38,271.75 421.38,271.08 421.31,270.99 421.31,272.84 421.74,272.40 421.66,272.82 420.77,272.61 419.44,272.39 417.90,272.36 418.37,272.30 418.82,272.89 418.31,272.01 417.75,271.23 418.05,271.97 417.07,270.76 416.89,271.11 416.43,268.91 415.14,267.47 415.69,269.28 415.57,268.58 415.41,268.78 415.16,269.45 416.21,269.85 415.60,272.21 414.94,272.11 414.58,272.52 414.12,272.99 414.44,273.29 415.52,275.98 414.88,275.14 415.26,275.62 415.99,274.99 415.57,275.39 415.06,276.03 415.20,276.63 415.15,276.96 414.75,278.13 414.51,278.38 415.74,279.33 416.22,279.74 416.10,280.20 416.61,280.84 416.48,281.99 415.57,281.22 415.66,282.07 416.12,283.08 416.11,284.40 417.07,285.10 416.79,285.46 417.53,285.63 417.60,285.75 417.29,286.77 416.58,285.20 416.11,286.81 416.92,286.96 416.05,286.84 416.78,286.54 417.85,284.88 417.00,284.42 416.05,283.39 416.01,282.93 416.79,279.64 416.26,279.97 415.65,279.08 415.66,279.67 415.26,280.19 416.19,279.17 416.89,279.26 416.94,278.92 417.40,278.19 417.63,278.78 417.75,277.20 418.86,276.35 418.97,277.23 418.69,276.30 418.82,274.41 419.07,275.41" fill="none" stroke="#EDB120" stroke-width="0.5" stroke-linejoin="round" />
<polyline points="422.74,287.32 422.67,289.36 422.40,287.44 421.25,286.22 420.27,286.23 420.63,284.58 419.83,283.62 419.87,282.97 419.59,283.30 420.76,281.86 420.34,280.92 420.60,280.57 420.19,280.84 419.26,279.51 419.24,277.73 419.30,276.81 419.54,279.58 420.56,278.67 421.41,277.96 421.44,276.31 421.11,274.89 421.31,276.34 420.23,276.80 420.55,275.22 420.14,275.81 420.70,273.61 421.48,273.22 420.96,271.88 420.95,273.75 421.69,273.27 420.60,271.75 420.62,272.37 420.70,271.72 420.46,271.00 420.07,271.37 420.87,270.37 420.56,269.24 420.82,268.73 421.21,269.79 422.16,268.28 423.76,268.99 423.81,269.30 423.66,268.84 423.65,269.04 423.68,269.07 423.96,269.21 423.98,269.05 424.40,269.30 425.28,269.77 426.70,269.64 426.92,269.06 427.29,269.75 427.24,269.22 428.14,270.44 429.64,271.11 429.80,270.48 429.66,271.35 430.01,267.96 431.47,267.87 431.18,268.07 430.99,267.97 430.19,269.87 429.30,269.96 429.10,271.06 429.20,270.97 429.79,271.35 429.61,271.93 429.01,272.30 427.41,274.03 427.56,273.49 428.58,273.40 428.12,273.21 427.38,274.18 426.87,273.02 426.10,275.93 425.55,274.09 424.20,275.29 423.24,274.78 423.55,274.85 424.03,275.62 424.30,275.70 423.46,277.11 422.82,277.05 423.17,276.59 423.08,276.92 422.92,276.79 422.46,277.88 422.61,278.38 422.47,278.14 423.61,279.43 422.86,279.82 422.89,282.55 421.61,282.82 421.39,282.87 421.61,283.37 421.67,284.19 420.54,285.18 421.43,284.28 421.15,284.55 420.86,283.55 420.74,282.11 420.88,280.66 421.30,281.11 420.23,278.00 420.38,278.72 420.78,278.23 420.13,277.24 420.94,277.13 420.81,276.47 420.76,275.41 420.60,274.30 420.78,275.40 420.25,274.79 419.98,275.27 418.93,275.15 420.07,273.95 419.44,271.62 420.08,271.00 420.48,271.52 420.12,272.67 419.75,272.21 419.42,270.68 418.42,270.61 419.02,269.66 418.42,269.26 419.00,269.66 419.55,266.78 418.95,267.00 418.03,266.50 418.60,268.33 417.83,268.10 418.78,269.19 418.53,271.55 418.71,272.25 418.43,272.70 418.84,274.45 418.81,273.81 419.18,276.43 420.11,276.13 419.85,276.53 420.13,278.23 420.28,279.11 419.76,277.69 420.67,276.79 421.48,277.43 421.57,277.81 421.84,278.42 422.48,277.76 422.27,278.93 422.76,279.65 421.45,280.69 421.30,281.66 421.50,281.33 422.00,282.30 421.89,283.46 421.39,284.21 421.81,283.58 421.82,285.46 423.02,285.22 422.94,285.28 423.44,283.22 423.47,285.19 423.51,286.14 424.18,285.14 424.68,285.05 423.69,283.44 423.55,282.41 424.56,281.23 424.12,282.31 422.76,281.16 422.66,279.95 423.20,280.48 423.32,279.88 423.12,279.98 422.86,278.08 423.51,278.25 423.62,277.49 423.42,277.38 423.29,279.21 422.29,278.35 423.45,277.52 423.07,276.16 423.26,274.75 422.83,273.23 423.70,273.73 423.35,275.17 423.80,273.53 424.12,272.24 423.18,272.03 423.03,270.21 423.63,269.90 423.69,269.37 423.32,269.25 423.85,270.85 424.00,271.47 423.46,269.00 422.74,268.07 422.81,268.16 422.73,266.01 423.28,266.35 422.25,265.45 423.42,267.05 423.23,266.03 423.55,267.09 423.52,266.31 423.75,268.29 422.87,269.93 423.33,270.21 423.52,271.50 423.93,269.15 422.90,270.42 424.07,270.03 423.32,270.54 422.37,271.21 422.65,271.53 422.57,271.09 422.57,273.02 423.11,273.67 422.53,274.40 423.21,274.98 422.77,274.86 421.99,276.77 421.72,277.40 421.81,278.68 422.45,278.51 422.04,278.77 422.44,279.67 421.68,279.60 421.25,279.11 421.82,280.25 422.02,281.12 422.17,281.89 422.39,281.11 422.51,280.32 420.97,281.29 420.92,282.25 421.52,282.37 420.98,283.97 421.04,284.29 421.62,287.11 421.05,285.11 421.58,285.84 421.31,285.02 421.64,285.58 421.92,286.39 421.60,287.39 420.96,287.30 421.18,287.37 420.19,284.06 420.41,285.32 421.36,285.44 421.17,283.77 421.26,282.98 420.33,283.74 420.80,282.50 421.68,283.51 420.97,283.37 420.20,281.56 419.83,280.21 419.70,280.88 419.71,280.35 419.44,278.98 419.16,277.76 419.13,278.31 418.42,279.47 419.36,278.61 419.62,277.86 420.98,279.53 420.24,280.57 421.28,279.42 422.96,280.29 422.90,279.61 424.38,281.72 423.93,281.18 423.60,279.93 424.32,278.45 425.20,277.26 424.87,279.01" fill="none" stroke="#7E2F8E" stroke-width="0.5" stroke-linejoin="round" />
<polyline points="434.75,273.16 434.78,272.69 434.50,274.50 433.97,275.59 433.92,276.78 434.10,276.57 433.96,276.29 433.39,276.79 432.77,277.66 433.91,277.13 433.12,278.82 432.67,278.87 432.50,279.69 431.06,281.36 431.53,280.54 431.40,279.27 431.58,280.24 432.43,279.54 432.21,278.34 431.79,278.81 432.18,277.75 432.03,278.35 432.11,275.59 431.79,275.37 431.88,274.33 432.11,274.29 432.58,273.01 432.82,273.03 432.93,272.80 433.82,272.47 433.41,271.72 433.98,271.39 434.54,271.31 434.29,270.21 434.91,271.20 435.57,270.75 435.83,270.62 436.13,270.63 435.70,270.68 436.43,268.25 437.44,269.29 436.44,270.65 436.02,269.64 436.15,269.97 436.17,270.93 436.14,272.58 435.92,272.68 436.06,272.05 436.33,272.99 435.70,274.06 435.16,272.95 434.78,273.17 434.72,275.10 434.71,273.65 434.26,273.31 434.88,274.76 434.28,275.94 434.41,274.49 433.93,275.47 433.73,275.78 434.13,275.19 433.67,274.25 432.85,273.43 432.81,273.70 432.58,273.37 431.94,273.57 433.04,272.87 433.87,273.14 434.50,274.00 434.58,274.40 434.54,274.00 435.99,274.88 436.12,274.85 435.34,274.50 435.53,273.64 435.10,271.73 435.13,270.74 435.55,270.84 435.58,270.09 436.21,269.48 435.91,269.15 434.93,268.91 434.74,266.83 434.96,268.95 434.35,269.87 434.04,268.93 432.99,269.54 432.79,270.37 432.35,270.80 432.58,270.66 433.09,271.62 432.97,272.52 431.63,271.74 432.92,270.77 432.99,272.56 433.29,272.83 434.06,273.09 433.51,275.14 433.87,274.21 434.16,274.23 434.25,275.62 434.71,276.13 435.57,276.60 435.55,277.14 435.50,277.09 434.58,278.36 434.67,278.37 435.20,279.75 435.94,279.12 434.69,280.23" fill="none" stroke="#77AC30" stroke-width="0.5" stroke-linejoin="round" />
<polyline points="396.14,269.55 395.96,270.24 396.74,270.11 396.35,270.68 395.96,271.19 396.42,270.73 396.54,269.91 397.15,268.92 397.57,269.83 397.60,268.24 397.79,268.95 398.21,268.19 398.48,268.31 398.60,270.00 398.18,271.53 397.72,271.26 397.53,271.01 397.70,271.99 397.72,272.44 397.29,271.09 397.57,272.49 398.04,273.33 398.02,273.35 397.59,273.69 397.34,274.61 397.72,275.63 397.79,276.51 398.39,276.51 398.07,276.63 397.86,277.21 397.25,279.41 398.10,279.39 397.76,279.62 397.46,279.12 398.74,281.02 397.34,280.03 397.99,280.85 398.16,281.74 398.13,282.02 398.01,283.34 397.89,283.81 397.51,283.09 397.51,284.08 398.14,285.02 398.99,286.39 398.66,286.64 398.58,286.52 398.23,287.18 397.33,286.56 397.26,285.99 397.68,285.50 397.46,284.71 397.24,285.58 397.39,283.63 397.47,283.01 396.26,282.80 396.24,281.45 395.62,281.88 395.65,281.81 394.94,281.75 395.10,280.57 394.61,280.19 394.81,279.09 394.50,280.24 395.46,279.85 395.11,279.27 394.78,277.72 394.75,276.87 394.94,276.26 394.98,275.85 394.44,274.51 394.35,274.42 394.67,274.13 393.99,272.29 393.98,272.45 393.89,273.77 394.41,273.07 395.42,273.59 395.34,273.88 395.89,273.74 396.09,273.85 396.62,275.09 396.85,274.99 398.01,276.87 398.01,277.55 397.89,277.92 397.82,276.60 397.83,275.75 397.23,276.32 396.55,275.99 396.34,274.04 395.77,272.85 395.88,273.07 395.93,272.22 395.04,271.52 394.50,272.74 394.31,273.77 393.63,272.52 393.11,271.53 393.09,270.63 393.89,272.74 392.87,271.23" fill="none" stroke="#0072BD" stroke-width="0.45" stroke-linejoin="round" />
<polyline points="405.60,276.54 405.14,276.42 405.07,276.41 405.12,275.76 404.78,276.55 404.41,275.40 404.25,273.58 404.31,272.95 404.25,272.14 404.21,270.85 403.37,269.42 403.31,268.35 404.44,268.12 403.80,268.98 402.80,268.39 403.19,267.91 403.76,269.36 403.09,268.87 402.68,269.07 402.27,268.25 402.43,267.01 402.66,268.22 403.10,266.96 403.36,266.34 402.73,263.18 401.65,263.44 401.17,262.20 401.13,263.65 401.17,263.38 402.84,263.89 403.57,264.20 402.40,265.26 403.32,265.64 403.42,266.60 403.58,267.37 403.37,267.26 403.66,268.67 403.58,268.83 403.54,269.11 402.74,270.55 402.42,269.34 402.63,269.85 403.44,271.81 403.41,274.51 403.51,274.10 404.12,273.61 404.10,273.61 403.24,273.29 403.12,273.71 402.91,273.39 403.61,274.97 404.97,275.90 404.41,276.24 404.90,276.10 404.72,275.66 405.21,275.09 404.67,274.68 404.23,274.37 404.07,274.70 403.81,273.58 404.69,274.02 404.03,273.08 403.87,273.47 403.55,271.24 404.01,271.07 403.69,271.13 403.85,270.39 404.39,270.16 404.23,269.81 404.34,270.47 403.68,268.30 404.30,266.89 404.03,267.53 403.58,265.74 403.34,266.27 403.54,266.93 403.39,268.14 402.76,268.59 402.90,267.33 402.28,269.42 402.22,270.07 402.91,269.94 401.75,269.31 401.81,270.56 401.74,271.68 402.11,272.18 401.86,273.67 402.60,273.27" fill="none" stroke="#D95319" stroke-width="0.45" stroke-linejoin="round" />
<polyline points="414.09,281.39 414.19,282.35 415.63,280.51 415.38,280.41 413.89,280.53 413.78,280.20 413.92,280.49 414.11,281.08 414.34,280.04 415.08,278.81 415.49,279.25 415.69,278.08 416.03,276.36 416.27,276.36 416.20,276.06 415.58,275.16 415.73,275.56 415.91,275.06 416.05,275.51 416.60,273.95 416.00,275.09 415.57,275.46 414.86,275.65 414.96,276.78 416.18,276.94 415.87,278.85 415.28,279.99 415.53,280.59 415.63,279.29 414.92,278.92 415.33,277.73 415.51,276.92 414.94,275.48 414.90,275.49 415.43,277.02 415.41,276.76 415.35,275.49 414.63,277.32 414.33,278.07 415.04,278.05 415.73,278.08 414.51,279.32 415.40,280.86 416.35,280.70 416.54,280.13 416.59,280.92 416.23,280.45 416.74,282.76 416.79,282.83 416.51,282.59 416.04,282.71 416.01,283.36 415.23,284.13 414.81,284.63 415.07,284.85 415.50,285.72 414.84,287.91 414.29,288.49 414.85,288.08 414.97,287.07 415.19,286.58 415.91,287.24 416.08,286.69 415.19,285.32 415.32,284.69 415.59,282.94 415.21,283.59 415.48,283.25 415.83,283.76 415.82,281.63 416.26,280.23 416.16,281.39 416.12,281.18 416.80,282.25 416.07,280.25 416.81,280.85 415.89,280.00 415.94,278.52 416.54,277.87 417.16,277.66 417.34,277.00 416.78,276.17 417.04,274.60 416.93,273.98 416.72,273.93 417.01,274.49 416.75,274.88 417.29,274.85 416.50,274.65 415.67,272.46 416.31,271.36 416.81,271.74 416.92,273.95 416.99,274.13 417.36,274.68 417.72,274.81 418.58,273.20 418.16,277.41 418.59,277.18 419.33,276.58 419.67,276.21 419.70,273.86 419.73,274.97 420.87,273.40 421.63,273.24 421.19,274.25 421.24,273.34 421.34,273.66 421.56,273.36 421.37,272.63 421.88,271.24" fill="none" stroke="#EDB120" stroke-width="0.45" stroke-linejoin="round" />
<polyline points="417.09,285.20 416.40,284.70 416.76,284.79 416.88,284.22 417.12,283.29 417.42,282.50 417.44,281.42 415.86,281.19 415.75,281.26 416.35,280.34 416.50,279.97 416.13,279.62 415.96,281.25 416.47,281.12 416.21,279.28 415.51,277.64 415.73,277.02 414.37,275.92 414.50,276.24 414.74,275.63 415.42,274.14 414.76,273.34 414.87,273.36 414.00,275.39 414.39,275.45 414.31,277.16 413.98,277.50 414.63,278.41 414.46,278.85 414.95,278.56 415.28,277.54 415.47,277.68 415.33,280.38 415.68,280.92 416.45,280.93 417.54,281.12 417.85,280.83 416.83,281.41 416.64,282.46 416.45,282.88 416.63,283.15 417.55,282.84 417.91,283.54 418.08,284.36 418.00,284.65 418.87,285.59 418.08,287.74 417.43,288.00 417.89,288.20 418.10,287.45 417.98,287.48 418.56,287.19 419.21,286.12 417.72,285.07 418.89,285.33 417.78,286.68 418.93,285.66 418.19,285.00 418.12,284.78 418.41,282.98 419.33,281.81 418.88,283.18 418.77,281.48 419.07,281.48 419.01,279.93 418.20,278.66 417.36,278.31 417.38,277.98 418.31,278.08 418.48,279.13 418.09,279.34 418.66,278.00 418.17,277.00 417.64,277.15 417.19,275.98 417.83,276.21 417.92,276.68 418.46,274.82 417.93,273.98 417.65,273.91 418.29,271.34 417.98,269.96 417.79,270.11 418.61,268.72 418.18,269.43 417.70,269.35 417.36,269.27 418.28,269.44 418.16,267.70 418.29,266.04 417.74,265.90 417.28,266.05 417.93,267.41 417.96,268.43 417.65,268.87 417.56,269.02 418.24,269.66 417.16,269.89 417.95,270.87 417.44,273.40 417.32,273.98 416.83,273.89 417.31,273.70 417.16,273.82 418.19,274.65 417.92,275.77 418.11,276.00 417.72,276.55 416.84,278.05 416.43,278.54 416.73,278.79 416.88,278.40 418.15,277.93 417.50,277.66 418.27,278.34 417.40,279.27 417.80,280.22 417.69,280.80 417.83,279.68 416.12,280.49 415.59,281.16 415.99,282.99 415.95,283.04 415.59,282.51 415.75,283.40 415.77,283.64 415.33,283.74 414.50,285.48 415.49,287.07 416.06,285.87 415.97,286.92 415.32,286.16 415.78,286.20 415.21,286.64 415.22,285.76 416.40,286.56 415.78,286.21 416.07,283.90 416.33,283.27 416.54,282.43 416.68,281.62 416.51,281.95 416.28,281.93 415.93,281.08 416.11,279.99 415.99,280.32 415.99,279.46 415.56,279.55 415.68,278.30 415.72,278.25 414.97,278.00 415.52,276.80 415.09,276.65 414.62,276.98 414.59,276.94 415.76,276.21 415.19,277.55 415.35,278.15 415.49,278.14 415.30,278.95 415.04,278.59 415.41,280.05 415.51,280.95 415.36,280.86 414.73,281.51 414.90,282.72" fill="none" stroke="#D95319" stroke-width="0.45" stroke-linejoin="round" />
</g>
<rect x="367.2" y="226.3" width="87.40000000000003" height="79.09999999999997" fill="none" stroke="#444" stroke-width="0.9"/>
<line x1="367.20" y1="226.30" x2="368.80" y2="226.30" stroke="#333" stroke-width="0.7" />
<text x="365.40" y="228.80" font-size="6.4" text-anchor="end" fill="#222" font-family="Liberation Sans, sans-serif" >0.12</text>
<line x1="367.20" y1="242.12" x2="368.80" y2="242.12" stroke="#333" stroke-width="0.7" />
<text x="365.40" y="244.62" font-size="6.4" text-anchor="end" fill="#222" font-family="Liberation Sans, sans-serif" >0.08</text>
<line x1="367.20" y1="257.94" x2="368.80" y2="257.94" stroke="#333" stroke-width="0.7" />
<text x="365.40" y="260.44" font-size="6.4" text-anchor="end" fill="#222" font-family="Liberation Sans, sans-serif" >0.04</text>
<line x1="367.20" y1="273.76" x2="368.80" y2="273.76" stroke="#333" stroke-width="0.7" />
<text x="365.40" y="276.26" font-size="6.4" text-anchor="end" fill="#222" font-family="Liberation Sans, sans-serif" >0</text>
<line x1="367.20" y1="289.58" x2="368.80" y2="289.58" stroke="#333" stroke-width="0.7" />
<text x="365.40" y="292.08" font-size="6.4" text-anchor="end" fill="#222" font-family="Liberation Sans, sans-serif" >-0.04</text>
<line x1="367.20" y1="305.40" x2="368.80" y2="305.40" stroke="#333" stroke-width="0.7" />
<text x="365.40" y="307.90" font-size="6.4" text-anchor="end" fill="#222" font-family="Liberation Sans, sans-serif" >-0.08</text>
<line x1="376.70" y1="305.40" x2="376.70" y2="303.80" stroke="#333" stroke-width="0.7" />
<text x="376.70" y="313.40" font-size="6.4" text-anchor="middle" fill="#222" font-family="Liberation Sans, sans-serif" >0</text>
<line x1="396.20" y1="305.40" x2="396.20" y2="303.80" stroke="#333" stroke-width="0.7" />
<text x="396.20" y="313.40" font-size="6.4" text-anchor="middle" fill="#222" font-family="Liberation Sans, sans-serif" >0.15</text>
<line x1="415.60" y1="305.40" x2="415.60" y2="303.80" stroke="#333" stroke-width="0.7" />
<text x="415.60" y="313.40" font-size="6.4" text-anchor="middle" fill="#222" font-family="Liberation Sans, sans-serif" >0.3</text>
<line x1="435.10" y1="305.40" x2="435.10" y2="303.80" stroke="#333" stroke-width="0.7" />
<text x="435.10" y="313.40" font-size="6.4" text-anchor="middle" fill="#222" font-family="Liberation Sans, sans-serif" >0.45</text>
<line x1="454.60" y1="305.40" x2="454.60" y2="303.80" stroke="#333" stroke-width="0.7" />
<text x="454.60" y="313.40" font-size="6.4" text-anchor="middle" fill="#222" font-family="Liberation Sans, sans-serif" >0.6</text>
<text x="452.40" y="234.80" font-size="7.8" text-anchor="end" fill="#222" font-family="Liberation Sans, sans-serif" >0.1 Hz</text>
<clipPath id="cp4"><rect x="478.8" y="226.3" width="89.99999999999994" height="79.09999999999997"/></clipPath>
<g clip-path="url(#cp4)">
<polyline points="493.25,290.64 493.59,288.70 493.64,287.39 494.53,286.64 492.87,286.01 493.03,286.63 494.30,284.87 494.20,283.45 494.31,283.93 494.00,283.69 493.68,284.01 493.97,283.10 494.19,283.02 494.58,281.71 494.81,280.10 495.52,277.79 494.63,278.16 495.17,279.46 492.75,277.95 491.82,275.75 491.61,277.28 493.17,275.39 492.98,275.84 492.97,274.25 493.10,275.76 494.08,273.77 494.26,274.50 493.82,272.55 493.81,272.84 492.85,270.95 494.06,271.60 493.84,271.90 494.65,270.45 494.69,270.47 493.59,270.10 493.53,267.54 493.30,268.59 493.02,267.51 492.70,267.15 493.80,264.95 493.60,265.80 493.62,264.22 494.62,264.18 495.22,264.00 494.83,263.54 494.24,263.54 494.12,264.07 494.13,262.05 494.27,259.88 493.38,258.95 493.90,257.78 494.61,258.31 495.82,259.33 494.36,258.30 493.80,256.76 493.45,255.89 493.77,256.40 493.83,256.07 493.10,256.32 493.54,257.48 494.17,259.35 495.70,257.93 496.50,259.40 496.27,258.78 496.31,259.66 495.98,259.63 497.03,261.76 497.24,263.37 497.09,264.67 497.46,264.51 497.67,262.79 497.67,263.30 497.22,264.76 498.35,267.42 497.82,266.10 497.78,268.31 497.39,269.13 499.04,268.87 499.09,269.09 498.73,270.05 499.41,272.22 499.24,270.24 500.28,269.75 500.92,269.39 501.51,268.46 502.22,268.81 502.78,268.95 503.62,269.47 503.76,269.23 502.35,269.74 502.74,269.70 501.86,269.17 500.53,270.20 498.76,271.74 497.98,270.82 497.62,271.43 498.02,271.70 496.96,270.66 496.70,271.07 497.26,270.52 498.16,270.69 498.30,271.10 498.30,272.48 498.86,273.64 500.35,273.77 499.94,274.46 499.76,273.74 499.15,274.75 499.19,274.35 499.68,273.54 499.23,271.67 499.11,271.86 498.47,272.62 498.41,272.23 497.58,271.72 498.25,269.46 498.12,269.12 497.77,267.79 496.65,268.13 496.06,265.95 496.00,265.95 496.08,264.56 496.72,264.19 496.56,266.65 496.15,266.31 495.21,268.93 495.49,268.18 495.60,268.38 495.27,269.35 495.23,272.09 495.15,272.22 495.66,271.58 496.22,272.18 496.48,273.25 496.30,273.57 496.30,272.14 495.86,272.70 496.11,271.56 496.67,270.33 497.76,270.02 497.71,269.45 498.01,269.16 497.94,266.80 497.62,268.19 497.55,267.75 498.04,266.16 498.17,264.94 499.51,263.83 500.07,264.35 500.24,263.37 501.74,263.92 501.33,266.13 501.02,264.53 501.08,262.23 501.62,261.00 501.04,262.50 500.66,263.12 501.41,263.26 500.34,264.33 500.84,266.46 500.20,267.51 500.88,265.57 501.15,267.31 502.36,268.11 502.93,268.80 503.29,269.31 501.55,269.47 502.25,270.05 502.87,270.14 502.97,271.15 503.41,270.54 503.53,271.94 502.96,272.22 503.37,272.66 503.15,274.76 503.86,275.29 504.36,275.05 503.76,277.19 503.10,274.41 503.24,273.34 502.97,274.47 501.60,274.24 502.11,272.20 502.12,272.08 501.77,271.89 502.83,271.39 503.16,270.37 502.90,269.26 501.93,270.30 502.19,270.24 502.02,269.17 501.39,268.78 502.39,267.27 502.35,268.58 502.31,267.30 502.09,266.18 502.14,267.17 502.94,264.43 502.72,264.07 502.45,263.45 503.72,263.00 502.96,264.35 502.39,263.09 503.51,263.08 504.00,260.56 503.69,260.52 502.48,257.78 502.54,257.13 502.29,256.93 503.32,257.36 503.93,258.01 504.20,256.35 504.15,257.10 503.41,256.22 504.75,254.08 504.36,253.03 504.22,251.27 504.71,253.38 505.61,251.56 505.73,250.50 504.88,249.19 505.54,248.32 506.09,246.93 505.76,246.57 505.30,245.11 505.27,247.91 505.76,245.94 505.66,245.27 505.76,245.57 505.95,245.03 505.38,244.68 505.98,245.87 506.78,244.54 505.98,243.77 506.72,243.60 507.17,243.32 506.70,243.13 507.48,243.54 507.96,242.88 508.52,245.03 508.30,245.30 509.38,244.74 508.86,245.75 508.23,247.05 509.56,247.22 508.87,246.04 508.71,248.02 508.32,250.68 508.70,249.47 509.34,247.50 509.19,249.01 509.70,250.61 510.77,252.51 510.14,253.68 509.07,253.08 509.89,252.71 509.85,254.12 510.21,257.27 510.00,257.69 510.17,256.71 510.54,256.73 510.01,256.55 509.84,257.66 510.31,257.89 510.61,259.12 510.17,259.49 511.02,261.45 510.32,260.10 510.45,261.85 510.85,262.99 510.60,262.84 510.99,262.77 511.06,264.08 510.93,265.19 511.61,266.69 511.38,266.03 511.09,266.33 511.79,265.82 511.08,266.40 510.10,267.18 511.08,267.89 512.83,269.75 512.76,270.72 513.07,271.43 512.58,272.33 511.60,273.53 512.22,273.68 511.80,275.27 511.45,275.12 512.13,275.31 512.11,276.28 511.29,276.92 510.55,276.03 510.53,278.98 511.62,278.44 512.08,279.58 511.92,280.54 512.05,280.47 512.00,279.95 512.25,279.70 512.21,277.59 511.58,276.36 511.10,278.28 512.25,275.78 511.74,276.08 511.90,274.75 511.56,275.09 511.73,273.18 510.95,273.70 511.14,272.49 511.50,273.26 511.29,272.56 511.71,271.48 511.42,270.39 510.61,270.91 510.35,269.05 510.75,267.57 510.44,267.11 510.53,266.09 510.54,264.43 510.57,264.64 511.26,265.74 510.79,266.48 509.37,264.33 509.45,262.29 510.53,263.30 510.14,261.55 510.00,262.00" fill="none" stroke="#0072BD" stroke-width="0.5" stroke-linejoin="round" />
<polyline points="509.59,275.01 510.27,273.12 510.46,272.23 510.77,272.08 510.89,270.73 511.25,272.60 510.98,271.43 510.95,269.55 510.88,269.36 510.26,267.23 510.96,267.15 510.93,266.79 510.74,266.65 510.72,266.32 510.57,266.12 510.87,267.21 511.78,265.53 511.94,263.66 511.93,262.77 511.88,263.27 511.37,262.59 512.42,261.23 512.35,261.70 512.44,259.87 513.34,260.09 514.28,259.81 514.53,259.32 513.50,258.04 513.98,258.16 513.89,257.26 514.00,255.69 514.25,256.67 515.29,256.09 516.37,256.12 516.99,256.76 517.56,254.90 517.11,253.28 517.45,253.12 518.37,253.28 518.62,252.17 518.79,252.64 518.97,250.62 519.34,250.43 520.43,251.36 520.36,250.34 520.64,248.51 520.65,249.67 520.62,250.49 520.57,251.48 521.56,252.86 520.25,253.57 519.98,254.93 520.33,254.52 520.47,255.07 520.65,255.27 520.38,255.69 520.72,256.02 520.29,257.79 520.35,257.71 521.07,259.98 521.13,259.93 521.01,260.88 521.42,261.00 521.61,260.84 521.43,261.93 522.47,261.41 521.94,262.76 520.92,264.18 521.63,264.87 522.34,266.56 522.61,267.26 523.04,265.52 520.82,267.29 521.83,266.89 520.97,267.64 520.25,266.97 520.11,267.29 519.54,266.50 519.71,266.62 518.48,266.74 517.74,266.93 516.75,266.39 515.56,268.10 514.68,270.04 514.85,270.22 514.48,271.43 514.21,272.89 513.17,273.10 513.62,272.93 514.46,273.17 513.49,273.49 513.34,274.83 513.90,275.14 514.26,275.24 513.68,276.11 513.89,276.78 512.91,277.20 513.00,278.00" fill="none" stroke="#D95319" stroke-width="0.5" stroke-linejoin="round" />
<polyline points="529.42,277.55 529.11,276.48 528.76,276.06 528.44,276.66 529.12,275.58 529.47,273.95 528.80,274.21 529.30,272.60 528.58,272.95 529.26,271.80 529.88,272.53 529.96,273.02 530.33,272.02 530.33,270.28 530.21,271.54 530.07,271.23 529.81,269.28 530.24,268.06 529.52,267.38 530.20,266.86 530.11,267.10 530.71,267.02 530.78,265.74 530.42,267.17 531.44,264.52 531.45,264.89 531.87,264.98 531.94,262.69 531.08,261.51 531.01,261.60 531.50,261.91 532.05,262.76 531.23,261.67 530.65,261.59 530.43,260.15 530.54,260.63 531.94,260.88 531.08,261.39 530.69,261.01 530.34,262.04 530.50,262.38 529.45,263.19 528.57,261.71 528.35,262.90 528.71,262.65 528.61,262.33 528.15,262.99 528.10,265.31 528.10,265.48 526.38,265.96 525.60,265.08 525.45,265.51 524.74,265.91 524.37,266.05 524.36,267.29 524.81,267.28 524.63,269.02 524.53,268.49 523.79,269.13 523.73,270.64 522.37,272.03 522.72,270.85 522.79,270.34 523.59,271.54 522.17,269.39 522.04,270.52 523.56,271.40 523.47,273.39 523.98,273.22 523.98,273.24 523.47,274.31 523.65,276.15 523.63,275.76 523.11,276.09 524.00,276.86 524.33,278.07 524.47,277.45 524.15,276.44 524.65,276.42 525.02,278.57 525.84,278.64 525.15,279.50 525.43,280.92 524.83,281.25 525.11,280.99 526.57,281.31 526.16,281.75 526.24,283.18 526.78,284.34 526.46,282.86 525.69,282.48 526.60,282.89 528.13,282.79 528.39,282.65 528.26,283.06 527.94,283.15 529.28,282.15 529.84,279.95 529.47,277.42 529.49,277.45 530.22,276.96 529.60,276.96 529.59,277.12 529.51,277.96 530.32,276.82 531.36,275.78 532.60,275.19 532.79,275.17 532.36,275.59 531.83,275.12 531.31,274.70 531.08,276.62 531.37,276.67 530.89,277.18 529.53,276.02 529.30,275.84 529.12,276.28 527.60,274.27 528.27,274.27 528.22,273.51 527.70,273.20 526.63,272.51 525.54,273.13 526.40,271.97 526.42,272.83 526.07,271.51 525.00,271.42 525.86,271.65 525.32,272.13 525.34,271.26 524.95,272.75 524.69,272.62 523.86,272.71 524.65,273.09 524.37,273.38 523.54,275.28 523.64,276.72 525.07,276.08 524.26,276.56 524.53,276.15 525.49,276.66 524.37,276.01 525.26,278.16 526.29,278.89 525.37,279.02 524.86,278.30 524.93,279.24 524.99,279.71 524.72,282.00 525.40,282.26 523.50,281.52 524.70,280.66 524.36,280.97 524.21,280.77 524.35,283.04 524.83,283.65 525.00,284.43 526.14,283.99 525.07,283.91 525.19,284.12 524.11,285.73 524.94,286.43 525.43,286.96 525.13,286.49 524.06,285.34 523.56,285.09 524.19,285.48 523.66,283.29 523.79,283.50 524.51,282.91 524.41,282.49 524.64,281.46 523.99,280.68 523.70,281.42 523.68,279.48 523.05,280.60 523.97,277.79 523.65,277.61 525.07,279.03 525.76,277.70 525.71,279.09 525.48,277.31 525.07,277.13 524.85,275.26 524.83,274.09 526.00,274.97 525.56,274.69 525.48,273.02 525.53,273.03 526.60,271.74 526.81,270.21 526.48,271.20 526.31,270.36 525.96,268.94 526.99,269.68 526.72,268.82 527.07,267.83 527.83,269.25 527.74,269.10 528.28,268.30 528.12,268.76 528.71,266.38 528.81,266.49 528.85,266.83 529.76,266.13 529.57,263.88 529.62,264.79 529.52,265.37 530.08,264.46 530.38,262.18 531.12,261.78 531.16,262.68 531.46,260.56 531.34,261.04 531.68,260.74 531.48,259.77 532.32,259.60 532.31,258.71 532.05,258.24 532.65,258.58 533.16,258.70 533.08,258.26 533.12,257.37 532.79,258.04 533.59,257.28 534.10,256.81 533.13,257.72 534.66,258.24 534.40,257.05 534.70,258.48 534.71,256.90 533.43,258.91 533.63,260.45 532.18,260.97 532.89,261.53 533.54,261.93 533.35,261.46 533.39,261.54 533.55,263.94 532.66,263.13 532.13,263.50 531.11,262.83 530.49,265.08 530.76,263.70 530.35,263.84 529.62,265.24 529.70,265.50 529.37,266.02 529.96,267.28 530.37,267.78 529.07,268.55 529.40,269.41 529.09,269.40 528.67,270.11 528.93,270.68 529.74,270.83 528.95,271.08 529.39,272.83 529.56,271.56 527.68,271.41 528.75,273.06 528.13,274.58 529.37,274.77 529.37,276.53 529.09,277.87 529.58,277.34 529.00,276.74 528.73,276.56 527.36,277.75 527.39,276.46 526.85,278.16 527.45,278.11 526.26,277.71 526.69,277.82 526.75,279.63 526.99,279.63 526.02,280.33 525.43,281.63 525.24,282.10 525.19,282.78 525.39,283.63 525.23,284.02 524.47,283.16 524.99,283.60 524.62,284.05 525.71,284.88 525.07,285.83 523.73,286.76 525.15,286.15 523.87,286.75 523.98,287.22 524.24,286.15 523.61,284.55 524.70,284.13 524.94,282.03 525.88,283.06 525.36,283.34 525.68,284.12 524.83,285.40 525.20,285.14 525.62,283.19 525.73,282.01 526.17,278.91 526.45,277.98 525.43,279.10 525.47,278.32 525.19,277.20 525.27,277.35 525.72,276.36 526.11,274.46 524.96,274.21 525.45,274.15 525.94,273.28 525.97,271.83 525.66,273.28 525.90,272.38 526.90,273.78 526.60,271.30 526.93,271.16 526.30,271.60 526.71,272.03 526.95,270.88 525.86,270.48 525.66,269.60 526.84,269.22 527.64,270.70 527.50,269.37 526.95,268.51 527.70,266.83 528.72,266.63 527.85,265.48 528.98,263.76 529.03,263.71 528.46,264.58 529.33,263.24 528.81,263.51 529.37,263.29 529.86,262.37 530.38,262.43 530.23,262.96 530.09,262.36 529.57,262.60 529.42,260.42 528.67,258.77 529.30,258.91 529.37,257.78 529.10,259.05 530.17,258.80 530.15,261.00 530.18,260.44 529.61,261.40 529.17,262.50 529.05,261.36 530.12,262.00 530.61,263.13 530.93,264.68 530.72,264.67 529.89,264.77 530.79,264.28 530.65,265.94 531.15,264.90 531.88,266.51 531.74,266.60 531.03,266.77 531.08,267.00 532.13,268.62 532.07,268.16 531.86,271.43 531.54,269.98 531.15,268.85 530.97,268.91 531.84,270.82 532.14,270.82 532.62,270.37 532.67,270.54 533.41,270.91 533.10,271.13 533.02,271.81 532.62,272.41 532.75,273.74 534.07,273.40 534.82,274.37 534.72,275.04 534.87,276.60 534.70,277.21 534.60,278.50 534.34,279.98 534.45,279.43 533.44,278.87 534.00,278.52 533.74,279.38 534.00,279.85 534.36,281.57 533.94,281.11 533.94,281.65 535.25,282.81 535.71,282.43 535.57,282.30 535.14,283.06 534.01,283.69 534.00,283.82 534.41,283.74 534.99,284.03 536.21,285.14 535.85,285.64 536.47,287.47 536.32,288.24 536.72,287.22 535.99,285.75 534.86,285.66 535.47,285.46 534.69,283.87 534.35,284.30 534.35,284.49 532.98,284.61 532.79,284.15 533.28,283.44 532.33,283.05 532.26,282.07 532.22,282.65 532.15,281.70 532.39,280.00 531.84,279.86 531.65,279.71 531.16,278.67 530.08,278.69 529.37,278.93 528.42,277.53 528.52,278.46 528.60,279.07 528.80,277.80 528.51,276.73 528.40,276.89 528.00,276.18 527.26,275.61 526.97,273.86 527.06,273.64 527.45,273.29 526.71,273.64 526.18,273.57 527.36,272.89 527.56,272.32 526.85,270.78 527.32,270.65 526.17,270.75 525.49,269.03 523.74,269.29 523.15,269.62 524.57,269.86" fill="none" stroke="#EDB120" stroke-width="0.5" stroke-linejoin="round" />
<polyline points="536.03,275.41 536.70,273.48 537.90,274.23 536.32,275.26 537.89,274.42 538.21,273.31 537.95,275.50 539.39,275.80 540.53,275.03 540.70,276.47 540.84,274.64 540.21,275.23 540.77,275.50 541.69,275.38 542.94,276.53 543.15,276.91 542.62,275.54 541.86,276.73 540.71,277.84 539.90,274.90 540.57,275.73 540.76,274.59 541.09,274.06 539.76,273.59 538.76,273.66 538.17,272.76 538.81,272.96 539.59,273.21 540.00,271.81 539.28,270.45 538.73,269.66 537.23,270.42 537.17,269.45 537.12,270.06 536.95,269.62 536.85,269.10 537.20,269.31 536.99,267.69 536.21,266.69 536.48,266.87 535.69,268.02 535.72,269.17 535.59,268.98 535.60,268.50 535.71,267.60 535.05,264.16 534.63,264.05 534.79,263.47 534.48,265.24 533.72,262.92 534.80,262.26 535.66,261.90 535.63,263.57 536.66,262.69 536.51,263.39 536.71,263.75 537.53,262.42 538.70,261.94 539.82,261.71 539.60,262.15 540.13,262.20 539.89,261.54 539.94,261.51 541.53,261.14 541.11,260.12 542.47,262.50 542.39,261.21 542.82,262.68 542.21,262.22 542.56,262.58 541.34,262.30 539.97,263.23 540.18,262.40 539.81,263.78 539.37,264.12 537.82,263.09 538.78,265.16 537.62,264.36 536.90,264.56 536.86,265.34 537.28,264.94 536.72,265.40 536.37,266.64 536.69,267.46 536.29,269.28 535.81,268.90 536.13,269.45 536.70,270.44 538.65,269.77 539.48,269.57 539.67,268.72 539.97,270.08 539.44,270.42 539.83,270.53 540.11,270.05 541.87,269.42 542.20,270.43 542.47,271.11 544.10,271.60 543.25,272.17 543.43,272.81 543.63,272.54 543.62,270.96 542.27,270.95 541.92,271.35 540.63,269.72 540.61,269.38 540.21,269.99 540.53,271.87 540.33,270.05 540.78,269.79 539.55,270.33 539.29,269.98 538.82,270.97 539.20,270.79 538.56,267.74 538.04,269.11 537.94,268.11 538.15,267.31 538.64,267.43 537.34,265.94 537.43,266.90 535.09,267.17 535.52,265.58 534.92,265.56 533.62,265.57 533.85,264.45 534.19,264.86 534.07,265.48 533.86,265.25 533.58,264.79 533.17,265.77 532.57,267.04 532.33,266.11 533.31,268.09 532.46,268.83 533.16,268.78 533.34,268.43 533.47,269.31 532.85,268.66 533.19,270.40 532.42,271.59 533.37,271.84 533.81,272.35 534.30,272.07 533.27,272.65 533.35,273.38 534.12,274.86 533.15,274.27 533.08,275.16 533.62,277.13 533.41,276.64 533.37,277.08 533.98,275.55 533.64,276.76 533.37,277.44 533.32,278.49 533.59,279.93 533.66,279.91 533.57,278.63 535.01,278.54 535.20,278.57 535.33,279.28 535.98,278.91 537.32,279.23 537.70,278.67 538.58,278.41 539.75,279.48 540.30,279.78 540.92,279.70 540.77,278.79 541.19,277.16 542.37,278.12 543.05,277.89 544.19,278.41 545.24,278.66 545.03,278.20 543.72,278.83 544.15,277.05 544.00,276.77 544.86,275.77 545.03,275.91 544.50,277.06 545.59,278.95 544.86,277.71 544.14,277.44 543.40,277.40 543.24,276.87 543.09,277.88 542.48,278.23 541.89,277.31 541.38,278.06 541.70,276.60 541.13,277.77 540.28,276.56 539.45,277.12 539.63,278.77 539.21,277.44 538.29,277.31 537.60,276.94 537.02,276.50 537.01,277.35 534.97,277.77 535.39,278.59 535.59,280.44 537.13,277.79 537.20,277.95 537.78,279.33 538.64,278.18 539.87,278.34 540.25,276.90 539.68,275.99 540.26,276.24 540.68,275.43 539.05,274.58 539.03,273.87 539.51,272.14 539.29,270.66 540.09,270.78 540.84,270.66 540.35,269.95 539.91,270.81 539.70,268.80 540.87,270.14 540.30,268.40" fill="none" stroke="#7E2F8E" stroke-width="0.5" stroke-linejoin="round" />
<polyline points="547.06,276.55 547.46,276.77 547.20,276.59 547.38,277.35 548.42,276.82 547.93,277.70 548.75,279.33 549.07,278.82 549.80,280.07 550.35,280.84 550.43,281.05 550.10,282.47 550.22,281.90 551.01,282.02 552.31,282.04 551.77,281.62 552.29,281.86 552.31,279.95 551.85,281.66 551.44,282.29 551.49,281.87 551.85,280.76 551.68,280.65 551.16,279.66 551.64,279.12 551.33,278.40 551.44,277.70 549.80,276.91 550.47,274.63 551.30,274.43 550.32,274.19 550.10,276.29 549.35,275.56 549.78,274.98 548.47,273.28 548.71,273.17 547.91,273.98 548.74,273.80 548.98,271.94 548.85,271.37 549.20,270.35 549.63,270.61 549.54,268.27 549.91,267.86 550.07,268.50 549.61,266.99 549.04,265.98 547.74,265.78 547.59,266.48 546.51,266.25 547.71,265.21 547.47,265.12 548.20,265.17 547.74,263.93 547.85,264.39 548.99,264.11 549.53,264.99 549.18,263.82 549.16,264.94 549.28,265.94 549.83,267.31 549.65,267.19 550.40,268.63 550.44,268.29 550.61,268.86 550.69,269.47 550.82,269.40 551.89,269.27 551.72,270.39 552.63,272.90 551.35,273.02 552.07,272.72 551.95,272.10 551.80,272.55 550.89,274.53 551.63,273.71 551.83,274.97 550.98,275.47 550.36,274.31 550.53,274.20 550.30,273.46 549.03,274.59 549.68,274.85 549.10,275.54 548.25,275.25 547.15,275.07 548.21,275.60 548.95,277.66 549.41,278.36 549.61,279.59 549.09,278.47 549.69,278.31 549.66,277.95 551.26,275.46 551.36,275.36 549.70,272.76 549.16,272.46 548.30,272.58 548.26,271.68 547.40,271.33 547.37,270.59 548.11,270.21 548.11,270.97 547.66,270.48 547.96,269.25 548.31,269.93 547.50,268.17 547.49,267.88 547.51,266.62 547.57,265.85 548.17,265.96 546.47,265.96 545.99,265.31 546.23,263.49 546.52,263.35 546.61,264.37 546.13,262.96 546.83,262.68 547.12,261.62 547.53,262.81 547.83,263.14 548.16,262.57 548.28,262.91 548.88,262.19 549.48,264.02 550.27,263.42 550.20,264.50 550.67,264.73 551.84,264.82 551.77,265.75 551.19,265.88 551.94,266.48 552.71,266.31 552.23,265.77 552.72,267.17 553.81,267.28 554.88,266.20 554.10,266.99 554.25,266.55 553.14,267.97 553.23,269.74 553.14,271.66 553.25,270.80 552.28,270.92 552.70,271.06 552.73,271.53 552.39,270.63 550.62,270.26 550.53,272.68 550.43,273.77 550.74,274.26 550.21,274.71 549.35,275.27 549.52,275.36 549.78,276.42 548.19,277.80 548.67,277.40 548.07,276.29 548.26,275.30 547.77,275.79 549.14,277.12 550.11,276.88 549.86,277.83 548.68,279.48 547.90,278.82 548.39,277.86 548.35,277.80 548.42,278.11 548.43,277.52 548.62,275.43 549.13,275.03 547.93,274.38 547.99,273.26 549.38,272.89 550.04,272.11 550.02,273.15 549.03,272.68 549.22,270.86 549.42,271.19 549.39,272.00 549.01,271.31 548.66,270.26 550.06,269.50 550.56,268.72 550.57,268.68 551.04,267.85 550.74,265.59 551.03,265.35 550.16,265.66 551.24,266.66 551.21,265.67 551.44,265.75 551.34,264.54 550.54,264.53 550.24,265.37 550.96,265.52 551.23,264.90 551.50,263.25 551.49,261.96 551.91,261.91 552.21,261.41 552.57,261.26 552.23,260.03 552.55,260.91 552.43,262.95 551.61,262.72 552.67,263.12 552.42,265.58 552.22,267.64 551.57,268.02 552.19,266.68 552.04,268.22 552.65,268.08 553.75,268.97 552.70,269.57 552.25,269.61 552.08,270.90 552.23,270.72 552.20,270.85 552.11,270.44 551.62,270.85 550.15,271.32 550.81,272.52 550.81,274.34 550.66,274.21 550.40,276.67 550.90,277.63 549.86,277.47 549.04,278.31 548.89,276.10 549.22,274.84 549.03,273.64 548.88,272.00 548.26,274.15 546.52,272.83 547.47,271.35 547.01,272.58 546.02,272.48 546.05,271.38 546.35,272.74 546.48,270.64 546.21,270.96 546.70,271.00 546.89,268.08 547.01,267.50 547.66,267.99 546.49,266.24 547.56,267.43 547.30,266.07 546.86,264.91 546.76,264.53 546.44,262.76 545.87,262.89 545.06,262.54 545.58,261.87 545.13,260.99 546.05,260.22 546.35,262.62" fill="none" stroke="#77AC30" stroke-width="0.5" stroke-linejoin="round" />
<polyline points="498.04,288.72 498.29,289.28 498.33,287.71 499.61,287.56 498.84,285.83 498.54,285.68 498.64,285.14 498.94,283.35 499.35,283.73 499.24,283.93 499.16,283.81 499.63,283.62 498.47,281.40 499.64,282.09 500.13,281.21 500.23,281.06 500.69,281.14 500.61,280.13 500.35,278.58 500.99,276.02 501.02,276.73 500.78,276.59 500.82,276.29 500.55,275.69 500.30,276.05 500.15,275.72 500.55,275.99 500.54,276.73 500.98,274.74 501.89,274.56 502.09,273.91 501.44,272.83 501.43,272.17 501.47,272.79 501.63,271.57 501.85,272.58 502.14,271.56 502.17,271.60 501.77,270.88 501.32,269.23 501.56,268.57 502.13,269.40 501.40,269.60 502.04,269.18 502.42,268.21 503.16,266.60 503.43,266.41 503.92,265.14 503.49,265.45 504.30,264.90 503.64,266.27 502.14,264.42 502.93,263.99 503.04,262.50 502.51,262.22 502.23,262.18 502.51,262.30 502.17,262.75 502.46,264.29 501.12,264.32 501.55,263.84 501.34,265.72 501.52,265.89 500.05,266.63 499.56,268.34 498.94,266.91 499.58,268.53 499.72,267.50 500.08,268.98 499.72,269.31 498.57,270.85 498.00,270.84 497.79,271.80 498.26,271.45 498.25,272.40 497.62,273.52 497.93,272.91 497.57,272.08 497.43,273.25 498.03,274.02 496.75,274.83 496.20,275.42 496.38,276.36 496.92,277.63 495.85,278.53 496.33,277.24 496.17,276.40 495.42,275.69 496.04,277.25 496.31,277.87 496.15,280.24 495.94,281.09 496.12,280.87 496.97,282.57 496.89,284.11 497.74,283.55 497.33,282.58 497.48,283.80 496.84,283.42 496.52,283.81 496.25,284.15 497.49,285.27 497.73,284.98 497.89,283.59 498.85,285.54 499.91,286.80 500.42,285.02 500.59,285.73 500.92,286.61 500.15,286.98 500.81,288.39 501.71,288.84 501.75,289.61 501.23,289.87 500.83,290.48 500.78,288.75 501.14,287.41 499.78,286.69 500.45,285.95 499.97,287.16 500.51,286.14 500.06,284.57 499.28,285.17 500.22,284.91 499.88,283.67 499.34,282.93 499.24,283.64 498.25,283.04 497.72,283.76 497.87,281.87 499.56,280.09 499.17,279.79 499.07,279.57 499.33,279.48 499.23,278.85 498.89,277.46 498.47,278.05 498.77,278.71 499.23,277.19 499.00,277.38 498.64,277.78 498.08,278.00 497.50,277.03 497.47,276.35 497.92,275.12 498.06,274.80 498.71,273.69 498.18,272.10 497.77,273.17 497.84,270.48 497.26,268.85 496.97,269.26 497.19,270.22 497.05,267.35 496.82,267.51 496.86,267.78 497.18,268.74 497.59,267.06 497.42,267.02 496.91,266.12 496.97,266.01 496.36,265.81 496.36,264.50 496.14,264.59 497.05,263.25 497.24,263.26 497.13,265.41 497.65,264.92 497.06,262.97 496.81,264.97 497.17,264.03 497.58,262.94 497.57,263.55 497.71,263.69 498.60,264.87 499.02,264.45 500.43,266.27 499.85,267.42 500.16,267.80 500.17,266.62 500.77,268.14 501.00,267.02 501.08,267.93 502.01,266.53 501.56,266.23 501.19,267.95 502.09,267.73 501.58,267.60 500.68,267.35 498.80,267.66 498.54,267.28 497.65,266.96 497.32,268.14 496.45,268.63 497.08,268.85 495.67,268.14 495.30,268.45 495.16,266.46 495.63,267.06 495.03,268.72 495.06,268.63 495.07,268.94 495.79,269.14 495.36,270.13 495.08,271.31 495.47,270.70 495.48,271.39 495.28,273.43 494.90,272.98 495.40,272.30 495.68,273.80 495.99,273.64 495.61,273.94 496.16,273.85 497.18,274.64 496.77,276.27 496.24,276.13 495.39,276.82 494.91,276.95 495.41,277.96 496.05,278.53 495.34,278.26 495.02,278.43 495.77,278.16 496.32,280.24 496.61,280.08 496.29,281.78 496.13,281.35 496.55,281.42 496.74,282.31 497.32,283.58 497.24,284.23 497.35,285.23 497.24,285.37 496.80,283.41 497.15,283.24 496.80,282.27 495.82,282.47 495.97,282.63 496.42,281.31 495.32,281.20 495.98,280.75 496.46,281.20 496.19,279.16 495.02,280.07 494.76,280.21 495.26,279.33 494.00,278.63 494.64,277.80 495.62,277.01 495.62,275.80 495.56,274.58 494.89,274.36 494.89,274.56 495.87,272.95 495.61,272.01 495.13,270.84 494.77,271.60 494.90,270.95 494.85,270.99 495.42,270.92 494.96,269.98 495.76,270.05 495.70,269.97 495.27,270.18 496.35,271.39 495.66,272.27 495.48,270.30 496.08,270.83 497.85,271.63 498.00,271.28 497.10,271.60 497.91,272.21 499.05,272.67 499.35,272.12 499.73,272.09 500.21,273.71 500.48,271.95 501.59,271.99 502.53,272.29 502.07,272.74 501.66,273.07 500.28,272.59 499.75,272.61 499.60,273.24 499.23,273.67 499.29,272.17 498.48,271.00 498.51,270.70 498.16,270.79 497.32,269.77 496.88,268.96 497.22,268.97 496.33,269.64 496.04,268.43 495.25,266.96 495.01,267.68 494.50,265.98 495.05,266.79 495.65,267.00 496.94,267.07 496.87,267.16 497.39,266.50 497.28,265.40 496.95,265.40 496.89,264.94 498.16,265.02 498.92,264.35 499.23,262.72 498.36,263.29 499.32,263.07" fill="none" stroke="#0072BD" stroke-width="0.45" stroke-linejoin="round" />
<polyline points="525.61,279.85 525.27,276.54 524.93,276.32 525.31,276.33 524.75,275.24 525.06,276.81 524.96,276.25 523.98,275.70 524.21,275.59 524.02,275.07 524.23,274.39 524.65,273.96 524.30,274.69 524.62,273.54 524.73,273.76 524.15,272.30 524.20,271.23 525.00,271.51 524.87,271.94 525.30,271.42 525.51,271.50 525.24,270.99 525.90,271.14 525.10,272.76 524.82,273.17 524.53,271.75 524.90,271.52 524.44,272.77 523.71,273.55 523.63,273.33 522.85,276.00 522.91,276.07 522.92,276.52 522.60,276.63 522.97,278.19 522.96,278.86 523.22,279.03 523.49,279.63 523.70,279.19 523.54,278.10 524.88,278.46 525.72,278.04 525.72,279.20 526.24,279.78 526.61,277.55 525.95,276.97 525.58,276.26 524.58,275.71 524.19,275.35 524.50,274.40 524.94,273.89 524.44,272.86 524.81,272.87 524.77,274.11 524.58,273.34 524.29,272.67 524.85,273.53 524.06,271.48 525.11,271.07" fill="none" stroke="#D95319" stroke-width="0.45" stroke-linejoin="round" />
<polyline points="525.75,275.88 525.59,274.66 525.81,276.25 526.46,277.26 525.85,278.47 525.73,277.38 525.75,278.68 526.07,279.14 525.44,278.65 525.76,279.15 526.78,279.68 526.82,279.86 526.99,281.14 527.31,279.27 526.55,280.47 527.08,282.65 528.63,284.11 528.38,285.35 528.64,284.34 529.44,285.02 529.71,284.37 529.65,284.86 529.38,286.82 530.42,286.14 529.74,285.76 529.16,285.23 529.48,287.26 530.37,287.72 530.28,288.44 529.66,287.63 530.13,288.33 530.65,289.43 531.28,288.64 531.38,286.80 531.00,286.38 531.13,286.50 531.15,285.79 530.50,284.43 530.28,285.28 530.02,284.70 530.50,284.45 531.16,284.57 531.21,284.01 531.35,283.64 531.69,281.90 531.75,280.86 532.15,282.89 532.01,280.94 532.08,279.92 532.04,279.75 531.82,278.65 532.13,278.03 531.09,279.52 531.10,279.73 531.38,278.20 530.30,277.22 529.52,277.77 529.36,276.64 529.54,277.24 531.07,278.33 529.93,277.30 530.45,275.82 531.32,274.24 531.66,273.77 530.87,273.89 531.51,272.51 531.17,272.49 531.15,270.29 531.37,269.93 531.31,270.08 531.92,269.69 533.03,270.22 532.35,271.08 534.14,271.12 533.49,271.91 533.16,273.63 531.72,274.03 532.46,274.59 532.08,276.18 532.91,276.56 532.78,277.40 532.68,277.59 533.16,277.46 533.12,277.55 532.28,277.30 532.07,277.63 532.23,278.26 532.08,278.82 531.55,279.74 530.70,281.26 531.36,281.17 531.26,281.55 530.38,282.27 529.82,283.20 530.03,283.66 529.66,283.79 528.71,282.85 527.77,282.53 528.31,282.55 527.79,282.82 527.48,283.31 526.66,282.55 526.41,284.02 525.63,285.24 525.87,284.40 525.97,284.04 526.17,283.07 525.69,282.10 526.45,282.51 526.39,281.13 526.07,281.31 527.39,279.73 527.78,278.88 527.41,278.79 527.30,279.57 528.06,278.15 527.68,277.49 528.27,276.30 529.33,274.53 528.77,274.83 528.52,275.06 528.49,275.63 529.38,276.45 529.75,274.58 529.39,273.25 529.58,272.66 529.92,272.18 529.88,271.21 529.88,271.12 529.58,271.09 529.99,271.45 530.72,270.43 531.25,269.85 530.84,269.53 530.95,268.54 531.41,268.92 531.43,268.94 531.65,266.34 531.32,265.03 532.02,265.18 532.67,265.31 533.61,263.26 533.74,262.62 534.05,263.30 532.65,263.44 533.47,262.85 533.91,261.96 534.15,261.03 533.07,261.59 532.14,263.47 533.04,263.53 532.49,265.14 532.82,266.39 533.12,266.45 532.63,267.11 532.80,268.79 531.86,268.77 531.20,269.87 530.81,270.14 531.72,268.50 532.13,267.78 532.55,269.46 532.29,270.82 531.39,271.15 531.36,273.21 530.11,273.01 531.06,273.55 530.91,273.38 531.32,273.91 530.83,274.96 531.73,273.96 531.01,274.36 531.31,274.63 530.83,275.95 530.24,276.64 530.96,276.40 530.22,276.84 530.27,277.63 530.15,279.55 530.31,280.23 529.86,279.55 529.27,281.15 529.26,281.47 529.30,282.18 529.17,282.09 530.14,283.81 529.13,282.84" fill="none" stroke="#EDB120" stroke-width="0.45" stroke-linejoin="round" />
</g>
<rect x="478.8" y="226.3" width="89.99999999999994" height="79.09999999999997" fill="none" stroke="#444" stroke-width="0.9"/>
<line x1="478.80" y1="226.30" x2="480.40" y2="226.30" stroke="#333" stroke-width="0.7" />
<text x="477.00" y="228.80" font-size="6.4" text-anchor="end" fill="#222" font-family="Liberation Sans, sans-serif" >1.2</text>
<line x1="478.80" y1="242.12" x2="480.40" y2="242.12" stroke="#333" stroke-width="0.7" />
<text x="477.00" y="244.62" font-size="6.4" text-anchor="end" fill="#222" font-family="Liberation Sans, sans-serif" >0.8</text>
<line x1="478.80" y1="257.94" x2="480.40" y2="257.94" stroke="#333" stroke-width="0.7" />
<text x="477.00" y="260.44" font-size="6.4" text-anchor="end" fill="#222" font-family="Liberation Sans, sans-serif" >0.4</text>
<line x1="478.80" y1="273.76" x2="480.40" y2="273.76" stroke="#333" stroke-width="0.7" />
<text x="477.00" y="276.26" font-size="6.4" text-anchor="end" fill="#222" font-family="Liberation Sans, sans-serif" >0</text>
<line x1="478.80" y1="289.58" x2="480.40" y2="289.58" stroke="#333" stroke-width="0.7" />
<text x="477.00" y="292.08" font-size="6.4" text-anchor="end" fill="#222" font-family="Liberation Sans, sans-serif" >-0.4</text>
<line x1="478.80" y1="305.40" x2="480.40" y2="305.40" stroke="#333" stroke-width="0.7" />
<text x="477.00" y="307.90" font-size="6.4" text-anchor="end" fill="#222" font-family="Liberation Sans, sans-serif" >-0.8</text>
<line x1="478.80" y1="305.40" x2="478.80" y2="303.80" stroke="#333" stroke-width="0.7" />
<text x="478.80" y="313.40" font-size="6.4" text-anchor="middle" fill="#222" font-family="Liberation Sans, sans-serif" >-0.13</text>
<line x1="497.30" y1="305.40" x2="497.30" y2="303.80" stroke="#333" stroke-width="0.7" />
<text x="497.30" y="313.40" font-size="6.4" text-anchor="middle" fill="#222" font-family="Liberation Sans, sans-serif" >0</text>
<line x1="515.70" y1="305.40" x2="515.70" y2="303.80" stroke="#333" stroke-width="0.7" />
<text x="515.70" y="313.40" font-size="6.4" text-anchor="middle" fill="#222" font-family="Liberation Sans, sans-serif" >0.13</text>
<line x1="532.90" y1="305.40" x2="532.90" y2="303.80" stroke="#333" stroke-width="0.7" />
<text x="532.90" y="313.40" font-size="6.4" text-anchor="middle" fill="#222" font-family="Liberation Sans, sans-serif" >0.26</text>
<line x1="550.80" y1="305.40" x2="550.80" y2="303.80" stroke="#333" stroke-width="0.7" />
<text x="550.80" y="313.40" font-size="6.4" text-anchor="middle" fill="#222" font-family="Liberation Sans, sans-serif" >0.39</text>
<line x1="568.80" y1="305.40" x2="568.80" y2="303.80" stroke="#333" stroke-width="0.7" />
<text x="568.80" y="313.40" font-size="6.4" text-anchor="middle" fill="#222" font-family="Liberation Sans, sans-serif" >0.52</text>
<text x="566.60" y="234.80" font-size="7.8" text-anchor="end" fill="#222" font-family="Liberation Sans, sans-serif" >1 Hz</text>
<clipPath id="cp5"><rect x="587.2" y="226.3" width="91.19999999999993" height="79.09999999999997"/></clipPath>
<g clip-path="url(#cp5)">
<polyline points="602.39,289.90 601.86,289.86 601.92,289.06 602.09,288.46 601.17,287.97 601.96,288.23 601.59,288.52 601.90,287.86 601.47,287.65 601.82,287.39 602.25,286.13 602.56,285.29 602.11,285.46 602.07,284.91 602.11,282.42 602.81,282.07 602.96,281.34 601.21,281.80 601.14,281.36 600.42,280.25 600.99,279.07 601.27,278.52 601.15,277.58 602.61,278.71 602.79,277.05 602.28,278.69 601.95,278.14 602.56,276.53 602.19,277.17 602.46,278.04 601.66,278.15 601.06,277.04 601.29,275.82 601.78,274.73 601.57,273.97 601.21,273.17 601.32,273.25 601.32,273.17 600.84,271.38 601.46,270.64 602.08,270.48 601.41,269.75 601.22,269.24 600.88,269.32 601.49,267.41 601.46,266.64 601.47,265.15 600.59,264.66 600.90,263.77 600.15,265.30 600.43,262.42 599.96,262.68 600.08,261.72 600.07,260.78 600.39,261.52 601.37,259.91 601.18,260.78 602.39,259.84 603.44,259.01 603.10,259.86 603.68,257.56 603.62,257.41 602.79,258.28 602.72,257.90 601.85,256.95 601.62,256.30 602.02,255.73 602.01,253.29 602.94,252.69 602.35,254.07 602.85,253.68 603.53,252.38 603.34,252.71 604.19,253.95 602.75,251.78 602.70,251.70 603.21,250.61 603.69,249.43 604.70,248.15 604.93,246.36 605.25,247.04 604.50,246.32 605.82,246.57 606.03,247.28 605.83,246.80 606.76,245.40 606.77,245.23 607.36,242.98 607.60,243.34 607.35,242.61 607.80,241.01 607.84,241.20 608.09,240.41 607.89,240.51 608.21,240.65 608.11,240.24 609.26,239.72 609.33,238.92 609.27,240.25 608.90,242.19 608.23,242.73 609.51,243.27 609.69,244.56 610.46,243.77 608.62,243.47 609.41,244.94 610.23,246.32 610.31,244.75 610.92,246.61 610.77,246.69 611.55,247.36 611.48,247.82 610.75,248.41 609.95,249.44 609.66,249.88 610.36,248.51 610.55,250.03 610.69,251.02 610.41,253.74 610.82,254.15 612.03,253.42 611.24,254.64 612.49,253.81 612.69,253.09 613.30,254.85 612.80,255.58 613.26,255.36 614.76,255.95 614.10,257.64 614.27,257.17 614.79,256.33 614.96,256.88 614.62,256.65 615.75,258.97 614.50,258.39 613.13,260.14 613.62,260.15 614.20,259.15 613.36,260.85 613.33,261.55 614.15,263.45 613.06,262.56 612.63,264.54 612.75,265.65 612.61,265.83 612.78,265.91 612.08,265.46 611.60,263.89 610.87,264.24 611.00,266.62 611.44,267.73 611.00,267.19 611.48,269.05 610.40,269.34 610.24,268.37 609.80,269.39 609.12,269.69 609.44,271.65 609.38,271.18 609.38,271.84 609.29,273.55 608.71,273.36 609.49,273.93 608.79,275.35 608.21,275.47 608.01,274.41 607.62,276.46 607.25,276.25 607.23,275.71 606.75,275.64 606.14,276.47 606.59,278.52 606.23,278.57 605.64,280.25 604.95,281.38 605.59,281.81 604.65,282.80 604.46,283.06 605.43,283.05 604.63,283.34 605.08,284.77 604.57,283.80 603.82,283.35 604.26,282.79 603.80,283.24 603.69,286.64 604.09,285.25 604.62,285.76 606.21,285.56 605.80,284.02 605.41,284.70 606.02,284.34 606.69,282.77 606.21,282.64 608.38,282.51 609.04,283.65 608.91,283.22 609.47,281.83 610.14,280.51 609.51,279.55 610.36,279.86 610.25,281.56 610.54,281.19 610.19,281.77 609.38,283.21 609.41,283.23 609.06,282.84 609.03,285.13 607.88,284.03 607.22,284.70 607.37,283.26 607.77,284.61 606.43,284.93 606.04,286.12 605.99,286.88 606.54,287.78 606.84,287.45 606.00,289.06 603.72,288.30 603.44,289.21 604.11,287.86 605.52,288.40 606.12,286.26 606.58,285.91 606.54,286.48 608.31,285.86 607.65,284.87 608.36,284.85 607.86,284.69 608.91,284.85 609.18,284.83 610.21,285.32 610.76,284.54 611.29,284.71 612.00,282.50 612.17,282.35 611.81,281.71 611.51,282.36 611.72,283.66 613.06,283.79 613.08,282.51 612.61,281.75 611.63,281.01 612.24,279.26 611.30,278.97 610.58,278.02 610.29,277.75 610.08,278.11 610.22,278.64 609.80,277.72 608.66,276.16 609.34,275.73 609.90,275.12 610.14,274.27 608.39,274.45 608.12,273.88 608.10,275.14 606.99,275.11 605.93,277.81 606.23,276.71 605.56,276.55 605.74,275.93 605.35,274.75 604.13,275.72 604.29,275.40 604.24,274.97 602.56,276.81 601.51,276.74 601.35,276.35 600.51,276.99 601.39,277.36 601.66,277.65 602.61,277.76 603.14,276.72 603.50,274.72 603.22,274.02 603.05,274.59 604.31,274.05 604.69,275.34 605.35,275.04 605.61,275.43 605.93,274.55 606.84,273.04 606.73,273.14 606.63,274.16 606.83,273.78 607.93,272.56 608.16,272.47 607.65,272.75 609.13,271.30 609.86,270.03 609.45,269.47 610.24,269.94 610.72,269.73 611.53,271.04 610.81,271.91 611.13,272.88 612.59,273.10 612.68,273.15 613.42,272.87 612.27,273.16 611.98,273.43 611.61,273.70 611.40,273.03 610.59,272.68 610.90,273.25 609.98,274.12 608.77,273.11 607.68,272.63 607.40,272.29 607.44,271.16 607.70,269.73 606.83,269.53 607.07,268.35 607.55,267.80 606.63,267.50 605.60,265.76 605.35,267.23 604.92,270.04 605.28,270.43 604.71,272.00 604.49,271.24 605.73,273.05 607.30,273.88 607.76,274.36 608.52,274.03 608.20,273.79 608.49,274.47 609.07,272.88 608.88,275.38 608.46,275.35 609.14,275.60 608.60,276.36 609.60,277.21 610.37,278.72 610.63,277.59 610.00,278.43 610.17,279.83 610.17,279.02 609.72,279.97 610.53,280.91 611.69,279.57 612.31,279.68 612.93,281.32 613.01,282.70 613.09,283.55 613.52,285.59 614.31,285.41 613.79,285.53 614.61,283.74 615.81,285.12 614.91,285.97 615.44,287.12 616.39,287.54 616.48,286.74 616.45,285.96 616.05,285.06 614.70,284.89 614.51,286.12 613.84,285.13 614.20,283.85 613.95,283.56 613.39,284.20 612.73,284.09 612.85,284.90 611.71,284.95 611.26,283.01 611.03,281.48 610.72,281.10 610.03,282.48 609.82,280.71 610.29,282.25 608.67,280.23 607.90,279.40 607.80,279.80 607.43,279.33 606.15,278.66 605.22,277.64 605.69,279.14 605.47,277.97 604.26,277.55 604.57,276.06 603.38,276.59 602.82,276.08 601.38,276.72 601.35,275.87 601.25,276.58 602.40,275.85 602.79,274.50 602.85,274.98 603.96,274.99 605.20,273.07 605.09,272.79 605.26,271.89 605.63,272.57 606.19,272.30 606.19,273.57 606.39,273.46 606.88,271.51 607.56,273.25 607.36,271.48 608.48,270.15 609.21,269.68 609.09,270.46 609.08,271.93 609.50,272.34 610.03,273.21 609.72,271.55 610.17,272.22 610.59,272.81 610.80,274.17 611.43,273.61 612.21,273.84 613.00,275.18 613.39,274.77 613.68,276.27 613.91,276.66 614.01,277.24 613.62,276.37 615.28,277.58" fill="none" stroke="#0072BD" stroke-width="0.5" stroke-linejoin="round" />
<polyline points="628.84,260.40 628.80,262.83 628.33,263.55 628.09,262.60 628.49,262.69 627.98,263.36 627.64,263.18 626.52,264.22 625.21,265.10 625.20,265.86 625.58,266.09 626.10,267.06 626.26,267.71 626.32,268.86 626.58,268.76 626.91,267.65 624.82,268.37 625.06,270.62 625.29,269.92 625.19,269.63 624.80,269.71 624.24,270.38 624.16,269.36 622.66,271.15 622.68,270.95 622.00,274.07 620.81,275.03 620.78,276.57 621.16,275.55 620.61,275.01 620.82,272.77 619.63,274.30 619.46,275.41 618.97,274.54 620.18,276.74 620.22,276.52 619.81,276.27 618.32,277.19 618.14,277.50 617.42,277.67 617.22,276.71 616.46,278.15 616.30,278.16 616.35,277.10 616.18,278.76 615.89,278.15 616.16,276.08 615.37,276.18 615.18,279.29 615.45,279.52 614.50,280.04 614.62,282.10 615.71,281.91 615.96,279.19 616.12,279.45 615.49,278.25 616.00,277.83 615.64,277.55 615.69,277.24 615.22,277.84 615.18,276.78 614.18,277.01 614.17,275.89 614.32,275.20 615.23,275.29 615.32,275.80 615.62,275.12 615.28,272.63 616.06,273.74 615.95,271.53 615.60,271.25 615.63,271.22 616.39,269.46 617.16,270.33 616.83,272.17 616.32,269.97 615.45,269.25 615.03,268.67 615.56,267.75 615.03,268.98 615.29,266.95 616.68,266.44 616.22,266.80 616.36,266.51 616.87,265.42 616.87,264.34 617.08,262.48 616.55,261.79 616.62,262.34 615.67,261.05 615.35,261.18 615.94,262.08 616.97,259.48 616.54,260.54 617.43,259.86 617.97,260.98 618.51,261.15 618.82,261.02 619.07,261.19 620.26,262.67 620.00,261.94 619.75,264.13 620.39,264.24 620.93,264.88 621.86,265.31 622.16,265.14 622.73,265.83 623.02,266.58 624.20,265.26 624.55,265.64 624.77,267.03 624.74,266.31 625.63,267.71 625.58,266.61 625.92,266.54 626.18,265.12 627.03,264.97 627.51,266.07 627.68,267.25 628.22,266.09 628.25,265.31 629.09,264.02 629.02,264.64 629.08,263.92 628.90,265.90 628.01,265.80 628.44,266.31 628.26,267.45 628.45,268.00 628.28,269.00 627.43,268.00 627.43,268.61 627.04,269.77 627.39,270.07 627.53,271.47 628.63,272.19 628.24,273.46 627.74,272.35 626.56,271.79 626.81,271.95 626.77,273.63 625.94,274.05 625.46,273.69 625.84,274.21 625.52,275.91 624.76,275.73 624.24,276.28 624.59,277.31 625.18,278.58 625.06,277.23 624.52,276.51 624.09,278.12 623.14,277.54 623.56,278.82 622.21,280.32 622.96,280.52 624.79,281.14 625.47,280.34 624.91,280.12 623.93,278.97 623.85,278.17 624.51,278.54 624.53,276.54 624.89,275.92 624.91,275.99 625.04,275.48 624.63,274.49 625.41,274.30 625.02,272.76 625.60,273.02 625.28,272.80 625.66,272.49 625.41,273.19 625.59,272.41 624.96,271.14 624.96,269.58 624.31,270.92 624.22,269.33 623.72,269.21 624.35,268.04 624.12,270.44 623.84,267.34 623.92,266.80 625.19,265.76 624.20,263.59 624.94,263.20 625.21,265.54 626.25,264.28 625.60,264.18 625.46,263.71 625.93,262.83 625.57,261.75 625.68,260.13 624.62,261.98 625.69,262.22 625.44,260.53 624.74,259.43 624.67,258.98 626.01,257.95 625.96,259.50 626.23,260.52 626.53,260.73 626.72,261.28 626.68,263.03 626.44,263.15 626.36,265.51 626.06,264.77 625.78,264.59 626.65,265.97 626.59,265.05 626.32,266.01 627.01,266.79 626.74,266.67 627.32,267.58 625.78,266.96 626.42,268.88 626.61,268.65 626.88,268.25 627.47,268.67 627.93,268.74 627.28,271.43 626.86,271.05 626.98,270.18 627.06,269.98 627.26,272.24 627.17,271.59 627.56,272.40 626.73,272.43 625.79,272.73 625.77,271.48 625.93,270.63 625.27,269.46 625.55,267.52 624.46,268.42 625.04,268.41 625.09,268.87 624.00,267.87 623.40,266.38 623.86,265.98 622.61,268.04 622.33,267.24 622.47,267.95 622.27,266.59 621.30,267.29 620.44,264.57 620.37,263.81 620.43,263.73 619.13,263.18 618.75,263.60 618.97,264.38 618.25,264.63 619.69,263.68 619.04,263.79 620.05,264.20 620.39,264.79 620.42,264.88 620.14,263.86 621.31,264.98 620.83,264.33 620.82,265.63 621.29,266.92 622.06,266.02 623.40,267.18 623.64,268.35 623.26,268.83 623.59,269.70 622.93,269.08 623.68,269.08 623.93,268.56 624.70,270.09 625.31,270.75 625.99,272.44 626.00,272.45 627.46,272.67 628.13,272.25 626.83,271.59 627.40,271.77 627.04,273.78 627.30,275.02 627.75,275.50 627.75,276.22 628.62,274.79 629.00,273.11 629.47,274.44 629.59,273.31 629.79,272.88 629.38,272.15 629.60,272.11 630.50,272.97 630.25,273.45 629.83,272.96 630.21,272.84 630.00,272.33 629.38,271.59" fill="none" stroke="#D95319" stroke-width="0.5" stroke-linejoin="round" />
<polyline points="638.39,287.98 637.93,288.79 638.13,287.25 639.16,285.47 639.72,285.70 639.14,285.56 638.62,286.20 639.00,285.70 638.71,284.10 639.18,282.71 638.86,282.33 639.44,282.60 639.41,283.01 639.66,281.36 639.00,281.03 639.12,280.98 639.77,279.84 639.37,279.62 640.43,278.63 639.26,278.11 637.85,277.31 638.12,278.63 637.60,277.67 638.05,276.82 638.16,276.54 638.81,277.38 640.00,276.54 638.94,276.35 638.50,275.09 638.49,274.71 638.45,273.77 638.09,272.61 637.95,270.98 638.88,268.93 638.38,270.56 638.49,269.44 637.74,268.46 638.60,267.35 637.88,267.66 637.52,268.52 637.97,267.93 637.78,266.07 637.92,266.16 637.95,267.91 638.16,265.43 639.30,264.38 639.50,264.34 638.73,262.50 638.36,262.78 637.74,261.79 637.85,262.02 638.16,262.34 637.21,262.03 637.91,262.13 638.13,261.75 638.51,261.86 638.62,258.60 639.68,257.40 638.18,257.37 638.07,258.72 638.38,257.43 638.43,257.70 637.73,256.16 637.57,256.19 637.51,255.74 638.09,253.60 638.53,254.31 638.70,253.55 638.96,252.73 638.18,252.65 637.51,254.53 637.17,255.61 637.65,257.19 637.31,258.10 637.82,257.77 636.61,258.19 637.70,258.94 636.68,259.63 636.77,261.20 635.71,260.72 634.25,261.50 635.26,261.44 636.59,262.92 635.90,264.47 636.41,263.92 634.60,264.12 634.63,265.26 634.97,264.85 635.62,265.62 634.92,265.42 634.26,266.01 633.15,266.98 632.71,266.55 631.99,266.98 632.94,267.74 632.46,266.81 631.33,266.67 631.84,266.60 633.08,264.74 632.15,263.08 631.78,263.46 631.73,264.15 631.64,264.23 632.01,264.49 632.43,263.69 632.17,261.91 632.72,260.65 633.16,261.34 632.49,259.35 632.25,257.11 632.24,258.98 632.19,259.22 632.27,258.22 632.52,258.63 632.42,258.28 632.75,258.70 631.13,257.70 631.39,257.57 630.83,257.59 631.31,256.06 630.75,256.67 630.53,257.11 630.77,257.64 629.70,257.74 630.10,259.37 629.23,258.93 630.72,259.53 631.15,259.69 630.25,260.20 630.38,260.69 629.52,260.71 629.80,260.75 629.07,260.10 628.48,262.44 627.93,263.76 628.42,264.23 628.80,264.35 627.06,265.18 626.29,265.55 626.26,264.57 627.39,266.22 626.57,267.70 627.21,268.32 626.85,269.20 626.84,268.01 627.89,268.33 627.79,267.74 626.97,268.43 627.73,267.77 626.72,266.73 626.58,265.20 627.17,267.60 626.47,267.84 625.96,266.48 626.23,266.80 626.50,265.42 625.79,264.75 624.84,263.31 625.33,262.70 625.63,261.58 625.84,261.26 625.81,260.84 626.21,259.66 624.98,260.04 624.24,259.82 624.29,258.71 624.40,259.41 624.22,257.80 624.48,254.59 624.68,256.10 624.09,256.48 623.00,255.32 623.67,255.53 623.35,254.92 622.82,255.56 622.21,253.52 622.72,254.94 623.46,255.03 623.66,256.14 624.40,254.92 624.88,255.08 624.92,255.59 625.84,259.40 626.47,260.00 627.48,259.53 627.20,257.77 627.19,257.66 627.20,257.18 627.58,256.97 627.58,257.56 629.49,258.13 630.03,260.39 629.19,259.89 629.25,261.36 629.25,261.85 630.37,262.63 631.34,261.88 631.73,262.43 632.32,262.45 632.75,262.24 632.73,261.56 633.15,262.16 633.92,263.50 633.71,264.97 633.95,264.82 633.95,264.55 634.25,264.79 634.84,266.68 634.51,268.04 633.19,266.92 634.45,266.84 634.67,266.89 634.91,267.12 634.20,266.44 634.93,267.54 633.77,268.21 634.31,271.02 634.59,270.12 634.30,269.29 633.98,270.68 633.24,271.52 633.88,272.22 633.59,271.93 632.56,273.95 632.20,274.91 632.60,276.38 632.29,276.78 632.78,276.21 633.89,276.45 633.42,275.97 633.07,275.63 632.79,275.08 631.58,277.44 632.01,277.69 632.20,279.24 631.88,279.98 632.26,278.04 632.19,279.34 631.98,279.33 632.22,277.66 630.94,277.33 630.40,276.73 630.06,275.77 630.32,275.34 630.53,274.96 629.87,273.93 629.89,272.08 630.04,272.32 630.61,273.23 629.69,272.46 629.36,272.01 629.17,270.60 628.78,269.80 630.83,270.51 630.64,270.28 630.79,269.89 629.89,269.08 630.31,269.35 630.97,267.99 630.94,265.96 631.09,266.07 629.48,265.77 630.25,266.28 629.19,265.69 629.22,264.43 629.94,263.43 629.76,263.48 630.15,262.16 630.32,262.67 630.42,262.19 629.18,264.40 628.97,263.25 629.68,263.20 630.53,262.73 630.29,263.19 630.33,261.67 629.27,261.20 629.61,258.84 630.29,259.03 630.30,257.92 628.71,257.05 628.86,256.40 628.83,256.41 629.89,256.59 630.03,255.70 629.18,254.59 628.60,254.44 629.60,253.34 629.21,252.08 629.94,252.06 629.34,252.37 629.55,253.69 629.83,253.82 630.51,254.54 630.52,256.19 629.91,256.29 629.53,258.55 630.55,260.03 630.44,259.09 629.79,259.60 629.94,259.94 631.81,259.24 632.19,260.10 631.63,261.96 632.04,262.36 632.21,260.39 632.57,260.13 632.43,261.18 632.94,265.86 632.62,265.03 633.83,265.65 633.36,264.08 634.12,265.10 633.56,266.67 633.88,267.41 632.72,267.31 633.14,264.84 633.58,265.49 633.52,265.77 634.02,267.60 635.01,267.80 634.90,269.38 635.34,270.43 635.04,270.32 633.72,269.49 634.76,269.84 635.25,270.68 636.04,271.62 635.78,272.42 635.79,271.77 634.61,272.65 634.98,273.63 634.44,274.75 634.19,274.02 634.08,274.46 634.15,274.91 634.10,274.12 635.53,274.77 636.06,272.52 635.39,273.41 635.00,272.00 635.71,270.83 636.60,272.42 637.20,271.37 637.43,270.11 638.20,270.39 638.05,270.25 638.87,268.09 639.70,268.87 637.84,267.73 638.21,267.64 638.48,267.16 638.15,264.47 638.33,267.08 638.66,268.19 639.15,268.22 638.67,268.67 639.48,266.24 639.25,266.56 639.21,267.12 637.82,265.63 637.22,264.64 635.69,264.75 634.89,262.49 635.31,263.85 636.62,266.71 635.87,267.15 636.38,267.61 635.48,267.81 635.20,268.02 635.09,268.34 634.72,270.45 635.29,271.06 634.61,269.34 633.48,268.63 634.04,270.08 633.90,272.33 634.47,270.99 634.48,272.69 635.20,273.84 634.83,274.51 635.35,275.04 634.69,274.66 634.52,276.82 634.53,277.99 634.18,278.20 633.93,278.42 633.88,278.18 633.38,276.30 632.69,277.22 632.48,276.28 632.15,275.85 632.71,274.94 632.10,274.00 632.69,272.72 632.00,270.80 632.27,271.45 631.88,270.68 631.75,270.22 630.76,269.58 630.21,270.19 630.57,269.31 631.72,268.87 631.73,269.96 631.91,268.79 631.26,268.47 630.98,267.47 630.43,268.04 630.10,266.45 630.62,265.94 629.81,265.03 630.04,264.99 630.17,264.20 629.83,263.79 630.04,264.81 629.76,263.58 631.39,261.89 629.68,261.49 629.41,261.51 629.38,262.28 629.43,258.34 629.68,258.65 630.41,257.26 630.45,257.48 629.97,258.07 629.06,257.58 629.04,257.01 629.60,255.29 629.49,254.76 628.48,253.41 629.47,254.10 628.22,253.77 628.30,254.99 627.84,257.35 628.58,257.71 628.60,256.84 628.23,258.10 627.52,257.11 627.13,258.27 627.61,258.96 629.08,261.23 628.88,259.70 628.46,259.56 629.21,259.93 629.27,260.35 629.46,260.91 629.19,261.62 628.73,262.50 628.38,264.08 628.19,263.61 627.52,263.33 628.07,262.63 628.64,263.68 627.82,263.78 627.27,264.22 627.47,264.66 628.12,265.19 627.76,265.46 627.83,266.52 627.39,266.54 629.25,268.98 629.40,270.02 628.37,272.05 628.17,270.50 628.09,269.10 627.81,268.97 627.55,269.00 626.58,269.84 627.69,272.05 627.75,272.04 627.48,273.21 629.41,274.07 630.29,275.46 629.33,275.44 630.36,276.44 630.73,276.47 629.97,276.90 629.43,277.39 629.68,277.15 629.86,278.42 630.12,278.51 629.80,279.79 628.94,279.24 628.97,280.71 629.13,281.59 628.09,283.08 628.02,282.46 629.11,282.83 628.75,283.59 628.75,283.52 629.63,283.30 628.93,283.74 628.32,284.62 629.48,285.76 628.83,286.56 629.01,286.04 628.73,286.70 629.53,287.07 629.70,286.87 629.57,288.22 630.05,288.22 630.26,288.92 629.33,289.20 629.42,290.04 630.05,289.60 628.98,291.43 629.89,290.92 631.03,291.96 630.05,293.37 630.22,293.01 630.14,292.16 629.56,293.66 629.99,294.97 630.49,296.70 630.37,297.28 630.12,297.10 630.84,296.85 630.65,297.51 631.18,299.26 630.47,299.12 629.65,299.19 629.91,299.09 630.37,297.76 630.50,298.07 630.15,298.44 630.49,296.14 630.84,296.48 631.10,295.06 630.58,294.44 629.25,294.18 630.19,294.20 630.63,294.57 631.30,292.09 631.69,291.69 632.04,291.50 632.11,291.70 632.50,291.29 631.81,291.44 632.09,291.45 632.06,290.53 631.97,290.18 630.95,290.78 631.47,288.99 632.00,288.00" fill="none" stroke="#EDB120" stroke-width="0.5" stroke-linejoin="round" />
<polyline points="650.64,278.89 650.24,279.54 649.72,279.17 649.34,277.79 648.87,278.44 647.18,278.20 646.29,279.51 647.14,277.32 646.33,277.78 645.99,277.60 644.58,279.08 643.87,280.38 643.67,278.84 644.30,281.05 644.00,281.02 643.57,282.35 641.97,282.95 641.95,282.66 642.16,281.41 641.63,281.20 640.64,280.35 641.14,279.02 641.78,279.68 641.01,279.56 642.07,277.98 642.20,276.02 641.83,276.21 642.47,275.85 642.84,275.01 641.95,274.72 642.20,276.30 642.68,276.34 642.61,275.81 641.58,272.64 641.17,272.83 640.82,275.48 640.59,274.28 640.85,274.82 641.02,275.39 640.98,275.19 640.37,273.88 640.91,274.38 640.71,274.42 641.61,275.43 642.88,276.27 643.14,275.11 644.30,274.58 645.41,274.44 646.07,276.27 646.93,277.24 646.61,276.46 646.73,277.03 646.83,276.98 647.80,276.95 648.55,275.76 648.67,276.43 649.24,276.34 649.72,276.40 650.06,275.98 651.73,277.05 651.19,277.69 650.39,279.67 649.41,278.21 649.18,278.11 648.24,277.43 647.48,276.89 646.60,277.75 646.19,278.82 646.33,279.44 646.10,278.81 646.55,279.57 646.59,278.29 646.62,276.61 646.97,276.43 647.48,277.82 646.90,275.36 646.65,277.39 646.32,277.27 647.79,276.24 647.67,275.97 648.28,274.67 647.99,273.03 648.46,270.88 648.70,271.79 649.07,272.93 649.16,272.71 649.80,272.09 649.89,270.07 649.53,269.93 651.78,269.95 651.80,269.49 651.53,270.04 651.65,268.79 651.26,268.95 652.41,268.12 652.12,269.53 653.30,267.60 652.62,266.70 652.86,266.25 653.58,264.61 653.33,263.79 654.13,265.58 653.92,263.22 654.39,262.74 653.96,261.69 654.04,260.68 653.26,259.56 653.55,260.58 654.90,260.01 654.62,260.04 654.41,260.57 654.05,261.22 654.08,261.31 653.44,262.78 653.82,261.72 653.45,262.48 653.02,262.19 653.06,263.35 652.66,264.14 654.63,265.61 654.25,265.46 654.23,265.90 654.83,267.24 653.53,265.56 653.34,266.77 653.03,268.50 652.29,268.38 651.87,269.47 652.26,269.01 651.98,271.04 651.53,271.76 651.40,273.56 650.93,270.96 650.66,272.17 649.49,272.09 649.10,272.30 649.19,274.88 649.24,275.17 649.16,274.56 649.96,273.78 649.79,275.12 649.54,277.24 648.55,276.86 648.88,277.28 648.43,279.72 648.14,280.79 647.36,279.45 647.71,278.33 647.36,279.58 648.01,281.24 648.22,282.47 646.46,282.53 646.55,282.37 646.23,280.99 647.09,280.24 647.57,277.96 646.76,277.58 645.86,276.60 647.13,275.04 647.43,275.58 646.92,276.85 647.25,275.78 647.44,276.01 647.99,276.27 649.05,275.61 648.70,275.10 649.11,274.29 649.99,272.16 650.05,271.45 649.48,270.56 650.04,271.67 650.66,269.69 651.20,269.91 650.67,269.99 650.63,269.27 649.90,268.99 649.84,268.88 649.80,268.69 650.08,269.10 648.93,268.89 648.86,268.75 648.67,270.06 649.02,272.03 649.01,274.10 648.46,273.62 648.73,273.87 647.63,273.19 647.44,273.04 647.86,272.89 646.77,274.90 646.72,273.80 646.78,274.16 647.51,274.47 646.72,274.51 646.36,275.87 646.54,276.27 646.27,278.14 645.31,277.96 645.12,277.57 645.52,278.26 644.62,278.57 645.13,278.64 644.60,279.19 643.82,280.38 642.71,280.51 642.77,279.41 642.67,280.01 643.27,280.79 642.36,280.35 642.42,279.73 642.16,280.40 641.53,279.26 642.21,278.99 640.73,277.87 640.98,279.33 640.95,278.23 640.39,277.44 641.77,275.57 641.84,274.09 642.64,274.08 641.42,273.54 641.56,272.21 642.19,272.55 643.35,272.81 643.99,272.87 643.24,273.66 644.32,273.57 644.31,274.74 644.03,272.03 645.05,269.89 645.55,269.27 645.85,268.74 645.82,268.17 646.13,268.86 645.13,268.54 646.17,268.86 647.31,270.51 647.77,268.96 647.97,268.21 648.37,268.12 647.74,267.68 647.30,266.87 647.99,267.14 648.22,267.75 647.98,265.62 648.72,265.81 649.69,264.74 650.70,265.58 650.46,265.07 650.85,264.19 650.91,264.21 650.82,262.61 651.81,261.70 651.65,261.93 652.32,263.05 652.01,260.83 651.08,262.67 650.12,262.73 649.82,263.07 649.28,262.55 648.74,262.75 648.72,263.56 649.05,263.98 647.76,264.89 646.90,264.71 645.15,263.55 644.73,263.25 644.63,263.58 643.71,262.94 643.71,264.49 644.37,265.59 644.58,265.91 645.81,266.25 646.47,266.08 647.08,266.80 648.12,266.33 646.80,265.05 646.89,265.97 647.43,267.50 647.95,267.15 648.20,267.16 648.66,268.80 648.46,268.23 648.56,268.69 649.22,268.89 649.48,269.63 650.08,271.07 650.12,271.22 650.92,272.01 650.84,272.53 650.36,272.31 651.25,272.58 650.03,271.62 649.86,271.35 650.84,271.47 650.57,272.88 651.37,274.93 651.23,275.89 650.40,276.78 650.93,277.18 651.11,277.33 651.43,277.24 652.14,276.90 653.02,277.89 652.92,279.28 653.03,281.27 653.30,280.19" fill="none" stroke="#7E2F8E" stroke-width="0.5" stroke-linejoin="round" />
<polyline points="657.22,284.07 657.94,282.07 658.23,282.56 658.32,280.81 657.32,279.27 657.48,279.60 657.99,280.03 658.61,279.02 658.55,279.04 659.36,278.47 660.23,278.87 660.00,278.04 659.75,277.24 660.11,279.02 660.28,277.80 660.68,277.52 660.95,277.93 661.09,277.07 660.63,275.10 660.43,273.99 661.22,272.75 660.39,273.24 660.21,272.24 661.59,271.86 661.11,269.87 659.94,271.04 660.09,271.40 660.44,270.03 660.91,270.89 661.95,270.70 662.35,268.84 661.21,268.85 662.31,268.05 662.65,267.14 662.54,269.17 662.35,267.26 663.30,268.43 662.43,266.59 662.23,266.89 662.57,265.24 663.60,263.20 664.00,263.34 663.99,264.34 664.11,264.18 664.50,262.78 664.98,263.88 664.57,263.38 664.46,264.94 664.99,265.32 664.68,264.73 664.04,265.39 664.87,266.03 664.41,267.13 665.60,267.89 665.33,266.91 664.14,266.65 664.36,266.65 663.45,267.28 662.92,268.55 663.59,269.51 663.95,269.55 664.76,270.04 664.00,271.07 664.77,272.64 663.50,273.89 663.51,274.32 664.09,275.69 664.32,276.34 664.97,277.04 665.12,276.17 664.04,275.27 664.79,275.33 664.44,276.58 662.89,276.74 662.12,276.63 662.04,278.17 661.15,277.65 661.29,278.91 660.96,277.83 660.41,278.66 660.29,278.32 660.15,278.69 660.33,280.30 658.39,280.70 658.74,282.26 658.19,280.67 657.55,281.50 656.89,281.72 657.79,281.50 657.49,281.33 656.57,282.07 655.83,282.18 655.86,284.62 654.88,283.63 655.21,284.06 654.35,283.66 654.08,283.14 653.09,284.45 653.06,284.91 652.58,284.92 652.99,282.91 653.92,280.99 653.60,280.48 653.53,280.89 653.70,281.10 653.66,279.18 654.24,277.39 655.23,278.78 654.16,279.97 654.12,279.78 654.07,279.74 654.17,280.06 654.21,278.10 654.23,275.17 654.81,274.87 654.33,275.84 654.42,275.64 654.62,276.00 654.71,275.68 654.58,276.64 654.43,275.57 655.21,274.84 654.60,272.38 655.21,272.44 655.20,271.43 655.20,271.33 655.83,269.66 655.41,269.14 656.13,269.29 655.90,269.61 655.96,268.51 654.69,267.89 655.31,267.22 656.11,266.26 656.42,267.39 655.52,266.63 655.75,266.11 655.81,267.61 655.74,268.30 656.69,268.58 657.51,266.88 656.86,267.50 656.25,268.02 656.31,268.69 656.78,269.07 658.32,268.89 657.65,270.54 658.20,271.17 658.12,271.86 658.48,272.95 659.03,271.60 658.39,272.04 659.02,273.19 659.14,273.78 658.72,274.99 658.27,275.92 656.95,275.22 656.27,275.73 655.81,277.32 654.59,276.68 654.73,275.89 654.55,276.43 654.45,277.21 655.29,275.44 655.00,275.98 655.23,277.38 656.52,278.36 658.19,275.50 658.41,276.30 657.41,274.28 658.48,275.07 658.90,274.72 659.25,272.43 660.11,275.08 660.06,273.94 661.40,273.68 660.74,275.13 661.04,275.05 662.10,274.15 661.58,272.74 662.41,272.51 662.04,272.29 662.29,272.58 663.54,271.29 662.75,272.38 663.17,271.58 661.87,273.93 661.76,275.22 663.29,274.03 664.31,275.11 664.30,273.58 664.31,274.77 663.39,273.88 662.82,273.21 663.12,273.71 664.21,272.37 663.56,271.32 662.43,271.63 662.99,272.16 663.21,270.63 663.48,269.74 664.03,269.12 663.87,266.81 662.93,267.16 663.10,267.27 664.48,267.06 664.79,266.33 664.76,266.32 664.77,265.48 663.54,265.12 663.29,264.29 662.72,264.60 663.35,264.36 663.50,262.95 663.07,262.92 663.50,262.28 663.65,263.28 662.77,262.65 662.56,263.35 661.35,262.56 661.34,262.17 661.62,264.61 662.35,265.89 661.80,264.82 660.58,265.72 661.05,265.75 660.90,266.78 660.26,265.96 659.43,265.87 659.04,265.91 658.40,266.48 658.70,264.92 658.70,265.15 658.53,266.63 658.65,266.18 657.73,266.92 656.95,268.84 657.94,269.87 658.30,269.53 657.78,270.91 657.55,271.69 656.68,271.66 656.75,272.47 656.25,272.69 656.07,272.53 656.72,272.97 656.14,274.26 656.69,274.10 656.35,275.98 657.16,276.54 657.89,276.21 656.84,277.77 656.20,280.13 656.51,280.32 655.32,279.18 655.12,279.89 655.36,280.20 654.73,280.71 654.39,281.06 653.83,283.55 654.26,283.34 654.39,283.32 655.07,283.58 654.39,283.41 654.67,283.87 655.29,285.29 654.57,285.85 653.96,286.03 654.29,283.87 654.54,284.83 654.84,282.20 655.33,281.81 653.93,281.30 654.88,280.48 654.50,280.90 655.90,281.82 655.78,280.61 655.79,280.85 655.49,281.46 655.03,279.81 655.56,278.87 656.04,280.76 655.88,279.87 656.60,277.16 656.52,275.96 656.47,276.13 657.34,275.44 657.82,276.44 657.83,277.11 657.43,275.38 657.97,274.44 657.55,276.04 658.13,274.27 657.80,273.15 658.50,271.99 658.24,270.83 658.87,271.29 658.95,269.75 658.65,270.00 659.15,269.51 658.91,269.20 658.85,267.57 659.09,267.42 659.19,267.42 658.73,266.81 659.08,268.33 659.11,266.65 659.16,266.07 658.39,265.79 658.91,265.48 659.19,265.81 659.61,265.08 660.69,263.27 661.63,264.04 660.96,262.61 660.84,260.67 660.80,261.98 660.92,261.34 661.09,259.77 661.56,259.39 661.03,258.91 661.21,259.64 662.03,260.82 662.17,261.93 661.50,262.19 660.63,262.43 661.06,261.89 659.61,262.17 660.94,262.83 660.31,263.12 660.00,263.41 660.56,264.90 660.85,265.47 661.00,265.61 660.33,264.67 659.67,265.81 660.54,266.57 660.40,267.46 661.19,267.21 660.58,268.43" fill="none" stroke="#77AC30" stroke-width="0.5" stroke-linejoin="round" />
<polyline points="616.79,276.29 616.47,275.96 615.74,276.84 615.35,277.23 614.88,277.30 614.98,278.84 613.61,280.30 613.09,278.73 612.99,278.12 612.28,276.91 611.55,276.69 611.90,277.11 611.79,278.12 610.88,279.72 609.82,279.37 609.26,280.42 608.46,281.09 608.24,281.05 607.37,282.12 607.82,282.43 608.38,282.58 607.99,281.63 607.54,281.51 606.61,282.39 607.06,283.57 606.36,284.82 605.46,285.23 604.62,285.38 604.00,285.49 603.96,283.77 602.69,283.44 602.16,283.52 601.20,283.72 599.94,284.91 599.90,284.51 600.72,284.50 601.32,284.78 602.73,286.08 603.54,286.50 604.21,285.39 604.08,285.38 604.69,284.45 604.93,283.72 605.51,283.21 605.68,283.23 606.69,283.94 607.15,284.79 607.36,284.44 607.47,283.55 607.62,284.32 608.25,284.28 609.26,284.32 610.39,283.13 610.72,284.83 611.33,283.99 611.81,284.87 612.60,286.43 612.76,285.97 611.96,285.76 611.30,284.58 610.43,282.71 610.34,284.16 609.56,283.81 608.35,282.69 608.34,282.64 607.58,283.49 607.66,285.00 606.44,283.84 605.85,283.31 605.50,283.40 604.76,283.68 604.80,283.53 603.89,284.15 603.80,282.57 603.06,281.85 602.63,282.39 603.00,282.03 602.21,281.59 602.31,280.59 602.82,282.48 603.25,284.42 604.38,282.04 604.81,280.71 604.43,282.62 604.06,282.86 605.02,283.02 604.91,282.94 605.46,283.34 606.08,285.26 606.86,284.84 606.70,284.46 606.53,284.57 606.93,283.05 606.85,284.43 607.64,284.22 607.94,285.75 608.19,285.02 608.43,283.44 608.70,281.46 608.64,281.60 609.13,280.02 610.00,280.79 609.76,280.37 609.97,278.82 610.87,279.61 611.39,278.79 612.22,278.80 612.38,279.05 612.15,277.92 611.98,277.23 612.11,277.62 611.39,277.50 610.24,277.59 610.51,277.98 609.62,279.26 610.15,279.24 609.72,279.11 608.51,278.94 608.74,280.95 607.97,281.01 607.75,282.02 607.83,281.80 607.52,281.35 606.17,281.06 606.14,280.88 605.52,278.64 604.84,279.59 604.20,281.18 604.37,280.83 603.92,281.50 603.18,281.51 602.48,280.88 602.53,280.25 603.10,279.25 603.56,279.88 603.44,279.45 605.14,279.87 604.91,278.07 605.53,278.24 605.60,279.11 606.01,278.16 607.33,278.48 607.53,278.13 607.77,276.58 608.59,276.10 608.54,275.07 608.84,275.35 608.82,275.82 609.23,275.82 610.23,275.03 611.09,273.95 611.65,275.43 611.78,274.09 612.82,273.51 612.15,274.17 612.37,274.70 613.02,274.81 613.65,272.68 613.13,274.79 613.56,273.56 613.60,274.86 613.33,276.91 613.04,277.38 612.53,277.19 612.44,277.36 612.21,275.73 612.18,277.02 612.01,278.47 611.33,279.89 610.92,279.46 611.65,279.05 612.07,279.38 611.64,280.65 611.28,281.12 610.93,281.61 612.65,281.48 612.57,283.44 612.57,283.83 611.78,284.31 612.00,283.89 611.52,284.43 611.35,285.17 610.84,283.25 611.48,284.92 610.51,284.02 609.43,284.11 609.04,284.04 609.25,284.30 608.89,284.02 608.74,284.46 608.37,284.02 607.39,284.04 606.26,284.40" fill="none" stroke="#0072BD" stroke-width="0.45" stroke-linejoin="round" />
<polyline points="616.71,277.97 616.49,278.76 617.64,276.98 618.62,276.60 619.36,277.23 619.42,275.36 620.11,274.48 619.65,275.05 619.96,274.76 619.80,274.08 620.36,274.30 619.80,273.67 621.16,274.24 621.77,272.95 622.12,273.19 622.60,272.67 622.67,271.94 622.91,269.89 623.53,272.54 623.30,271.51 623.43,270.98 625.02,271.93 624.45,273.38 625.00,271.74 625.90,270.79 626.13,269.18 626.50,268.92 626.98,268.92 627.02,268.37 626.43,268.15 626.62,267.43 625.66,267.53 624.65,266.72 624.19,266.87 623.98,266.07 623.29,265.90 623.46,266.09 623.57,266.24 623.46,266.25 622.31,266.02 621.79,265.37 622.17,266.81 621.71,266.18 621.07,264.73 620.99,264.30 620.78,264.91 619.47,263.39 618.38,262.20 618.84,262.87 618.24,261.70 617.71,262.63 617.03,262.77 616.71,263.17 617.27,263.66 617.66,263.39 617.76,264.85 618.31,264.97 619.34,264.51 620.04,262.93 619.57,263.07 619.65,261.92 620.36,261.08 621.00,261.46 621.44,261.25 622.70,261.36 622.90,260.98 623.02,261.58 624.23,261.94 624.64,261.10 624.63,260.72 625.39,259.90 625.25,261.22 626.05,260.58 625.81,260.13 626.84,261.32 627.52,260.47 628.02,262.03 627.03,261.03 626.61,262.25 626.31,263.11 625.79,262.82 625.92,262.84 625.25,263.72 624.90,262.68 624.87,263.99 624.01,264.06 624.79,264.10 625.08,265.32 624.78,266.80 624.54,268.18 624.40,268.14 624.60,267.50 624.57,268.13 623.32,268.18 622.13,267.99 622.35,267.80 622.39,269.17 622.43,269.25 622.11,270.09 620.71,271.89 620.97,271.33 621.79,271.28 620.34,273.53 619.55,272.89 619.48,273.25 619.99,274.47 619.58,273.71 619.27,274.02 619.46,274.26 619.48,273.81 618.76,274.42 618.44,273.53 618.25,275.50 618.44,276.26 618.11,277.25 618.13,277.18 618.44,278.24 617.56,279.33 617.80,278.69 617.80,277.78 618.23,275.91 618.38,276.54 619.38,275.82 620.71,275.54 620.83,275.54 620.84,275.87 621.07,276.09 622.28,276.01 622.38,275.77 622.95,274.81 622.51,274.44 622.47,273.11 622.36,272.44 623.02,272.52 623.28,271.24 623.14,270.92 623.67,270.32 623.65,269.04 624.45,269.96 623.96,269.73 624.39,269.02 625.59,267.63 624.89,268.01 624.89,267.53" fill="none" stroke="#D95319" stroke-width="0.45" stroke-linejoin="round" />
<polyline points="634.98,260.67 635.43,261.60 635.19,263.13 635.29,263.26 634.66,264.46 634.68,264.45 634.00,264.23 633.85,264.65 634.08,264.81 633.85,264.99 634.07,264.81 634.00,265.63 634.43,266.22 633.60,265.45 634.27,266.36 633.64,266.94 632.79,267.36 631.76,269.16 631.00,269.73 631.83,269.39 632.14,271.04 632.84,270.83 632.73,271.54 631.93,270.47 632.47,271.87 632.35,272.72 631.97,272.53 631.59,273.95 630.97,273.91 631.29,274.59 631.21,276.60 630.94,277.00 629.84,277.27 629.97,276.96 630.67,277.80 630.26,279.38 629.96,278.11 629.71,278.27 629.20,278.08 628.60,277.87 629.61,277.52 629.61,278.17 630.29,279.09 631.05,280.63 630.48,281.90 631.06,281.91 632.15,280.95 632.75,282.74 632.89,280.71 633.25,281.22 633.92,281.41 633.26,282.70 634.83,282.80 634.87,282.44 635.60,282.42 635.87,282.63 635.88,281.04 636.99,279.64 636.29,279.86 636.73,279.58 636.96,280.43 637.29,279.18 636.57,278.14 637.16,278.45 636.21,279.22 635.55,277.92 635.30,278.20 635.69,278.45 635.61,278.85 635.14,279.76 634.94,280.22 633.89,279.57 632.72,279.66 631.77,280.29 631.58,279.11 630.40,278.85 630.18,280.49 629.05,278.99 628.48,278.96 628.85,279.91 627.97,280.56 627.42,279.31 627.00,279.24 625.64,279.12 625.18,279.00 624.19,280.87 624.16,281.56 623.89,283.00 625.17,281.64 626.72,281.72 627.18,281.23 627.91,282.37 628.47,282.81 628.50,283.37 629.63,282.32 629.69,283.19 630.28,282.78 630.57,282.97 630.99,284.02 631.76,282.94 632.36,282.82 633.23,281.67 633.85,282.80 633.42,281.65 634.35,281.88 634.75,282.16 636.09,282.21 636.52,282.48 637.46,285.29 637.32,284.61 636.45,281.76 636.08,282.18 635.50,280.62 635.49,281.48 635.46,278.56 635.72,279.66 634.89,280.54 635.31,279.11 635.44,278.45 635.64,277.84 635.02,276.85 634.94,277.75 634.93,277.29 634.95,276.57 634.96,276.17 635.45,276.11 633.64,274.98 633.34,274.10 633.61,274.95 634.04,273.11 633.14,270.71 633.17,270.17 632.85,272.84 632.38,271.73 632.41,271.25 632.49,270.11 631.80,268.75 632.37,269.00 632.39,269.39 632.79,267.84 632.57,266.66 632.39,265.74 631.46,265.57 631.07,265.15 631.41,265.20 630.89,264.07 631.26,265.13 630.62,264.88 630.35,264.61 630.34,263.45" fill="none" stroke="#EDB120" stroke-width="0.45" stroke-linejoin="round" />
<polyline points="649.86,268.75 650.03,268.70 649.65,268.87 648.97,268.46 647.95,268.72 647.48,268.93 647.07,269.14 647.30,269.30 645.73,269.75 645.95,269.59 644.92,269.21 644.85,270.66 644.40,270.40 644.63,271.43 645.10,271.65 645.10,271.21 645.93,272.58 646.15,272.36 646.81,271.27 647.05,272.31 646.77,275.03 646.63,275.58 646.05,275.16 645.51,273.40 645.88,271.86 645.74,271.50 645.52,270.13 645.59,268.93 645.50,271.85 645.57,270.69 645.66,269.59 645.70,268.76 645.52,269.26 645.37,268.65 646.19,267.68 645.59,267.10 645.15,267.36 644.32,266.79 644.55,265.77 645.35,266.25 644.71,266.50 644.75,267.58 645.31,269.25 645.28,269.20 645.81,269.36 645.48,270.27 646.18,272.71 645.93,271.02 645.62,271.78 646.98,271.44 647.40,271.93 646.77,272.10 646.66,273.67 647.01,273.53 647.16,273.07 646.02,274.60 646.84,275.03 647.00,276.98 646.98,276.14 646.79,274.44 646.79,274.19 645.82,273.20 646.15,271.77 646.14,272.55 646.04,272.55 645.54,272.32 646.25,271.38 645.88,270.46 646.12,270.15 645.89,270.21 646.84,269.37 646.86,268.79 646.19,267.28 646.46,268.25 645.93,267.76 645.75,267.77 646.13,266.55 645.58,265.30 645.16,264.90 645.23,264.19 644.49,264.97 644.83,264.99 645.45,263.46 645.26,263.71 645.08,263.98 644.79,266.66 645.52,265.48 645.46,264.92 645.90,265.10 646.54,266.16 647.75,267.06 647.95,267.67 647.82,267.73 647.75,267.76 647.72,268.32 648.48,268.97 649.09,270.04 649.12,270.00 648.78,270.62 649.43,270.29 649.62,270.24 648.85,268.80 648.94,268.85 648.49,267.48 647.83,266.64 648.87,265.50 649.42,266.20 650.22,265.64 648.98,264.73 649.63,265.21 649.54,264.45 650.01,262.62 649.85,261.28 648.43,263.48" fill="none" stroke="#7E2F8E" stroke-width="0.45" stroke-linejoin="round" />
<polyline points="664.41,259.18 664.79,259.46 665.52,260.34 664.14,261.00 664.13,261.46 664.59,262.67 664.63,263.70 665.13,264.80 666.15,264.17 665.78,263.01 664.80,264.37 665.60,266.09 665.58,265.35 665.86,267.59 666.53,268.48 666.38,269.60 665.24,269.48 665.07,270.43 664.66,270.49 663.96,270.14 664.18,269.96 664.61,270.35 664.51,270.52 664.49,270.48 664.44,271.82 664.39,272.85 664.80,271.30 664.85,273.99 664.81,275.30 664.31,276.18 663.31,276.81 664.45,277.26 664.81,276.69 664.74,276.51 664.92,276.74 664.81,276.00 665.08,275.56 665.48,275.21 664.07,273.16 664.37,274.41 664.82,273.13 665.54,272.94 665.23,272.44 665.24,272.88 664.43,271.86 664.84,270.43 665.03,269.60 665.47,269.82 665.35,270.46 665.89,267.31 665.70,267.97 664.97,267.79 664.16,265.96 663.81,267.07 663.26,266.72 662.41,266.67 663.32,265.73 662.93,265.57 662.71,264.99 662.86,263.66 662.49,263.79 663.16,263.32 662.64,263.58 661.61,261.40 661.26,262.23 660.79,262.18 661.65,259.74 662.37,259.23 663.13,260.37 664.49,260.62 664.79,260.13 664.87,258.91 665.09,260.65 664.71,260.96 663.63,260.69 664.16,261.32 663.61,261.38 663.34,260.70 663.67,261.34 664.20,263.68 664.08,264.45 664.90,265.45 664.37,266.42 664.68,265.28 664.73,265.94 665.47,266.27 664.33,267.58 664.65,268.54 664.46,269.12 663.85,269.90 663.95,269.90 663.84,270.36 664.13,269.58 664.04,269.87 664.37,270.25 664.44,270.87 664.60,271.88 664.88,271.96 665.65,273.05 665.45,275.01 665.19,273.42 664.69,273.73 664.26,274.25 664.27,274.96 664.53,274.69 665.07,276.78 665.01,277.02 663.93,278.50 664.32,280.03 664.43,278.70 664.89,279.37" fill="none" stroke="#77AC30" stroke-width="0.45" stroke-linejoin="round" />
</g>
<rect x="587.2" y="226.3" width="91.19999999999993" height="79.09999999999997" fill="none" stroke="#444" stroke-width="0.9"/>
<line x1="587.20" y1="226.30" x2="588.80" y2="226.30" stroke="#333" stroke-width="0.7" />
<text x="585.40" y="228.80" font-size="6.4" text-anchor="end" fill="#222" font-family="Liberation Sans, sans-serif" >12</text>
<line x1="587.20" y1="242.12" x2="588.80" y2="242.12" stroke="#333" stroke-width="0.7" />
<text x="585.40" y="244.62" font-size="6.4" text-anchor="end" fill="#222" font-family="Liberation Sans, sans-serif" >8</text>
<line x1="587.20" y1="257.94" x2="588.80" y2="257.94" stroke="#333" stroke-width="0.7" />
<text x="585.40" y="260.44" font-size="6.4" text-anchor="end" fill="#222" font-family="Liberation Sans, sans-serif" >4</text>
<line x1="587.20" y1="273.76" x2="588.80" y2="273.76" stroke="#333" stroke-width="0.7" />
<text x="585.40" y="276.26" font-size="6.4" text-anchor="end" fill="#222" font-family="Liberation Sans, sans-serif" >0</text>
<line x1="587.20" y1="289.58" x2="588.80" y2="289.58" stroke="#333" stroke-width="0.7" />
<text x="585.40" y="292.08" font-size="6.4" text-anchor="end" fill="#222" font-family="Liberation Sans, sans-serif" >-4</text>
<line x1="587.20" y1="305.40" x2="588.80" y2="305.40" stroke="#333" stroke-width="0.7" />
<text x="585.40" y="307.90" font-size="6.4" text-anchor="end" fill="#222" font-family="Liberation Sans, sans-serif" >-8</text>
<line x1="587.80" y1="305.40" x2="587.80" y2="303.80" stroke="#333" stroke-width="0.7" />
<text x="587.80" y="313.40" font-size="6.4" text-anchor="middle" fill="#222" font-family="Liberation Sans, sans-serif" >0</text>
<line x1="605.90" y1="305.40" x2="605.90" y2="303.80" stroke="#333" stroke-width="0.7" />
<text x="605.90" y="313.40" font-size="6.4" text-anchor="middle" fill="#222" font-family="Liberation Sans, sans-serif" >0.12</text>
<line x1="624.10" y1="305.40" x2="624.10" y2="303.80" stroke="#333" stroke-width="0.7" />
<text x="624.10" y="313.40" font-size="6.4" text-anchor="middle" fill="#222" font-family="Liberation Sans, sans-serif" >0.24</text>
<line x1="642.20" y1="305.40" x2="642.20" y2="303.80" stroke="#333" stroke-width="0.7" />
<text x="642.20" y="313.40" font-size="6.4" text-anchor="middle" fill="#222" font-family="Liberation Sans, sans-serif" >0.36</text>
<line x1="660.30" y1="305.40" x2="660.30" y2="303.80" stroke="#333" stroke-width="0.7" />
<text x="660.30" y="313.40" font-size="6.4" text-anchor="middle" fill="#222" font-family="Liberation Sans, sans-serif" >0.48</text>
<line x1="678.40" y1="305.40" x2="678.40" y2="303.80" stroke="#333" stroke-width="0.7" />
<text x="678.40" y="313.40" font-size="6.4" text-anchor="middle" fill="#222" font-family="Liberation Sans, sans-serif" >0.6</text>
<text x="676.20" y="234.80" font-size="7.8" text-anchor="end" fill="#222" font-family="Liberation Sans, sans-serif" >10 Hz</text>
</svg></body></html>
